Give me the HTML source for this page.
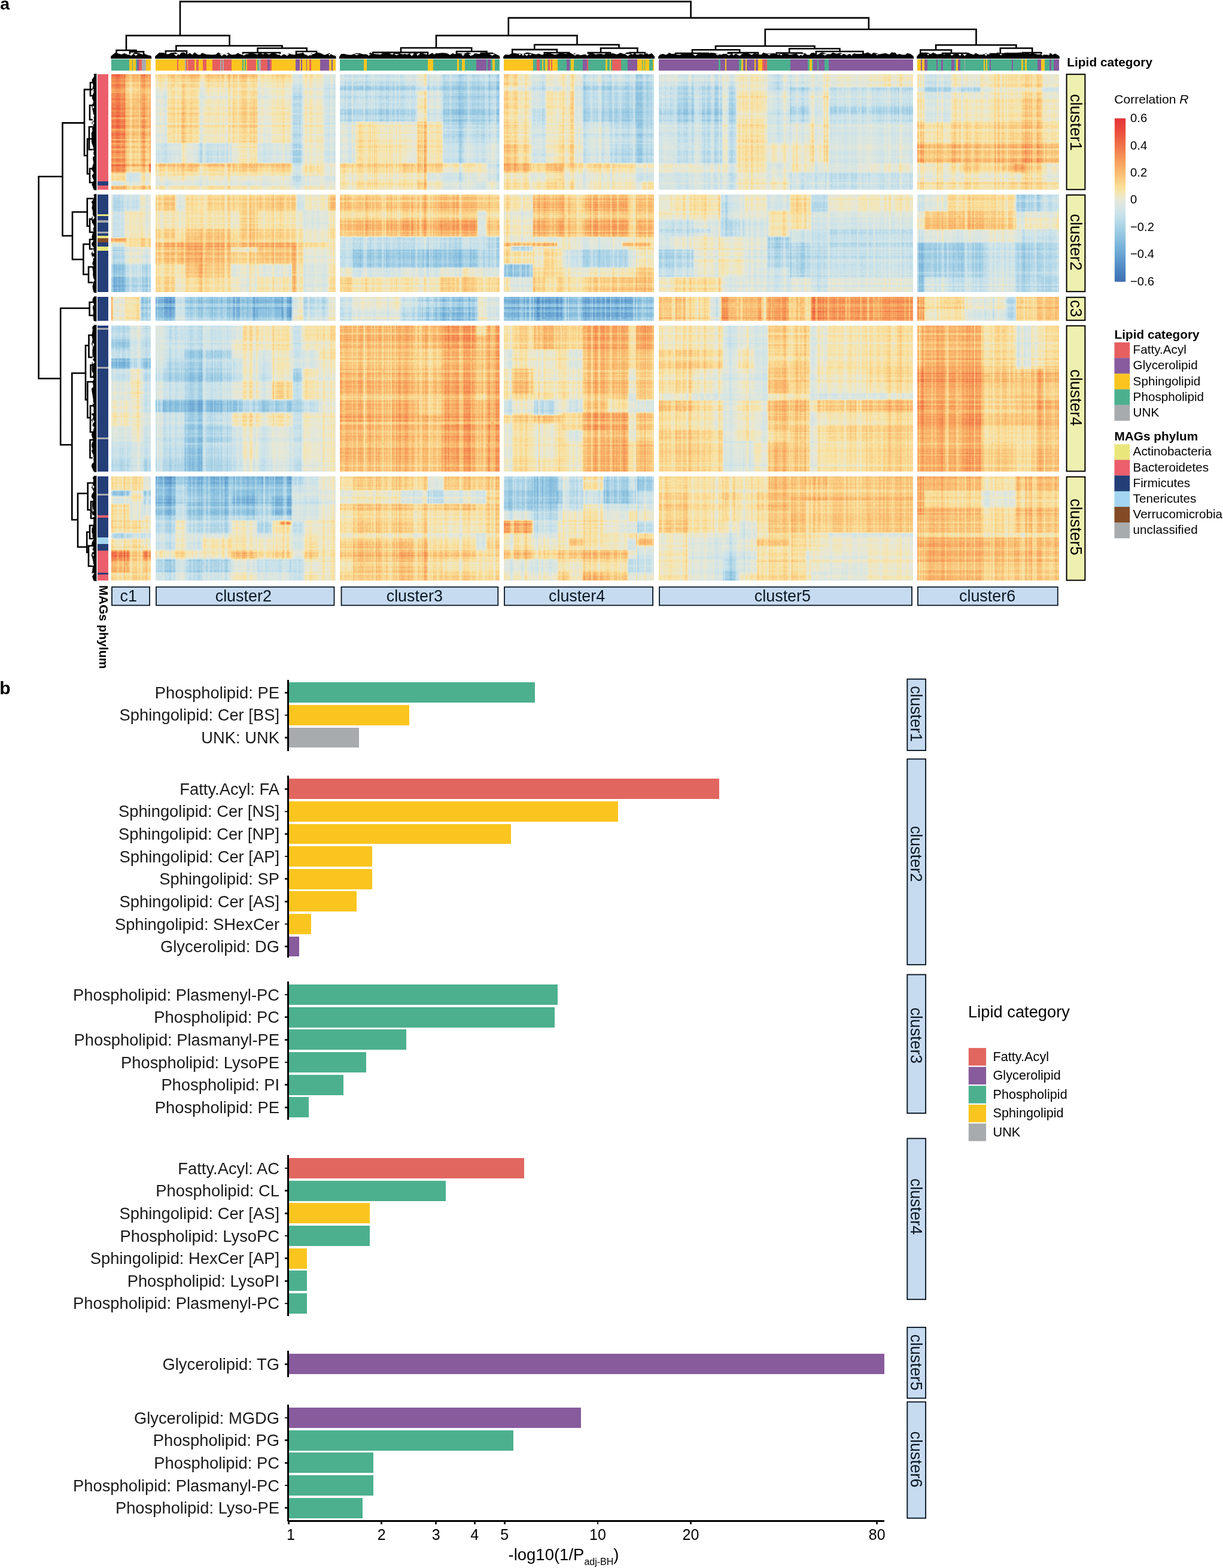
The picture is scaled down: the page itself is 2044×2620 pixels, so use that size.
<!DOCTYPE html>
<html lang="en"><head><meta charset="utf-8"><title>Figure</title>
<style>html,body{margin:0;padding:0;background:#fff;font-family:"Liberation Sans",sans-serif}svg{display:block}</style></head>
<body>
<svg width="2044" height="2620" viewBox="0 0 2044 2620" font-family="'Liberation Sans', sans-serif" role="img" aria-label="Heatmap of MAG-lipid correlations and lipid class enrichment bar chart">
<rect width="2044" height="2620" fill="#fff"/>
<defs><filter id="hm" filterUnits="userSpaceOnUse" primitiveUnits="userSpaceOnUse" x="178" y="116" width="1600" height="862.3" color-interpolation-filters="sRGB"><feOffset in="SourceGraphic" dx="0" dy="0" result="b"/><feTurbulence type="fractalNoise" baseFrequency="0.5 0.002" numOctaves="2" seed="3" result="t1"/><feColorMatrix in="t1" type="matrix" values="2.5 0 0 0 -0.75 2.5 0 0 0 -0.75 2.5 0 0 0 -0.75 0 0 0 0 1" result="n1"/><feTurbulence type="fractalNoise" baseFrequency="0.002 0.36" numOctaves="2" seed="8" result="t2"/><feColorMatrix in="t2" type="matrix" values="2.5 0 0 0 -0.75 2.5 0 0 0 -0.75 2.5 0 0 0 -0.75 0 0 0 0 1" result="n2"/><feTurbulence type="fractalNoise" baseFrequency="0.45 0.36" numOctaves="1" seed="21" result="t3"/><feColorMatrix in="t3" type="matrix" values="2.5 0 0 0 -0.75 2.5 0 0 0 -0.75 2.5 0 0 0 -0.75 0 0 0 0 1" result="n3"/><feTurbulence type="fractalNoise" baseFrequency="0.17 0.005" numOctaves="2" seed="40" result="t4"/><feColorMatrix in="t4" type="matrix" values="2.5 0 0 0 -0.75 2.5 0 0 0 -0.75 2.5 0 0 0 -0.75 0 0 0 0 1" result="n4"/><feComposite in="b" in2="n1" operator="arithmetic" k1="0.2" k2="0.9" k3="-0.1" k4="0.05" result="m1"/><feComposite in="m1" in2="n2" operator="arithmetic" k1="0.12" k2="0.94" k3="-0.06" k4="0.03" result="m2"/><feComposite in="m2" in2="n4" operator="arithmetic" k1="0" k2="1" k3="0.04" k4="-0.02" result="m3"/><feComposite in="m3" in2="n2" operator="arithmetic" k1="0" k2="1" k3="0.02" k4="-0.01" result="m4"/><feComposite in="m4" in2="n3" operator="arithmetic" k1="0" k2="1" k3="0.03" k4="-0.015" result="m5"/><feComponentTransfer in="m5"><feFuncR type="table" tableValues="0.243 0.259 0.278 0.294 0.31 0.337 0.361 0.388 0.412 0.439 0.471 0.498 0.525 0.557 0.592 0.627 0.659 0.694 0.729 0.761 0.796 0.824 0.847 0.875 0.902 0.929 0.957 0.973 0.984 0.984 0.98 0.98 0.98 0.976 0.973 0.969 0.965 0.957 0.953 0.949 0.941 0.937 0.933 0.925 0.922 0.918 0.91 0.902 0.898"/><feFuncG type="table" tableValues="0.435 0.459 0.486 0.51 0.533 0.561 0.588 0.616 0.643 0.667 0.69 0.718 0.741 0.761 0.784 0.804 0.824 0.839 0.855 0.875 0.89 0.894 0.902 0.906 0.91 0.906 0.902 0.886 0.867 0.835 0.8 0.769 0.737 0.702 0.667 0.631 0.596 0.561 0.522 0.486 0.447 0.412 0.376 0.341 0.306 0.282 0.255 0.227 0.204"/><feFuncB type="table" tableValues="0.698 0.714 0.733 0.753 0.769 0.784 0.8 0.812 0.827 0.839 0.847 0.859 0.871 0.878 0.886 0.894 0.902 0.91 0.914 0.918 0.925 0.906 0.886 0.871 0.851 0.776 0.706 0.647 0.588 0.549 0.514 0.478 0.439 0.416 0.392 0.369 0.345 0.329 0.314 0.298 0.282 0.271 0.259 0.247 0.235 0.231 0.227 0.224 0.22"/></feComponentTransfer></filter><filter id="hb" filterUnits="userSpaceOnUse" primitiveUnits="userSpaceOnUse" x="178" y="116" width="1600" height="862.3" color-interpolation-filters="sRGB"><feGaussianBlur stdDeviation="1.0"/></filter></defs>
<g filter="url(#hm)">
<g filter="url(#hb)">
<rect x="180" y="118" width="1596" height="858.3" fill="#808080"/>
<path fill="#D7D7D7" d="M180 118H209.6V138.2H180Z"/>
<path fill="#B0B0B0" d="M209.3 118H235.2V138.2H209.3Z"/>
<path fill="#D3D3D3" d="M234.9 118H249V138.2H234.9Z"/>
<path fill="#C1C1C1" d="M248.7 118H259.9V138.2H248.7Z"/>
<path fill="#929292" d="M259.6 118H278.7V138.2H259.6Z"/>
<path fill="#A1A1A1" d="M278.4 118H305V138.2H278.4Z"/>
<path fill="#AAAAAA" d="M304.7 118H311.9V138.2H304.7Z"/>
<path fill="#A6A6A6" d="M311.6 118H331.4V138.2H311.6Z"/>
<path fill="#A1A1A1" d="M331.1 118H387.4V138.2H331.1Z"/>
<path fill="#A6A6A6" d="M387.1 118H400V138.2H387.1Z"/>
<path fill="#AAAAAA" d="M399.7 118H430.9V138.2H399.7Z"/>
<path fill="#8F8F8F" d="M430.6 118H454.9V138.2H430.6Z"/>
<path fill="#9B9B9B" d="M454.6 118H488.1V138.2H454.6Z"/>
<path fill="#6F6F6F" d="M487.8 118H506.4V138.2H487.8Z"/>
<path fill="#929292" d="M506.1 118H540.8V138.2H506.1Z"/>
<path fill="#757575" d="M540.5 118H561.4V138.2H540.5Z"/>
<path fill="#CCCCCC" d="M180 137.9H209.6V152.3H180Z"/>
<path fill="#A0A0A0" d="M209.3 137.9H235.2V152.3H209.3Z"/>
<path fill="#C1C1C1" d="M234.9 137.9H249V152.3H234.9Z"/>
<path fill="#B6B6B6" d="M248.7 137.9H259.9V152.3H248.7Z"/>
<path fill="#878787" d="M259.6 137.9H278.7V152.3H259.6Z"/>
<path fill="#969696" d="M278.4 137.9H305V152.3H278.4Z"/>
<path fill="#A6A6A6" d="M304.7 137.9H311.9V152.3H304.7Z"/>
<path fill="#969696" d="M311.6 137.9H331.4V152.3H311.6Z"/>
<path fill="#8F8F8F" d="M331.1 137.9H387.4V152.3H331.1Z"/>
<path fill="#969696" d="M387.1 137.9H400V152.3H387.1ZM399.7 137.9H430.9V152.3H399.7Z"/>
<path fill="#848484" d="M430.6 137.9H454.9V152.3H430.6Z"/>
<path fill="#8C8C8C" d="M454.6 137.9H488.1V152.3H454.6Z"/>
<path fill="#6B6B6B" d="M487.8 137.9H506.4V152.3H487.8Z"/>
<path fill="#878787" d="M506.1 137.9H540.8V152.3H506.1Z"/>
<path fill="#6F6F6F" d="M540.5 137.9H561.4V152.3H540.5Z"/>
<path fill="#D3D3D3" d="M180 152H209.6V239.3H180Z"/>
<path fill="#A7A7A7" d="M209.3 152H235.2V239.3H209.3Z"/>
<path fill="#C1C1C1" d="M234.9 152H249V239.3H234.9Z"/>
<path fill="#B0B0B0" d="M248.7 152H259.9V239.3H248.7Z"/>
<path fill="#797979" d="M259.6 152H278.7V239.3H259.6Z"/>
<path fill="#969696" d="M278.4 152H305V239.3H278.4Z"/>
<path fill="#A9A9A9" d="M304.7 152H311.9V239.3H304.7Z"/>
<path fill="#969696" d="M311.6 152H331.4V239.3H311.6Z"/>
<path fill="#878787" d="M331.1 152H387.4V239.3H331.1Z"/>
<path fill="#969696" d="M387.1 152H400V239.3H387.1Z"/>
<path fill="#9E9E9E" d="M399.7 152H430.9V239.3H399.7Z"/>
<path fill="#808080" d="M430.6 152H454.9V239.3H430.6Z"/>
<path fill="#8A8A8A" d="M454.6 152H488.1V239.3H454.6Z"/>
<path fill="#5E5E5E" d="M487.8 152H506.4V239.3H487.8Z"/>
<path fill="#8A8A8A" d="M506.1 152H540.8V239.3H506.1Z"/>
<path fill="#6F6F6F" d="M540.5 152H561.4V239.3H540.5Z"/>
<path fill="#CCCCCC" d="M180 239H209.6V273.2H180Z"/>
<path fill="#A0A0A0" d="M209.3 239H235.2V273.2H209.3Z"/>
<path fill="#B6B6B6" d="M234.9 239H249V273.2H234.9Z"/>
<path fill="#ABABAB" d="M248.7 239H259.9V273.2H248.7Z"/>
<path fill="#676767" d="M259.6 239H278.7V273.2H259.6Z"/>
<path fill="#737373" d="M278.4 239H305V273.2H278.4Z"/>
<path fill="#8C8C8C" d="M304.7 239H311.9V273.2H304.7Z"/>
<path fill="#797979" d="M311.6 239H331.4V273.2H311.6Z"/>
<path fill="#646464" d="M331.1 239H387.4V273.2H331.1Z"/>
<path fill="#808080" d="M387.1 239H400V273.2H387.1Z"/>
<path fill="#8F8F8F" d="M399.7 239H430.9V273.2H399.7Z"/>
<path fill="#6F6F6F" d="M430.6 239H454.9V273.2H430.6Z"/>
<path fill="#737373" d="M454.6 239H488.1V273.2H454.6Z"/>
<path fill="#525252" d="M487.8 239H506.4V273.2H487.8Z"/>
<path fill="#848484" d="M506.1 239H540.8V273.2H506.1Z"/>
<path fill="#6B6B6B" d="M540.5 239H561.4V273.2H540.5Z"/>
<path fill="#D7D7D7" d="M180 272.9H209.6V278.2H180Z"/>
<path fill="#B6B6B6" d="M209.3 272.9H235.2V278.2H209.3Z"/>
<path fill="#C1C1C1" d="M234.9 272.9H249V278.2H234.9Z"/>
<path fill="#E2E2E2" d="M248.7 272.9H259.9V278.2H248.7Z"/>
<path fill="#B5B5B5" d="M259.6 272.9H278.7V278.2H259.6ZM278.4 272.9H305V278.2H278.4ZM304.7 272.9H311.9V278.2H304.7ZM311.6 272.9H331.4V278.2H311.6Z"/>
<path fill="#B2B2B2" d="M331.1 272.9H387.4V278.2H331.1Z"/>
<path fill="#B5B5B5" d="M387.1 272.9H400V278.2H387.1ZM399.7 272.9H430.9V278.2H399.7Z"/>
<path fill="#ADADAD" d="M430.6 272.9H454.9V278.2H430.6Z"/>
<path fill="#B0B0B0" d="M454.6 272.9H488.1V278.2H454.6Z"/>
<path fill="#6B6B6B" d="M487.8 272.9H506.4V278.2H487.8Z"/>
<path fill="#929292" d="M506.1 272.9H540.8V278.2H506.1Z"/>
<path fill="#878787" d="M540.5 272.9H561.4V278.2H540.5Z"/>
<path fill="#DCDCDC" d="M180 277.9H209.6V288.5H180Z"/>
<path fill="#A0A0A0" d="M209.3 277.9H235.2V288.5H209.3Z"/>
<path fill="#B0B0B0" d="M234.9 277.9H249V288.5H234.9Z"/>
<path fill="#E2E2E2" d="M248.7 277.9H259.9V288.5H248.7Z"/>
<path fill="#9B9B9B" d="M259.6 277.9H278.7V288.5H259.6Z"/>
<path fill="#A1A1A1" d="M278.4 277.9H305V288.5H278.4Z"/>
<path fill="#A6A6A6" d="M304.7 277.9H311.9V288.5H304.7ZM311.6 277.9H331.4V288.5H311.6Z"/>
<path fill="#969696" d="M331.1 277.9H387.4V288.5H331.1Z"/>
<path fill="#AAAAAA" d="M387.1 277.9H400V288.5H387.1Z"/>
<path fill="#ADADAD" d="M399.7 277.9H430.9V288.5H399.7Z"/>
<path fill="#9B9B9B" d="M430.6 277.9H454.9V288.5H430.6Z"/>
<path fill="#A1A1A1" d="M454.6 277.9H488.1V288.5H454.6Z"/>
<path fill="#6F6F6F" d="M487.8 277.9H506.4V288.5H487.8Z"/>
<path fill="#9B9B9B" d="M506.1 277.9H540.8V288.5H506.1Z"/>
<path fill="#797979" d="M540.5 277.9H561.4V288.5H540.5Z"/>
<path fill="#A0A0A0" d="M180 288.2H209.6V303.4H180Z"/>
<path fill="#797979" d="M209.3 288.2H235.2V303.4H209.3Z"/>
<path fill="#959595" d="M234.9 288.2H249V303.4H234.9ZM248.7 288.2H259.9V303.4H248.7Z"/>
<path fill="#878787" d="M259.6 288.2H278.7V303.4H259.6Z"/>
<path fill="#8C8C8C" d="M278.4 288.2H305V303.4H278.4Z"/>
<path fill="#929292" d="M304.7 288.2H311.9V303.4H304.7Z"/>
<path fill="#878787" d="M311.6 288.2H331.4V303.4H311.6ZM331.1 288.2H387.4V303.4H331.1ZM387.1 288.2H400V303.4H387.1Z"/>
<path fill="#8C8C8C" d="M399.7 288.2H430.9V303.4H399.7Z"/>
<path fill="#848484" d="M430.6 288.2H454.9V303.4H430.6ZM454.6 288.2H488.1V303.4H454.6Z"/>
<path fill="#676767" d="M487.8 288.2H506.4V303.4H487.8Z"/>
<path fill="#848484" d="M506.1 288.2H540.8V303.4H506.1Z"/>
<path fill="#757575" d="M540.5 288.2H561.4V303.4H540.5Z"/>
<path fill="#6F6F6F" d="M180 303.1H209.6V310.3H180Z"/>
<path fill="#797979" d="M209.3 303.1H235.2V310.3H209.3Z"/>
<path fill="#808080" d="M234.9 303.1H249V310.3H234.9ZM248.7 303.1H259.9V310.3H248.7Z"/>
<path fill="#757575" d="M259.6 303.1H278.7V310.3H259.6ZM278.4 303.1H305V310.3H278.4Z"/>
<path fill="#797979" d="M304.7 303.1H311.9V310.3H304.7Z"/>
<path fill="#757575" d="M311.6 303.1H331.4V310.3H311.6ZM331.1 303.1H387.4V310.3H331.1ZM387.1 303.1H400V310.3H387.1ZM399.7 303.1H430.9V310.3H399.7ZM430.6 303.1H454.9V310.3H430.6ZM454.6 303.1H488.1V310.3H454.6Z"/>
<path fill="#676767" d="M487.8 303.1H506.4V310.3H487.8Z"/>
<path fill="#757575" d="M506.1 303.1H540.8V310.3H506.1ZM540.5 303.1H561.4V310.3H540.5Z"/>
<path fill="#B0B0B0" d="M180 310H209.6V319.4H180Z"/>
<path fill="#9A9A9A" d="M209.3 310H235.2V319.4H209.3Z"/>
<path fill="#ABABAB" d="M234.9 310H249V319.4H234.9ZM248.7 310H259.9V319.4H248.7Z"/>
<path fill="#8C8C8C" d="M259.6 310H278.7V319.4H259.6ZM278.4 310H305V319.4H278.4Z"/>
<path fill="#8F8F8F" d="M304.7 310H311.9V319.4H304.7Z"/>
<path fill="#8C8C8C" d="M311.6 310H331.4V319.4H311.6Z"/>
<path fill="#8F8F8F" d="M331.1 310H387.4V319.4H331.1ZM387.1 310H400V319.4H387.1ZM399.7 310H430.9V319.4H399.7Z"/>
<path fill="#878787" d="M430.6 310H454.9V319.4H430.6ZM454.6 310H488.1V319.4H454.6Z"/>
<path fill="#757575" d="M487.8 310H506.4V319.4H487.8Z"/>
<path fill="#8C8C8C" d="M506.1 310H540.8V319.4H506.1Z"/>
<path fill="#808080" d="M540.5 310H561.4V319.4H540.5Z"/>
<path fill="#717171" d="M564.6 118H576.3V143.2H564.6Z"/>
<path fill="#696969" d="M576 118H594.6V143.2H576Z"/>
<path fill="#6D6D6D" d="M594.3 118H624.4V143.2H594.3Z"/>
<path fill="#696969" d="M624.1 118H672.4V143.2H624.1Z"/>
<path fill="#717171" d="M672.1 118H697.6V143.2H672.1Z"/>
<path fill="#898989" d="M697.3 118H713.6V143.2H697.3Z"/>
<path fill="#767676" d="M713.3 118H741.1V143.2H713.3Z"/>
<path fill="#5E5E5E" d="M740.8 118H766.3V143.2H740.8Z"/>
<path fill="#565656" d="M766 118H776.6V143.2H766Z"/>
<path fill="#5E5E5E" d="M776.3 118H796V143.2H776.3Z"/>
<path fill="#636363" d="M795.7 118H814.3V143.2H795.7Z"/>
<path fill="#565656" d="M814 118H838.6V143.2H814Z"/>
<path fill="#A2A2A2" d="M838.3 118H865.8V143.2H838.3Z"/>
<path fill="#8F8F8F" d="M865.5 118H889.9V143.2H865.5Z"/>
<path fill="#717171" d="M889.6 118H912.8V143.2H889.6Z"/>
<path fill="#898989" d="M912.5 118H931.1V143.2H912.5Z"/>
<path fill="#858585" d="M930.8 118H950.3V143.2H930.8Z"/>
<path fill="#565656" d="M564.6 142.9H576.3V152.3H564.6Z"/>
<path fill="#515151" d="M576 142.9H594.6V152.3H576ZM594.3 142.9H624.4V152.3H594.3ZM624.1 142.9H672.4V152.3H624.1Z"/>
<path fill="#565656" d="M672.1 142.9H697.6V152.3H672.1Z"/>
<path fill="#6D6D6D" d="M697.3 142.9H713.6V152.3H697.3Z"/>
<path fill="#636363" d="M713.3 142.9H741.1V152.3H713.3Z"/>
<path fill="#4B4B4B" d="M740.8 142.9H766.3V152.3H740.8Z"/>
<path fill="#474747" d="M766 142.9H776.6V152.3H766Z"/>
<path fill="#515151" d="M776.3 142.9H796V152.3H776.3ZM795.7 142.9H814.3V152.3H795.7Z"/>
<path fill="#474747" d="M814 142.9H838.6V152.3H814Z"/>
<path fill="#898989" d="M838.3 142.9H865.8V152.3H838.3Z"/>
<path fill="#808080" d="M865.5 142.9H889.9V152.3H865.5Z"/>
<path fill="#636363" d="M889.6 142.9H912.8V152.3H889.6Z"/>
<path fill="#7A7A7A" d="M912.5 142.9H931.1V152.3H912.5Z"/>
<path fill="#717171" d="M930.8 142.9H950.3V152.3H930.8Z"/>
<path fill="#696969" d="M564.6 152H576.3V181H564.6Z"/>
<path fill="#636363" d="M576 152H594.6V181H576Z"/>
<path fill="#6D6D6D" d="M594.3 152H624.4V181H594.3Z"/>
<path fill="#636363" d="M624.1 152H672.4V181H624.1Z"/>
<path fill="#696969" d="M672.1 152H697.6V181H672.1Z"/>
<path fill="#8F8F8F" d="M697.3 152H713.6V181H697.3Z"/>
<path fill="#7A7A7A" d="M713.3 152H741.1V181H713.3Z"/>
<path fill="#565656" d="M740.8 152H766.3V181H740.8Z"/>
<path fill="#4B4B4B" d="M766 152H776.6V181H766Z"/>
<path fill="#565656" d="M776.3 152H796V181H776.3Z"/>
<path fill="#5A5A5A" d="M795.7 152H814.3V181H795.7Z"/>
<path fill="#565656" d="M814 152H838.6V181H814Z"/>
<path fill="#9C9C9C" d="M838.3 152H865.8V181H838.3Z"/>
<path fill="#8F8F8F" d="M865.5 152H889.9V181H865.5Z"/>
<path fill="#717171" d="M889.6 152H912.8V181H889.6Z"/>
<path fill="#8F8F8F" d="M912.5 152H931.1V181H912.5Z"/>
<path fill="#898989" d="M930.8 152H950.3V181H930.8Z"/>
<path fill="#5A5A5A" d="M564.6 180.7H576.3V203.8H564.6Z"/>
<path fill="#515151" d="M576 180.7H594.6V203.8H576Z"/>
<path fill="#5A5A5A" d="M594.3 180.7H624.4V203.8H594.3Z"/>
<path fill="#515151" d="M624.1 180.7H672.4V203.8H624.1Z"/>
<path fill="#5A5A5A" d="M672.1 180.7H697.6V203.8H672.1Z"/>
<path fill="#898989" d="M697.3 180.7H713.6V203.8H697.3Z"/>
<path fill="#717171" d="M713.3 180.7H741.1V203.8H713.3Z"/>
<path fill="#474747" d="M740.8 180.7H766.3V203.8H740.8Z"/>
<path fill="#3E3E3E" d="M766 180.7H776.6V203.8H766Z"/>
<path fill="#4B4B4B" d="M776.3 180.7H796V203.8H776.3ZM795.7 180.7H814.3V203.8H795.7ZM814 180.7H838.6V203.8H814Z"/>
<path fill="#969696" d="M838.3 180.7H865.8V203.8H838.3Z"/>
<path fill="#898989" d="M865.5 180.7H889.9V203.8H865.5Z"/>
<path fill="#5E5E5E" d="M889.6 180.7H912.8V203.8H889.6Z"/>
<path fill="#898989" d="M912.5 180.7H931.1V203.8H912.5Z"/>
<path fill="#808080" d="M930.8 180.7H950.3V203.8H930.8Z"/>
<path fill="#7A7A7A" d="M564.6 203.5H576.3V239.3H564.6Z"/>
<path fill="#767676" d="M576 203.5H594.6V239.3H576Z"/>
<path fill="#939393" d="M594.3 203.5H624.4V239.3H594.3Z"/>
<path fill="#898989" d="M624.1 203.5H672.4V239.3H624.1Z"/>
<path fill="#858585" d="M672.1 203.5H697.6V239.3H672.1Z"/>
<path fill="#A2A2A2" d="M697.3 203.5H713.6V239.3H697.3Z"/>
<path fill="#8F8F8F" d="M713.3 203.5H741.1V239.3H713.3Z"/>
<path fill="#5E5E5E" d="M740.8 203.5H766.3V239.3H740.8Z"/>
<path fill="#515151" d="M766 203.5H776.6V239.3H766Z"/>
<path fill="#636363" d="M776.3 203.5H796V239.3H776.3Z"/>
<path fill="#5E5E5E" d="M795.7 203.5H814.3V239.3H795.7Z"/>
<path fill="#636363" d="M814 203.5H838.6V239.3H814Z"/>
<path fill="#9C9C9C" d="M838.3 203.5H865.8V239.3H838.3Z"/>
<path fill="#8F8F8F" d="M865.5 203.5H889.9V239.3H865.5Z"/>
<path fill="#6D6D6D" d="M889.6 203.5H912.8V239.3H889.6Z"/>
<path fill="#898989" d="M912.5 203.5H931.1V239.3H912.5ZM930.8 203.5H950.3V239.3H930.8Z"/>
<path fill="#717171" d="M564.6 239H576.3V273.2H564.6ZM576 239H594.6V273.2H576Z"/>
<path fill="#939393" d="M594.3 239H624.4V273.2H594.3Z"/>
<path fill="#8F8F8F" d="M624.1 239H672.4V273.2H624.1Z"/>
<path fill="#858585" d="M672.1 239H697.6V273.2H672.1Z"/>
<path fill="#A6A6A6" d="M697.3 239H713.6V273.2H697.3Z"/>
<path fill="#8F8F8F" d="M713.3 239H741.1V273.2H713.3Z"/>
<path fill="#696969" d="M740.8 239H766.3V273.2H740.8Z"/>
<path fill="#5A5A5A" d="M766 239H776.6V273.2H766Z"/>
<path fill="#6D6D6D" d="M776.3 239H796V273.2H776.3Z"/>
<path fill="#696969" d="M795.7 239H814.3V273.2H795.7Z"/>
<path fill="#717171" d="M814 239H838.6V273.2H814Z"/>
<path fill="#A6A6A6" d="M838.3 239H865.8V273.2H838.3Z"/>
<path fill="#969696" d="M865.5 239H889.9V273.2H865.5Z"/>
<path fill="#6D6D6D" d="M889.6 239H912.8V273.2H889.6Z"/>
<path fill="#898989" d="M912.5 239H931.1V273.2H912.5Z"/>
<path fill="#8F8F8F" d="M930.8 239H950.3V273.2H930.8Z"/>
<path fill="#A6A6A6" d="M564.6 272.9H576.3V280.5H564.6Z"/>
<path fill="#A2A2A2" d="M576 272.9H594.6V280.5H576Z"/>
<path fill="#AAAAAA" d="M594.3 272.9H624.4V280.5H594.3ZM624.1 272.9H672.4V280.5H624.1Z"/>
<path fill="#B5B5B5" d="M672.1 272.9H697.6V280.5H672.1Z"/>
<path fill="#BDBDBD" d="M697.3 272.9H713.6V280.5H697.3Z"/>
<path fill="#AFAFAF" d="M713.3 272.9H741.1V280.5H713.3Z"/>
<path fill="#9C9C9C" d="M740.8 272.9H766.3V280.5H740.8Z"/>
<path fill="#969696" d="M766 272.9H776.6V280.5H766ZM776.3 272.9H796V280.5H776.3Z"/>
<path fill="#939393" d="M795.7 272.9H814.3V280.5H795.7Z"/>
<path fill="#636363" d="M814 272.9H838.6V280.5H814Z"/>
<path fill="#C2C2C2" d="M838.3 272.9H865.8V280.5H838.3Z"/>
<path fill="#B9B9B9" d="M865.5 272.9H889.9V280.5H865.5Z"/>
<path fill="#9C9C9C" d="M889.6 272.9H912.8V280.5H889.6Z"/>
<path fill="#B5B5B5" d="M912.5 272.9H931.1V280.5H912.5Z"/>
<path fill="#AFAFAF" d="M930.8 272.9H950.3V280.5H930.8Z"/>
<path fill="#969696" d="M564.6 280.2H576.3V288.5H564.6Z"/>
<path fill="#939393" d="M576 280.2H594.6V288.5H576Z"/>
<path fill="#9C9C9C" d="M594.3 280.2H624.4V288.5H594.3ZM624.1 280.2H672.4V288.5H624.1Z"/>
<path fill="#AAAAAA" d="M672.1 280.2H697.6V288.5H672.1Z"/>
<path fill="#B5B5B5" d="M697.3 280.2H713.6V288.5H697.3Z"/>
<path fill="#A2A2A2" d="M713.3 280.2H741.1V288.5H713.3Z"/>
<path fill="#898989" d="M740.8 280.2H766.3V288.5H740.8Z"/>
<path fill="#858585" d="M766 280.2H776.6V288.5H766Z"/>
<path fill="#898989" d="M776.3 280.2H796V288.5H776.3Z"/>
<path fill="#8F8F8F" d="M795.7 280.2H814.3V288.5H795.7Z"/>
<path fill="#696969" d="M814 280.2H838.6V288.5H814Z"/>
<path fill="#B9B9B9" d="M838.3 280.2H865.8V288.5H838.3Z"/>
<path fill="#B5B5B5" d="M865.5 280.2H889.9V288.5H865.5Z"/>
<path fill="#939393" d="M889.6 280.2H912.8V288.5H889.6Z"/>
<path fill="#AFAFAF" d="M912.5 280.2H931.1V288.5H912.5Z"/>
<path fill="#B5B5B5" d="M930.8 280.2H950.3V288.5H930.8Z"/>
<path fill="#8F8F8F" d="M564.6 288.2H576.3V303.4H564.6Z"/>
<path fill="#898989" d="M576 288.2H594.6V303.4H576Z"/>
<path fill="#8F8F8F" d="M594.3 288.2H624.4V303.4H594.3ZM624.1 288.2H672.4V303.4H624.1Z"/>
<path fill="#939393" d="M672.1 288.2H697.6V303.4H672.1Z"/>
<path fill="#969696" d="M697.3 288.2H713.6V303.4H697.3Z"/>
<path fill="#808080" d="M713.3 288.2H741.1V303.4H713.3Z"/>
<path fill="#767676" d="M740.8 288.2H766.3V303.4H740.8Z"/>
<path fill="#717171" d="M766 288.2H776.6V303.4H766Z"/>
<path fill="#7A7A7A" d="M776.3 288.2H796V303.4H776.3Z"/>
<path fill="#858585" d="M795.7 288.2H814.3V303.4H795.7Z"/>
<path fill="#6D6D6D" d="M814 288.2H838.6V303.4H814Z"/>
<path fill="#8F8F8F" d="M838.3 288.2H865.8V303.4H838.3ZM865.5 288.2H889.9V303.4H865.5Z"/>
<path fill="#808080" d="M889.6 288.2H912.8V303.4H889.6Z"/>
<path fill="#969696" d="M912.5 288.2H931.1V303.4H912.5ZM930.8 288.2H950.3V303.4H930.8Z"/>
<path fill="#898989" d="M564.6 303.1H576.3V319.4H564.6Z"/>
<path fill="#858585" d="M576 303.1H594.6V319.4H576Z"/>
<path fill="#939393" d="M594.3 303.1H624.4V319.4H594.3Z"/>
<path fill="#8F8F8F" d="M624.1 303.1H672.4V319.4H624.1Z"/>
<path fill="#939393" d="M672.1 303.1H697.6V319.4H672.1Z"/>
<path fill="#A2A2A2" d="M697.3 303.1H713.6V319.4H697.3Z"/>
<path fill="#898989" d="M713.3 303.1H741.1V319.4H713.3Z"/>
<path fill="#7A7A7A" d="M740.8 303.1H766.3V319.4H740.8ZM766 303.1H776.6V319.4H766Z"/>
<path fill="#767676" d="M776.3 303.1H796V319.4H776.3Z"/>
<path fill="#717171" d="M795.7 303.1H814.3V319.4H795.7Z"/>
<path fill="#7A7A7A" d="M814 303.1H838.6V319.4H814Z"/>
<path fill="#939393" d="M838.3 303.1H865.8V319.4H838.3ZM865.5 303.1H889.9V319.4H865.5Z"/>
<path fill="#898989" d="M889.6 303.1H912.8V319.4H889.6Z"/>
<path fill="#9C9C9C" d="M912.5 303.1H931.1V319.4H912.5Z"/>
<path fill="#8F8F8F" d="M930.8 303.1H950.3V319.4H930.8Z"/>
<path fill="#898989" d="M940 118H951.7V143.2H940Z"/>
<path fill="#969696" d="M951.4 118H959.8V143.2H951.4Z"/>
<path fill="#808080" d="M959.5 118H974.6V143.2H959.5Z"/>
<path fill="#696969" d="M974.3 118H1022.7V143.2H974.3ZM1022.4 118H1063.9V143.2H1022.4Z"/>
<path fill="#515151" d="M1063.6 118H1073V143.2H1063.6Z"/>
<path fill="#636363" d="M1072.7 118H1097.8V143.2H1072.7Z"/>
<path fill="#7A7A7A" d="M1097.5 118H1121.1V143.2H1097.5ZM1120.8 118H1132.6V143.2H1120.8Z"/>
<path fill="#717171" d="M1132.3 118H1160V143.2H1132.3Z"/>
<path fill="#7A7A7A" d="M1159.7 118H1169.2V143.2H1159.7Z"/>
<path fill="#717171" d="M1168.9 118H1208.1V143.2H1168.9Z"/>
<path fill="#898989" d="M1207.8 118H1217.2V143.2H1207.8Z"/>
<path fill="#7A7A7A" d="M1216.9 118H1231V143.2H1216.9Z"/>
<path fill="#8F8F8F" d="M1230.7 118H1283.6V143.2H1230.7Z"/>
<path fill="#6E6E6E" d="M1283.3 118H1313.4V143.2H1283.3Z"/>
<path fill="#7A7A7A" d="M1313.1 118H1330.3V143.2H1313.1Z"/>
<path fill="#808080" d="M940 142.9H951.7V152.3H940Z"/>
<path fill="#8F8F8F" d="M951.4 142.9H959.8V152.3H951.4Z"/>
<path fill="#717171" d="M959.5 142.9H974.6V152.3H959.5Z"/>
<path fill="#515151" d="M974.3 142.9H1022.7V152.3H974.3Z"/>
<path fill="#565656" d="M1022.4 142.9H1063.9V152.3H1022.4Z"/>
<path fill="#474747" d="M1063.6 142.9H1073V152.3H1063.6Z"/>
<path fill="#5A5A5A" d="M1072.7 142.9H1097.8V152.3H1072.7Z"/>
<path fill="#6A6A6A" d="M1097.5 142.9H1121.1V152.3H1097.5Z"/>
<path fill="#656565" d="M1120.8 142.9H1132.6V152.3H1120.8Z"/>
<path fill="#595959" d="M1132.3 142.9H1160V152.3H1132.3Z"/>
<path fill="#6E6E6E" d="M1159.7 142.9H1169.2V152.3H1159.7Z"/>
<path fill="#595959" d="M1168.9 142.9H1208.1V152.3H1168.9Z"/>
<path fill="#808080" d="M1207.8 142.9H1217.2V152.3H1207.8Z"/>
<path fill="#656565" d="M1216.9 142.9H1231V152.3H1216.9Z"/>
<path fill="#898989" d="M1230.7 142.9H1283.6V152.3H1230.7Z"/>
<path fill="#656565" d="M1283.3 142.9H1313.4V152.3H1283.3Z"/>
<path fill="#6E6E6E" d="M1313.1 142.9H1330.3V152.3H1313.1Z"/>
<path fill="#898989" d="M940 152H951.7V181H940Z"/>
<path fill="#9C9C9C" d="M951.4 152H959.8V181H951.4Z"/>
<path fill="#767676" d="M959.5 152H974.6V181H959.5Z"/>
<path fill="#5E5E5E" d="M974.3 152H1022.7V181H974.3Z"/>
<path fill="#5A5A5A" d="M1022.4 152H1063.9V181H1022.4Z"/>
<path fill="#474747" d="M1063.6 152H1073V181H1063.6Z"/>
<path fill="#5A5A5A" d="M1072.7 152H1097.8V181H1072.7Z"/>
<path fill="#656565" d="M1097.5 152H1121.1V181H1097.5Z"/>
<path fill="#606060" d="M1120.8 152H1132.6V181H1120.8Z"/>
<path fill="#535353" d="M1132.3 152H1160V181H1132.3Z"/>
<path fill="#717171" d="M1159.7 152H1169.2V181H1159.7Z"/>
<path fill="#595959" d="M1168.9 152H1208.1V181H1168.9Z"/>
<path fill="#808080" d="M1207.8 152H1217.2V181H1207.8Z"/>
<path fill="#595959" d="M1216.9 152H1231V181H1216.9Z"/>
<path fill="#8F8F8F" d="M1230.7 152H1283.6V181H1230.7Z"/>
<path fill="#717171" d="M1283.3 152H1313.4V181H1283.3ZM1313.1 152H1330.3V181H1313.1Z"/>
<path fill="#8F8F8F" d="M940 180.7H951.7V203.8H940Z"/>
<path fill="#9C9C9C" d="M951.4 180.7H959.8V203.8H951.4Z"/>
<path fill="#767676" d="M959.5 180.7H974.6V203.8H959.5Z"/>
<path fill="#515151" d="M974.3 180.7H1022.7V203.8H974.3Z"/>
<path fill="#4B4B4B" d="M1022.4 180.7H1063.9V203.8H1022.4Z"/>
<path fill="#444444" d="M1063.6 180.7H1073V203.8H1063.6Z"/>
<path fill="#565656" d="M1072.7 180.7H1097.8V203.8H1072.7Z"/>
<path fill="#595959" d="M1097.5 180.7H1121.1V203.8H1097.5ZM1120.8 180.7H1132.6V203.8H1120.8Z"/>
<path fill="#4A4A4A" d="M1132.3 180.7H1160V203.8H1132.3Z"/>
<path fill="#6A6A6A" d="M1159.7 180.7H1169.2V203.8H1159.7Z"/>
<path fill="#4E4E4E" d="M1168.9 180.7H1208.1V203.8H1168.9Z"/>
<path fill="#7A7A7A" d="M1207.8 180.7H1217.2V203.8H1207.8Z"/>
<path fill="#535353" d="M1216.9 180.7H1231V203.8H1216.9Z"/>
<path fill="#898989" d="M1230.7 180.7H1283.6V203.8H1230.7Z"/>
<path fill="#6A6A6A" d="M1283.3 180.7H1313.4V203.8H1283.3ZM1313.1 180.7H1330.3V203.8H1313.1Z"/>
<path fill="#8F8F8F" d="M940 203.5H951.7V239.3H940Z"/>
<path fill="#9C9C9C" d="M951.4 203.5H959.8V239.3H951.4Z"/>
<path fill="#808080" d="M959.5 203.5H974.6V239.3H959.5Z"/>
<path fill="#717171" d="M974.3 203.5H1022.7V239.3H974.3Z"/>
<path fill="#636363" d="M1022.4 203.5H1063.9V239.3H1022.4Z"/>
<path fill="#4B4B4B" d="M1063.6 203.5H1073V239.3H1063.6Z"/>
<path fill="#5E5E5E" d="M1072.7 203.5H1097.8V239.3H1072.7Z"/>
<path fill="#717171" d="M1097.5 203.5H1121.1V239.3H1097.5Z"/>
<path fill="#6E6E6E" d="M1120.8 203.5H1132.6V239.3H1120.8Z"/>
<path fill="#656565" d="M1132.3 203.5H1160V239.3H1132.3Z"/>
<path fill="#777777" d="M1159.7 203.5H1169.2V239.3H1159.7Z"/>
<path fill="#656565" d="M1168.9 203.5H1208.1V239.3H1168.9Z"/>
<path fill="#858585" d="M1207.8 203.5H1217.2V239.3H1207.8Z"/>
<path fill="#656565" d="M1216.9 203.5H1231V239.3H1216.9Z"/>
<path fill="#939393" d="M1230.7 203.5H1283.6V239.3H1230.7Z"/>
<path fill="#717171" d="M1283.3 203.5H1313.4V239.3H1283.3Z"/>
<path fill="#777777" d="M1313.1 203.5H1330.3V239.3H1313.1Z"/>
<path fill="#939393" d="M940 239H951.7V273.2H940Z"/>
<path fill="#A2A2A2" d="M951.4 239H959.8V273.2H951.4Z"/>
<path fill="#858585" d="M959.5 239H974.6V273.2H959.5Z"/>
<path fill="#717171" d="M974.3 239H1022.7V273.2H974.3Z"/>
<path fill="#5E5E5E" d="M1022.4 239H1063.9V273.2H1022.4Z"/>
<path fill="#4B4B4B" d="M1063.6 239H1073V273.2H1063.6Z"/>
<path fill="#5E5E5E" d="M1072.7 239H1097.8V273.2H1072.7Z"/>
<path fill="#717171" d="M1097.5 239H1121.1V273.2H1097.5Z"/>
<path fill="#6E6E6E" d="M1120.8 239H1132.6V273.2H1120.8Z"/>
<path fill="#656565" d="M1132.3 239H1160V273.2H1132.3Z"/>
<path fill="#777777" d="M1159.7 239H1169.2V273.2H1159.7Z"/>
<path fill="#606060" d="M1168.9 239H1208.1V273.2H1168.9Z"/>
<path fill="#858585" d="M1207.8 239H1217.2V273.2H1207.8Z"/>
<path fill="#606060" d="M1216.9 239H1231V273.2H1216.9Z"/>
<path fill="#939393" d="M1230.7 239H1283.6V273.2H1230.7Z"/>
<path fill="#858585" d="M1283.3 239H1313.4V273.2H1283.3ZM1313.1 239H1330.3V273.2H1313.1Z"/>
<path fill="#AAAAAA" d="M940 272.9H951.7V280.5H940Z"/>
<path fill="#AFAFAF" d="M951.4 272.9H959.8V280.5H951.4Z"/>
<path fill="#A6A6A6" d="M959.5 272.9H974.6V280.5H959.5Z"/>
<path fill="#A2A2A2" d="M974.3 272.9H1022.7V280.5H974.3Z"/>
<path fill="#9C9C9C" d="M1022.4 272.9H1063.9V280.5H1022.4Z"/>
<path fill="#898989" d="M1063.6 272.9H1073V280.5H1063.6Z"/>
<path fill="#8F8F8F" d="M1072.7 272.9H1097.8V280.5H1072.7Z"/>
<path fill="#858585" d="M1097.5 272.9H1121.1V280.5H1097.5ZM1120.8 272.9H1132.6V280.5H1120.8ZM1132.3 272.9H1160V280.5H1132.3Z"/>
<path fill="#808080" d="M1159.7 272.9H1169.2V280.5H1159.7Z"/>
<path fill="#7A7A7A" d="M1168.9 272.9H1208.1V280.5H1168.9Z"/>
<path fill="#898989" d="M1207.8 272.9H1217.2V280.5H1207.8Z"/>
<path fill="#777777" d="M1216.9 272.9H1231V280.5H1216.9Z"/>
<path fill="#8F8F8F" d="M1230.7 272.9H1283.6V280.5H1230.7Z"/>
<path fill="#717171" d="M1283.3 272.9H1313.4V280.5H1283.3Z"/>
<path fill="#7A7A7A" d="M1313.1 272.9H1330.3V280.5H1313.1Z"/>
<path fill="#969696" d="M940 280.2H951.7V288.5H940Z"/>
<path fill="#9C9C9C" d="M951.4 280.2H959.8V288.5H951.4Z"/>
<path fill="#939393" d="M959.5 280.2H974.6V288.5H959.5Z"/>
<path fill="#8F8F8F" d="M974.3 280.2H1022.7V288.5H974.3ZM1022.4 280.2H1063.9V288.5H1022.4Z"/>
<path fill="#767676" d="M1063.6 280.2H1073V288.5H1063.6Z"/>
<path fill="#808080" d="M1072.7 280.2H1097.8V288.5H1072.7Z"/>
<path fill="#858585" d="M1097.5 280.2H1121.1V288.5H1097.5Z"/>
<path fill="#808080" d="M1120.8 280.2H1132.6V288.5H1120.8Z"/>
<path fill="#858585" d="M1132.3 280.2H1160V288.5H1132.3ZM1159.7 280.2H1169.2V288.5H1159.7Z"/>
<path fill="#808080" d="M1168.9 280.2H1208.1V288.5H1168.9Z"/>
<path fill="#898989" d="M1207.8 280.2H1217.2V288.5H1207.8Z"/>
<path fill="#717171" d="M1216.9 280.2H1231V288.5H1216.9Z"/>
<path fill="#8F8F8F" d="M1230.7 280.2H1283.6V288.5H1230.7Z"/>
<path fill="#7A7A7A" d="M1283.3 280.2H1313.4V288.5H1283.3Z"/>
<path fill="#858585" d="M1313.1 280.2H1330.3V288.5H1313.1Z"/>
<path fill="#8F8F8F" d="M940 288.2H951.7V303.4H940ZM951.4 288.2H959.8V303.4H951.4Z"/>
<path fill="#898989" d="M959.5 288.2H974.6V303.4H959.5Z"/>
<path fill="#858585" d="M974.3 288.2H1022.7V303.4H974.3Z"/>
<path fill="#898989" d="M1022.4 288.2H1063.9V303.4H1022.4Z"/>
<path fill="#717171" d="M1063.6 288.2H1073V303.4H1063.6Z"/>
<path fill="#767676" d="M1072.7 288.2H1097.8V303.4H1072.7Z"/>
<path fill="#7A7A7A" d="M1097.5 288.2H1121.1V303.4H1097.5Z"/>
<path fill="#777777" d="M1120.8 288.2H1132.6V303.4H1120.8Z"/>
<path fill="#7A7A7A" d="M1132.3 288.2H1160V303.4H1132.3Z"/>
<path fill="#808080" d="M1159.7 288.2H1169.2V303.4H1159.7Z"/>
<path fill="#777777" d="M1168.9 288.2H1208.1V303.4H1168.9Z"/>
<path fill="#858585" d="M1207.8 288.2H1217.2V303.4H1207.8Z"/>
<path fill="#6E6E6E" d="M1216.9 288.2H1231V303.4H1216.9Z"/>
<path fill="#8F8F8F" d="M1230.7 288.2H1283.6V303.4H1230.7Z"/>
<path fill="#858585" d="M1283.3 288.2H1313.4V303.4H1283.3Z"/>
<path fill="#898989" d="M1313.1 288.2H1330.3V303.4H1313.1Z"/>
<path fill="#8F8F8F" d="M940 303.1H951.7V319.4H940Z"/>
<path fill="#9C9C9C" d="M951.4 303.1H959.8V319.4H951.4Z"/>
<path fill="#858585" d="M959.5 303.1H974.6V319.4H959.5ZM974.3 303.1H1022.7V319.4H974.3Z"/>
<path fill="#898989" d="M1022.4 303.1H1063.9V319.4H1022.4Z"/>
<path fill="#808080" d="M1063.6 303.1H1073V319.4H1063.6Z"/>
<path fill="#939393" d="M1072.7 303.1H1097.8V319.4H1072.7Z"/>
<path fill="#717171" d="M1097.5 303.1H1121.1V319.4H1097.5ZM1120.8 303.1H1132.6V319.4H1120.8Z"/>
<path fill="#6E6E6E" d="M1132.3 303.1H1160V319.4H1132.3Z"/>
<path fill="#717171" d="M1159.7 303.1H1169.2V319.4H1159.7Z"/>
<path fill="#6E6E6E" d="M1168.9 303.1H1208.1V319.4H1168.9Z"/>
<path fill="#777777" d="M1207.8 303.1H1217.2V319.4H1207.8Z"/>
<path fill="#6A6A6A" d="M1216.9 303.1H1231V319.4H1216.9Z"/>
<path fill="#858585" d="M1230.7 303.1H1283.6V319.4H1230.7ZM1283.3 303.1H1313.4V319.4H1283.3ZM1313.1 303.1H1330.3V319.4H1313.1Z"/>
<path fill="#777777" d="M1320 118H1354V145.9H1320Z"/>
<path fill="#8F8F8F" d="M1353.7 118H1360.8V145.9H1353.7Z"/>
<path fill="#808080" d="M1360.5 118H1377V145.9H1360.5Z"/>
<path fill="#8F8F8F" d="M1376.7 118H1385.1V145.9H1376.7Z"/>
<path fill="#858585" d="M1384.8 118H1449.9V145.9H1384.8Z"/>
<path fill="#898989" d="M1449.6 118H1455.3V145.9H1449.6ZM1455 118H1529.5V145.9H1455Z"/>
<path fill="#919191" d="M1529.2 118H1545.7V145.9H1529.2Z"/>
<path fill="#6F6F6F" d="M1545.4 118H1590.3V145.9H1545.4Z"/>
<path fill="#919191" d="M1590 118H1606.5V145.9H1590Z"/>
<path fill="#808080" d="M1606.2 118H1638.8V145.9H1606.2Z"/>
<path fill="#919191" d="M1638.5 118H1676.6V145.9H1638.5Z"/>
<path fill="#949494" d="M1676.3 118H1709V145.9H1676.3Z"/>
<path fill="#A2A2A2" d="M1708.7 118H1741.4V145.9H1708.7Z"/>
<path fill="#888888" d="M1741.1 118H1776.3V145.9H1741.1Z"/>
<path fill="#535353" d="M1320 145.6H1354V154H1320Z"/>
<path fill="#808080" d="M1353.7 145.6H1360.8V154H1353.7Z"/>
<path fill="#717171" d="M1360.5 145.6H1377V154H1360.5Z"/>
<path fill="#898989" d="M1376.7 145.6H1385.1V154H1376.7Z"/>
<path fill="#656565" d="M1384.8 145.6H1449.9V154H1384.8Z"/>
<path fill="#717171" d="M1449.6 145.6H1455.3V154H1449.6Z"/>
<path fill="#595959" d="M1455 145.6H1529.5V154H1455Z"/>
<path fill="#808080" d="M1529.2 145.6H1545.7V154H1529.2Z"/>
<path fill="#565656" d="M1545.4 145.6H1590.3V154H1545.4Z"/>
<path fill="#757575" d="M1590 145.6H1606.5V154H1590Z"/>
<path fill="#5A5A5A" d="M1606.2 145.6H1638.8V154H1606.2Z"/>
<path fill="#858585" d="M1638.5 145.6H1676.6V154H1638.5Z"/>
<path fill="#888888" d="M1676.3 145.6H1709V154H1676.3Z"/>
<path fill="#919191" d="M1708.7 145.6H1741.4V154H1708.7Z"/>
<path fill="#757575" d="M1741.1 145.6H1776.3V154H1741.1Z"/>
<path fill="#656565" d="M1320 153.7H1354V178.3H1320Z"/>
<path fill="#8F8F8F" d="M1353.7 153.7H1360.8V178.3H1353.7Z"/>
<path fill="#7A7A7A" d="M1360.5 153.7H1377V178.3H1360.5Z"/>
<path fill="#939393" d="M1376.7 153.7H1385.1V178.3H1376.7Z"/>
<path fill="#6A6A6A" d="M1384.8 153.7H1449.9V178.3H1384.8Z"/>
<path fill="#777777" d="M1449.6 153.7H1455.3V178.3H1449.6Z"/>
<path fill="#656565" d="M1455 153.7H1529.5V178.3H1455Z"/>
<path fill="#949494" d="M1529.2 153.7H1545.7V178.3H1529.2Z"/>
<path fill="#757575" d="M1545.4 153.7H1590.3V178.3H1545.4Z"/>
<path fill="#919191" d="M1590 153.7H1606.5V178.3H1590Z"/>
<path fill="#858585" d="M1606.2 153.7H1638.8V178.3H1606.2Z"/>
<path fill="#8D8D8D" d="M1638.5 153.7H1676.6V178.3H1638.5ZM1676.3 153.7H1709V178.3H1676.3Z"/>
<path fill="#A5A5A5" d="M1708.7 153.7H1741.4V178.3H1708.7Z"/>
<path fill="#888888" d="M1741.1 153.7H1776.3V178.3H1741.1Z"/>
<path fill="#4E4E4E" d="M1320 178H1354V189.1H1320Z"/>
<path fill="#898989" d="M1353.7 178H1360.8V189.1H1353.7Z"/>
<path fill="#717171" d="M1360.5 178H1377V189.1H1360.5Z"/>
<path fill="#8F8F8F" d="M1376.7 178H1385.1V189.1H1376.7Z"/>
<path fill="#535353" d="M1384.8 178H1449.9V189.1H1384.8Z"/>
<path fill="#656565" d="M1449.6 178H1455.3V189.1H1449.6Z"/>
<path fill="#4E4E4E" d="M1455 178H1529.5V189.1H1455Z"/>
<path fill="#919191" d="M1529.2 178H1545.7V189.1H1529.2Z"/>
<path fill="#757575" d="M1545.4 178H1590.3V189.1H1545.4Z"/>
<path fill="#919191" d="M1590 178H1606.5V189.1H1590Z"/>
<path fill="#858585" d="M1606.2 178H1638.8V189.1H1606.2Z"/>
<path fill="#8D8D8D" d="M1638.5 178H1676.6V189.1H1638.5ZM1676.3 178H1709V189.1H1676.3Z"/>
<path fill="#A5A5A5" d="M1708.7 178H1741.4V189.1H1708.7Z"/>
<path fill="#888888" d="M1741.1 178H1776.3V189.1H1741.1Z"/>
<path fill="#595959" d="M1320 188.8H1354V204H1320Z"/>
<path fill="#8F8F8F" d="M1353.7 188.8H1360.8V204H1353.7Z"/>
<path fill="#777777" d="M1360.5 188.8H1377V204H1360.5Z"/>
<path fill="#939393" d="M1376.7 188.8H1385.1V204H1376.7Z"/>
<path fill="#656565" d="M1384.8 188.8H1449.9V204H1384.8Z"/>
<path fill="#717171" d="M1449.6 188.8H1455.3V204H1449.6Z"/>
<path fill="#5C5C5C" d="M1455 188.8H1529.5V204H1455Z"/>
<path fill="#919191" d="M1529.2 188.8H1545.7V204H1529.2Z"/>
<path fill="#6F6F6F" d="M1545.4 188.8H1590.3V204H1545.4Z"/>
<path fill="#919191" d="M1590 188.8H1606.5V204H1590Z"/>
<path fill="#858585" d="M1606.2 188.8H1638.8V204H1606.2Z"/>
<path fill="#8D8D8D" d="M1638.5 188.8H1676.6V204H1638.5Z"/>
<path fill="#919191" d="M1676.3 188.8H1709V204H1676.3Z"/>
<path fill="#A5A5A5" d="M1708.7 188.8H1741.4V204H1708.7Z"/>
<path fill="#888888" d="M1741.1 188.8H1776.3V204H1741.1Z"/>
<path fill="#777777" d="M1320 203.7H1354V239.1H1320Z"/>
<path fill="#9C9C9C" d="M1353.7 203.7H1360.8V239.1H1353.7Z"/>
<path fill="#808080" d="M1360.5 203.7H1377V239.1H1360.5Z"/>
<path fill="#9C9C9C" d="M1376.7 203.7H1385.1V239.1H1376.7Z"/>
<path fill="#717171" d="M1384.8 203.7H1449.9V239.1H1384.8Z"/>
<path fill="#7A7A7A" d="M1449.6 203.7H1455.3V239.1H1449.6Z"/>
<path fill="#717171" d="M1455 203.7H1529.5V239.1H1455Z"/>
<path fill="#A9A9A9" d="M1529.2 203.7H1545.7V239.1H1529.2Z"/>
<path fill="#8D8D8D" d="M1545.4 203.7H1590.3V239.1H1545.4Z"/>
<path fill="#A2A2A2" d="M1590 203.7H1606.5V239.1H1590Z"/>
<path fill="#989898" d="M1606.2 203.7H1638.8V239.1H1606.2Z"/>
<path fill="#9E9E9E" d="M1638.5 203.7H1676.6V239.1H1638.5Z"/>
<path fill="#A2A2A2" d="M1676.3 203.7H1709V239.1H1676.3Z"/>
<path fill="#B0B0B0" d="M1708.7 203.7H1741.4V239.1H1708.7Z"/>
<path fill="#949494" d="M1741.1 203.7H1776.3V239.1H1741.1Z"/>
<path fill="#858585" d="M1320 238.8H1354V272.8H1320Z"/>
<path fill="#A2A2A2" d="M1353.7 238.8H1360.8V272.8H1353.7Z"/>
<path fill="#898989" d="M1360.5 238.8H1377V272.8H1360.5Z"/>
<path fill="#A6A6A6" d="M1376.7 238.8H1385.1V272.8H1376.7Z"/>
<path fill="#717171" d="M1384.8 238.8H1449.9V272.8H1384.8Z"/>
<path fill="#808080" d="M1449.6 238.8H1455.3V272.8H1449.6Z"/>
<path fill="#717171" d="M1455 238.8H1529.5V272.8H1455Z"/>
<path fill="#C1C1C1" d="M1529.2 238.8H1545.7V272.8H1529.2Z"/>
<path fill="#A5A5A5" d="M1545.4 238.8H1590.3V272.8H1545.4Z"/>
<path fill="#B8B8B8" d="M1590 238.8H1606.5V272.8H1590Z"/>
<path fill="#ABABAB" d="M1606.2 238.8H1638.8V272.8H1606.2Z"/>
<path fill="#B0B0B0" d="M1638.5 238.8H1676.6V272.8H1638.5Z"/>
<path fill="#B3B3B3" d="M1676.3 238.8H1709V272.8H1676.3Z"/>
<path fill="#C1C1C1" d="M1708.7 238.8H1741.4V272.8H1708.7Z"/>
<path fill="#ABABAB" d="M1741.1 238.8H1776.3V272.8H1741.1Z"/>
<path fill="#898989" d="M1320 272.5H1354V287.7H1320Z"/>
<path fill="#8F8F8F" d="M1353.7 272.5H1360.8V287.7H1353.7Z"/>
<path fill="#7A7A7A" d="M1360.5 272.5H1377V287.7H1360.5Z"/>
<path fill="#898989" d="M1376.7 272.5H1385.1V287.7H1376.7Z"/>
<path fill="#777777" d="M1384.8 272.5H1449.9V287.7H1384.8Z"/>
<path fill="#808080" d="M1449.6 272.5H1455.3V287.7H1449.6ZM1455 272.5H1529.5V287.7H1455Z"/>
<path fill="#919191" d="M1529.2 272.5H1545.7V287.7H1529.2Z"/>
<path fill="#888888" d="M1545.4 272.5H1590.3V287.7H1545.4Z"/>
<path fill="#999999" d="M1590 272.5H1606.5V287.7H1590Z"/>
<path fill="#A5A5A5" d="M1606.2 272.5H1638.8V287.7H1606.2Z"/>
<path fill="#9E9E9E" d="M1638.5 272.5H1676.6V287.7H1638.5Z"/>
<path fill="#B0B0B0" d="M1676.3 272.5H1709V287.7H1676.3Z"/>
<path fill="#ABABAB" d="M1708.7 272.5H1741.4V287.7H1708.7Z"/>
<path fill="#888888" d="M1741.1 272.5H1776.3V287.7H1741.1Z"/>
<path fill="#717171" d="M1320 287.4H1354V303.9H1320Z"/>
<path fill="#7A7A7A" d="M1353.7 287.4H1360.8V303.9H1353.7Z"/>
<path fill="#717171" d="M1360.5 287.4H1377V303.9H1360.5Z"/>
<path fill="#777777" d="M1376.7 287.4H1385.1V303.9H1376.7Z"/>
<path fill="#6A6A6A" d="M1384.8 287.4H1449.9V303.9H1384.8Z"/>
<path fill="#6E6E6E" d="M1449.6 287.4H1455.3V303.9H1449.6ZM1455 287.4H1529.5V303.9H1455Z"/>
<path fill="#8D8D8D" d="M1529.2 287.4H1545.7V303.9H1529.2Z"/>
<path fill="#858585" d="M1545.4 287.4H1590.3V303.9H1545.4Z"/>
<path fill="#8D8D8D" d="M1590 287.4H1606.5V303.9H1590ZM1606.2 287.4H1638.8V303.9H1606.2Z"/>
<path fill="#888888" d="M1638.5 287.4H1676.6V303.9H1638.5Z"/>
<path fill="#8D8D8D" d="M1676.3 287.4H1709V303.9H1676.3Z"/>
<path fill="#999999" d="M1708.7 287.4H1741.4V303.9H1708.7Z"/>
<path fill="#858585" d="M1741.1 287.4H1776.3V303.9H1741.1Z"/>
<path fill="#656565" d="M1320 303.6H1354V321.4H1320Z"/>
<path fill="#777777" d="M1353.7 303.6H1360.8V321.4H1353.7Z"/>
<path fill="#6E6E6E" d="M1360.5 303.6H1377V321.4H1360.5Z"/>
<path fill="#717171" d="M1376.7 303.6H1385.1V321.4H1376.7Z"/>
<path fill="#656565" d="M1384.8 303.6H1449.9V321.4H1384.8Z"/>
<path fill="#6A6A6A" d="M1449.6 303.6H1455.3V321.4H1449.6Z"/>
<path fill="#656565" d="M1455 303.6H1529.5V321.4H1455Z"/>
<path fill="#999999" d="M1529.2 303.6H1545.7V321.4H1529.2Z"/>
<path fill="#8D8D8D" d="M1545.4 303.6H1590.3V321.4H1545.4Z"/>
<path fill="#949494" d="M1590 303.6H1606.5V321.4H1590ZM1606.2 303.6H1638.8V321.4H1606.2Z"/>
<path fill="#919191" d="M1638.5 303.6H1676.6V321.4H1638.5Z"/>
<path fill="#999999" d="M1676.3 303.6H1709V321.4H1676.3Z"/>
<path fill="#9E9E9E" d="M1708.7 303.6H1741.4V321.4H1708.7Z"/>
<path fill="#919191" d="M1741.1 303.6H1776.3V321.4H1741.1Z"/>
<path fill="#C8C8C8" d="M1695.2 273.3H1713.1V287.7H1695.2Z"/>
<path fill="#606060" d="M180 323.4H210.1V352.3H180Z"/>
<path fill="#676767" d="M209.8 323.4H235.2V352.3H209.8Z"/>
<path fill="#808080" d="M234.9 323.4H259.9V352.3H234.9Z"/>
<path fill="#A7A7A7" d="M259.6 323.4H293.6V352.3H259.6Z"/>
<path fill="#797979" d="M293.3 323.4H309.6V352.3H293.3Z"/>
<path fill="#929292" d="M309.3 323.4H331.4V352.3H309.3Z"/>
<path fill="#8F8F8F" d="M331.1 323.4H345.1V352.3H331.1Z"/>
<path fill="#979797" d="M344.8 323.4H386.3V352.3H344.8Z"/>
<path fill="#9C9C9C" d="M386 323.4H401.2V352.3H386ZM400.9 323.4H430.9V352.3H400.9Z"/>
<path fill="#A2A2A2" d="M430.6 323.4H438.9V352.3H430.6ZM438.6 323.4H488.1V352.3H438.6ZM487.8 323.4H496.1V352.3H487.8Z"/>
<path fill="#6B6B6B" d="M495.8 323.4H507.6V352.3H495.8Z"/>
<path fill="#878787" d="M507.3 323.4H548.8V352.3H507.3Z"/>
<path fill="#A7A7A7" d="M548.5 323.4H564.8V352.3H548.5Z"/>
<path fill="#6F6F6F" d="M180 352H210.1V383.2H180Z"/>
<path fill="#858585" d="M209.8 352H235.2V383.2H209.8ZM234.9 352H259.9V383.2H234.9Z"/>
<path fill="#8F8F8F" d="M259.6 352H293.6V383.2H259.6Z"/>
<path fill="#878787" d="M293.3 352H309.6V383.2H293.3Z"/>
<path fill="#8F8F8F" d="M309.3 352H331.4V383.2H309.3Z"/>
<path fill="#929292" d="M331.1 352H345.1V383.2H331.1Z"/>
<path fill="#8C8C8C" d="M344.8 352H386.3V383.2H344.8Z"/>
<path fill="#878787" d="M386 352H401.2V383.2H386Z"/>
<path fill="#9C9C9C" d="M400.9 352H430.9V383.2H400.9Z"/>
<path fill="#8C8C8C" d="M430.6 352H438.9V383.2H430.6Z"/>
<path fill="#8F8F8F" d="M438.6 352H488.1V383.2H438.6Z"/>
<path fill="#8C8C8C" d="M487.8 352H496.1V383.2H487.8Z"/>
<path fill="#848484" d="M495.8 352H507.6V383.2H495.8Z"/>
<path fill="#797979" d="M507.3 352H548.8V383.2H507.3Z"/>
<path fill="#848484" d="M548.5 352H564.8V383.2H548.5Z"/>
<path fill="#6B6B6B" d="M180 382.9H210.1V398.1H180Z"/>
<path fill="#858585" d="M209.8 382.9H235.2V398.1H209.8Z"/>
<path fill="#898989" d="M234.9 382.9H259.9V398.1H234.9Z"/>
<path fill="#A7A7A7" d="M259.6 382.9H293.6V398.1H259.6Z"/>
<path fill="#8F8F8F" d="M293.3 382.9H309.6V398.1H293.3Z"/>
<path fill="#A2A2A2" d="M309.3 382.9H331.4V398.1H309.3Z"/>
<path fill="#ABABAB" d="M331.1 382.9H345.1V398.1H331.1Z"/>
<path fill="#A7A7A7" d="M344.8 382.9H386.3V398.1H344.8Z"/>
<path fill="#979797" d="M386 382.9H401.2V398.1H386Z"/>
<path fill="#A7A7A7" d="M400.9 382.9H430.9V398.1H400.9Z"/>
<path fill="#A2A2A2" d="M430.6 382.9H438.9V398.1H430.6ZM438.6 382.9H488.1V398.1H438.6Z"/>
<path fill="#9C9C9C" d="M487.8 382.9H496.1V398.1H487.8Z"/>
<path fill="#929292" d="M495.8 382.9H507.6V398.1H495.8Z"/>
<path fill="#878787" d="M507.3 382.9H548.8V398.1H507.3Z"/>
<path fill="#929292" d="M548.5 382.9H564.8V398.1H548.5Z"/>
<path fill="#C2C2C2" d="M180 397.8H210.1V405H180Z"/>
<path fill="#939393" d="M209.8 397.8H235.2V405H209.8Z"/>
<path fill="#A6A6A6" d="M234.9 397.8H259.9V405H234.9Z"/>
<path fill="#979797" d="M259.6 397.8H293.6V405H259.6Z"/>
<path fill="#929292" d="M293.3 397.8H309.6V405H293.3Z"/>
<path fill="#A2A2A2" d="M309.3 397.8H331.4V405H309.3Z"/>
<path fill="#A7A7A7" d="M331.1 397.8H345.1V405H331.1Z"/>
<path fill="#A2A2A2" d="M344.8 397.8H386.3V405H344.8Z"/>
<path fill="#979797" d="M386 397.8H401.2V405H386Z"/>
<path fill="#9C9C9C" d="M400.9 397.8H430.9V405H400.9Z"/>
<path fill="#979797" d="M430.6 397.8H438.9V405H430.6ZM438.6 397.8H488.1V405H438.6Z"/>
<path fill="#929292" d="M487.8 397.8H496.1V405H487.8Z"/>
<path fill="#8C8C8C" d="M495.8 397.8H507.6V405H495.8Z"/>
<path fill="#848484" d="M507.3 397.8H548.8V405H507.3ZM548.5 397.8H564.8V405H548.5Z"/>
<path fill="#797979" d="M180 404.7H210.1V413H180Z"/>
<path fill="#8F8F8F" d="M209.8 404.7H235.2V413H209.8Z"/>
<path fill="#A2A2A2" d="M234.9 404.7H259.9V413H234.9Z"/>
<path fill="#BEBEBE" d="M259.6 404.7H293.6V413H259.6Z"/>
<path fill="#BBBBBB" d="M293.3 404.7H309.6V413H293.3ZM309.3 404.7H331.4V413H309.3Z"/>
<path fill="#BEBEBE" d="M331.1 404.7H345.1V413H331.1Z"/>
<path fill="#BBBBBB" d="M344.8 404.7H386.3V413H344.8Z"/>
<path fill="#AFAFAF" d="M386 404.7H401.2V413H386Z"/>
<path fill="#B6B6B6" d="M400.9 404.7H430.9V413H400.9ZM430.6 404.7H438.9V413H430.6Z"/>
<path fill="#BBBBBB" d="M438.6 404.7H488.1V413H438.6ZM487.8 404.7H496.1V413H487.8Z"/>
<path fill="#9F9F9F" d="M495.8 404.7H507.6V413H495.8Z"/>
<path fill="#9C9C9C" d="M507.3 404.7H548.8V413H507.3Z"/>
<path fill="#878787" d="M548.5 404.7H564.8V413H548.5Z"/>
<path fill="#565656" d="M180 412.7H210.1V421H180Z"/>
<path fill="#757575" d="M209.8 412.7H235.2V421H209.8Z"/>
<path fill="#797979" d="M234.9 412.7H259.9V421H234.9Z"/>
<path fill="#A7A7A7" d="M259.6 412.7H293.6V421H259.6Z"/>
<path fill="#A2A2A2" d="M293.3 412.7H309.6V421H293.3Z"/>
<path fill="#B3B3B3" d="M309.3 412.7H331.4V421H309.3Z"/>
<path fill="#B6B6B6" d="M331.1 412.7H345.1V421H331.1Z"/>
<path fill="#ABABAB" d="M344.8 412.7H386.3V421H344.8Z"/>
<path fill="#848484" d="M386 412.7H401.2V421H386ZM400.9 412.7H430.9V421H400.9Z"/>
<path fill="#A7A7A7" d="M430.6 412.7H438.9V421H430.6Z"/>
<path fill="#A2A2A2" d="M438.6 412.7H488.1V421H438.6Z"/>
<path fill="#B6B6B6" d="M487.8 412.7H496.1V421H487.8Z"/>
<path fill="#929292" d="M495.8 412.7H507.6V421H495.8Z"/>
<path fill="#808080" d="M507.3 412.7H548.8V421H507.3ZM548.5 412.7H564.8V421H548.5Z"/>
<path fill="#606060" d="M180 420.7H210.1V441.6H180Z"/>
<path fill="#808080" d="M209.8 420.7H235.2V441.6H209.8Z"/>
<path fill="#797979" d="M234.9 420.7H259.9V441.6H234.9Z"/>
<path fill="#AFAFAF" d="M259.6 420.7H293.6V441.6H259.6Z"/>
<path fill="#ABABAB" d="M293.3 420.7H309.6V441.6H293.3Z"/>
<path fill="#B2B2B2" d="M309.3 420.7H331.4V441.6H309.3Z"/>
<path fill="#BBBBBB" d="M331.1 420.7H345.1V441.6H331.1Z"/>
<path fill="#ABABAB" d="M344.8 420.7H386.3V441.6H344.8Z"/>
<path fill="#A2A2A2" d="M386 420.7H401.2V441.6H386Z"/>
<path fill="#9F9F9F" d="M400.9 420.7H430.9V441.6H400.9Z"/>
<path fill="#A7A7A7" d="M430.6 420.7H438.9V441.6H430.6Z"/>
<path fill="#ABABAB" d="M438.6 420.7H488.1V441.6H438.6Z"/>
<path fill="#B6B6B6" d="M487.8 420.7H496.1V441.6H487.8Z"/>
<path fill="#979797" d="M495.8 420.7H507.6V441.6H495.8Z"/>
<path fill="#808080" d="M507.3 420.7H548.8V441.6H507.3ZM548.5 420.7H564.8V441.6H548.5Z"/>
<path fill="#454545" d="M180 441.3H210.1V463.3H180Z"/>
<path fill="#676767" d="M209.8 441.3H235.2V463.3H209.8Z"/>
<path fill="#5A5A5A" d="M234.9 441.3H259.9V463.3H234.9Z"/>
<path fill="#979797" d="M259.6 441.3H293.6V463.3H259.6Z"/>
<path fill="#878787" d="M293.3 441.3H309.6V463.3H293.3Z"/>
<path fill="#A2A2A2" d="M309.3 441.3H331.4V463.3H309.3Z"/>
<path fill="#B6B6B6" d="M331.1 441.3H345.1V463.3H331.1Z"/>
<path fill="#9F9F9F" d="M344.8 441.3H386.3V463.3H344.8Z"/>
<path fill="#757575" d="M386 441.3H401.2V463.3H386Z"/>
<path fill="#848484" d="M400.9 441.3H430.9V463.3H400.9Z"/>
<path fill="#808080" d="M430.6 441.3H438.9V463.3H430.6Z"/>
<path fill="#797979" d="M438.6 441.3H488.1V463.3H438.6Z"/>
<path fill="#ABABAB" d="M487.8 441.3H496.1V463.3H487.8Z"/>
<path fill="#878787" d="M495.8 441.3H507.6V463.3H495.8Z"/>
<path fill="#757575" d="M507.3 441.3H548.8V463.3H507.3Z"/>
<path fill="#848484" d="M548.5 441.3H564.8V463.3H548.5Z"/>
<path fill="#373737" d="M180 463H210.1V492.4H180Z"/>
<path fill="#5A5A5A" d="M209.8 463H235.2V492.4H209.8Z"/>
<path fill="#525252" d="M234.9 463H259.9V492.4H234.9Z"/>
<path fill="#A2A2A2" d="M259.6 463H293.6V492.4H259.6Z"/>
<path fill="#848484" d="M293.3 463H309.6V492.4H293.3Z"/>
<path fill="#929292" d="M309.3 463H331.4V492.4H309.3Z"/>
<path fill="#A2A2A2" d="M331.1 463H345.1V492.4H331.1Z"/>
<path fill="#929292" d="M344.8 463H386.3V492.4H344.8Z"/>
<path fill="#878787" d="M386 463H401.2V492.4H386Z"/>
<path fill="#808080" d="M400.9 463H430.9V492.4H400.9Z"/>
<path fill="#929292" d="M430.6 463H438.9V492.4H430.6Z"/>
<path fill="#8C8C8C" d="M438.6 463H488.1V492.4H438.6Z"/>
<path fill="#AFAFAF" d="M487.8 463H496.1V492.4H487.8Z"/>
<path fill="#8C8C8C" d="M495.8 463H507.6V492.4H495.8Z"/>
<path fill="#797979" d="M507.3 463H548.8V492.4H507.3Z"/>
<path fill="#8C8C8C" d="M548.5 463H564.8V492.4H548.5Z"/>
<path fill="#858585" d="M180 492.1H210.1V517.1H180Z"/>
<path fill="#969696" d="M209.8 492.1H235.2V517.1H209.8Z"/>
<path fill="#4B4B4B" d="M234.9 492.1H259.9V517.1H234.9Z"/>
<path fill="#262626" d="M259.6 492.1H293.6V517.1H259.6Z"/>
<path fill="#686868" d="M293.3 492.1H309.6V517.1H293.3Z"/>
<path fill="#4E4E4E" d="M309.3 492.1H331.4V517.1H309.3Z"/>
<path fill="#444444" d="M331.1 492.1H345.1V517.1H331.1ZM344.8 492.1H386.3V517.1H344.8Z"/>
<path fill="#2C2C2C" d="M386 492.1H401.2V517.1H386Z"/>
<path fill="#484848" d="M400.9 492.1H430.9V517.1H400.9Z"/>
<path fill="#404040" d="M430.6 492.1H438.9V517.1H430.6Z"/>
<path fill="#3A3A3A" d="M438.6 492.1H488.1V517.1H438.6Z"/>
<path fill="#767676" d="M487.8 492.1H496.1V517.1H487.8Z"/>
<path fill="#858585" d="M495.8 492.1H507.6V517.1H495.8Z"/>
<path fill="#5C5C5C" d="M507.3 492.1H548.8V517.1H507.3Z"/>
<path fill="#767676" d="M548.5 492.1H564.8V517.1H548.5Z"/>
<path fill="#858585" d="M180 516.8H210.1V540H180Z"/>
<path fill="#969696" d="M209.8 516.8H235.2V540H209.8Z"/>
<path fill="#525252" d="M234.9 516.8H259.9V540H234.9Z"/>
<path fill="#343434" d="M259.6 516.8H293.6V540H259.6Z"/>
<path fill="#707070" d="M293.3 516.8H309.6V540H293.3Z"/>
<path fill="#585858" d="M309.3 516.8H331.4V540H309.3Z"/>
<path fill="#4E4E4E" d="M331.1 516.8H345.1V540H331.1ZM344.8 516.8H386.3V540H344.8Z"/>
<path fill="#343434" d="M386 516.8H401.2V540H386Z"/>
<path fill="#505050" d="M400.9 516.8H430.9V540H400.9Z"/>
<path fill="#484848" d="M430.6 516.8H438.9V540H430.6Z"/>
<path fill="#444444" d="M438.6 516.8H488.1V540H438.6Z"/>
<path fill="#808080" d="M487.8 516.8H496.1V540H487.8Z"/>
<path fill="#898989" d="M495.8 516.8H507.6V540H495.8Z"/>
<path fill="#686868" d="M507.3 516.8H548.8V540H507.3Z"/>
<path fill="#7A7A7A" d="M548.5 516.8H564.8V540H548.5Z"/>
<path fill="#2C2C2C" d="M422.6 492.1H430.9V540H422.6ZM470.7 492.1H488.1V540H470.7Z"/>
<path fill="#B9B9B9" d="M180 492.1H188.8V540H180Z"/>
<path fill="#AAAAAA" d="M564.6 323.4H588.9V352.3H564.6Z"/>
<path fill="#A5A5A5" d="M588.6 323.4H670.2V352.3H588.6Z"/>
<path fill="#AFAFAF" d="M669.9 323.4H699.9V352.3H669.9Z"/>
<path fill="#AAAAAA" d="M699.6 323.4H736.5V352.3H699.6Z"/>
<path fill="#B7B7B7" d="M736.2 323.4H766.3V352.3H736.2Z"/>
<path fill="#AAAAAA" d="M766 323.4H798.3V352.3H766Z"/>
<path fill="#A5A5A5" d="M798 323.4H813.2V352.3H798ZM812.9 323.4H838.6V352.3H812.9Z"/>
<path fill="#939393" d="M838.3 323.4H855.5V352.3H838.3Z"/>
<path fill="#8D8D8D" d="M855.2 323.4H891V352.3H855.2Z"/>
<path fill="#B0B0B0" d="M890.7 323.4H910.5V352.3H890.7ZM910.2 323.4H931.1V352.3H910.2Z"/>
<path fill="#ADADAD" d="M930.8 323.4H950.3V352.3H930.8Z"/>
<path fill="#999999" d="M564.6 352H588.9V367.2H564.6ZM588.6 352H670.2V367.2H588.6Z"/>
<path fill="#A5A5A5" d="M669.9 352H699.9V367.2H669.9Z"/>
<path fill="#A1A1A1" d="M699.6 352H736.5V367.2H699.6Z"/>
<path fill="#AAAAAA" d="M736.2 352H766.3V367.2H736.2Z"/>
<path fill="#A1A1A1" d="M766 352H798.3V367.2H766Z"/>
<path fill="#808080" d="M798 352H813.2V367.2H798Z"/>
<path fill="#999999" d="M812.9 352H838.6V367.2H812.9Z"/>
<path fill="#848484" d="M838.3 352H855.5V367.2H838.3Z"/>
<path fill="#808080" d="M855.2 352H891V367.2H855.2Z"/>
<path fill="#A3A3A3" d="M890.7 352H910.5V367.2H890.7ZM910.2 352H931.1V367.2H910.2Z"/>
<path fill="#A0A0A0" d="M930.8 352H950.3V367.2H930.8Z"/>
<path fill="#AAAAAA" d="M564.6 366.9H588.9V395.8H564.6Z"/>
<path fill="#AFAFAF" d="M588.6 366.9H670.2V395.8H588.6Z"/>
<path fill="#BABABA" d="M669.9 366.9H699.9V395.8H669.9Z"/>
<path fill="#B2B2B2" d="M699.6 366.9H736.5V395.8H699.6Z"/>
<path fill="#BFBFBF" d="M736.2 366.9H766.3V395.8H736.2Z"/>
<path fill="#BABABA" d="M766 366.9H798.3V395.8H766Z"/>
<path fill="#797979" d="M798 366.9H813.2V395.8H798Z"/>
<path fill="#AAAAAA" d="M812.9 366.9H838.6V395.8H812.9Z"/>
<path fill="#8D8D8D" d="M838.3 366.9H855.5V395.8H838.3Z"/>
<path fill="#888888" d="M855.2 366.9H891V395.8H855.2Z"/>
<path fill="#B8B8B8" d="M890.7 366.9H910.5V395.8H890.7Z"/>
<path fill="#ADADAD" d="M910.2 366.9H931.1V395.8H910.2Z"/>
<path fill="#B4B4B4" d="M930.8 366.9H950.3V395.8H930.8Z"/>
<path fill="#6B6B6B" d="M564.6 395.5H588.9V416.4H564.6Z"/>
<path fill="#606060" d="M588.6 395.5H670.2V416.4H588.6ZM669.9 395.5H699.9V416.4H669.9Z"/>
<path fill="#676767" d="M699.6 395.5H736.5V416.4H699.6Z"/>
<path fill="#606060" d="M736.2 395.5H766.3V416.4H736.2Z"/>
<path fill="#676767" d="M766 395.5H798.3V416.4H766Z"/>
<path fill="#6B6B6B" d="M798 395.5H813.2V416.4H798Z"/>
<path fill="#525252" d="M812.9 395.5H838.6V416.4H812.9Z"/>
<path fill="#848484" d="M838.3 395.5H855.5V416.4H838.3Z"/>
<path fill="#808080" d="M855.2 395.5H891V416.4H855.2Z"/>
<path fill="#797979" d="M890.7 395.5H910.5V416.4H890.7ZM910.2 395.5H931.1V416.4H910.2ZM930.8 395.5H950.3V416.4H930.8Z"/>
<path fill="#676767" d="M564.6 416.1H588.9V447.3H564.6Z"/>
<path fill="#4B4B4B" d="M588.6 416.1H670.2V447.3H588.6ZM669.9 416.1H699.9V447.3H669.9Z"/>
<path fill="#454545" d="M699.6 416.1H736.5V447.3H699.6Z"/>
<path fill="#4B4B4B" d="M736.2 416.1H766.3V447.3H736.2ZM766 416.1H798.3V447.3H766Z"/>
<path fill="#606060" d="M798 416.1H813.2V447.3H798Z"/>
<path fill="#565656" d="M812.9 416.1H838.6V447.3H812.9Z"/>
<path fill="#989898" d="M838.3 416.1H855.5V447.3H838.3Z"/>
<path fill="#939393" d="M855.2 416.1H891V447.3H855.2Z"/>
<path fill="#888888" d="M890.7 416.1H910.5V447.3H890.7Z"/>
<path fill="#989898" d="M910.2 416.1H931.1V447.3H910.2Z"/>
<path fill="#888888" d="M930.8 416.1H950.3V447.3H930.8Z"/>
<path fill="#858585" d="M564.6 447H588.9V463.3H564.6Z"/>
<path fill="#6F6F6F" d="M588.6 447H670.2V463.3H588.6Z"/>
<path fill="#797979" d="M669.9 447H699.9V463.3H669.9Z"/>
<path fill="#6F6F6F" d="M699.6 447H736.5V463.3H699.6Z"/>
<path fill="#808080" d="M736.2 447H766.3V463.3H736.2Z"/>
<path fill="#858585" d="M766 447H798.3V463.3H766Z"/>
<path fill="#808080" d="M798 447H813.2V463.3H798Z"/>
<path fill="#797979" d="M812.9 447H838.6V463.3H812.9Z"/>
<path fill="#454545" d="M838.3 447H855.5V463.3H838.3ZM855.2 447H891V463.3H855.2Z"/>
<path fill="#989898" d="M890.7 447H910.5V463.3H890.7ZM910.2 447H931.1V463.3H910.2Z"/>
<path fill="#909090" d="M930.8 447H950.3V463.3H930.8Z"/>
<path fill="#9E9E9E" d="M564.6 463H588.9V492.4H564.6Z"/>
<path fill="#8D8D8D" d="M588.6 463H670.2V492.4H588.6ZM669.9 463H699.9V492.4H669.9Z"/>
<path fill="#888888" d="M699.6 463H736.5V492.4H699.6Z"/>
<path fill="#A1A1A1" d="M736.2 463H766.3V492.4H736.2ZM766 463H798.3V492.4H766Z"/>
<path fill="#949494" d="M798 463H813.2V492.4H798Z"/>
<path fill="#9E9E9E" d="M812.9 463H838.6V492.4H812.9Z"/>
<path fill="#8D8D8D" d="M838.3 463H855.5V492.4H838.3Z"/>
<path fill="#797979" d="M855.2 463H891V492.4H855.2Z"/>
<path fill="#A3A3A3" d="M890.7 463H910.5V492.4H890.7Z"/>
<path fill="#909090" d="M910.2 463H931.1V492.4H910.2Z"/>
<path fill="#9D9D9D" d="M930.8 463H950.3V492.4H930.8Z"/>
<path fill="#6C6C6C" d="M564.6 492.1H588.9V517.1H564.6Z"/>
<path fill="#858585" d="M588.6 492.1H670.2V517.1H588.6Z"/>
<path fill="#686868" d="M669.9 492.1H699.9V517.1H669.9Z"/>
<path fill="#4E4E4E" d="M699.6 492.1H736.5V517.1H699.6Z"/>
<path fill="#404040" d="M736.2 492.1H766.3V517.1H736.2Z"/>
<path fill="#444444" d="M766 492.1H798.3V517.1H766Z"/>
<path fill="#898989" d="M798 492.1H813.2V517.1H798Z"/>
<path fill="#767676" d="M812.9 492.1H838.6V517.1H812.9Z"/>
<path fill="#373737" d="M838.3 492.1H855.5V517.1H838.3Z"/>
<path fill="#303030" d="M855.2 492.1H891V517.1H855.2Z"/>
<path fill="#222222" d="M890.7 492.1H910.5V517.1H890.7Z"/>
<path fill="#282828" d="M910.2 492.1H931.1V517.1H910.2Z"/>
<path fill="#222222" d="M930.8 492.1H950.3V517.1H930.8Z"/>
<path fill="#686868" d="M564.6 516.8H588.9V540H564.6Z"/>
<path fill="#767676" d="M588.6 516.8H670.2V540H588.6Z"/>
<path fill="#5C5C5C" d="M669.9 516.8H699.9V540H669.9Z"/>
<path fill="#444444" d="M699.6 516.8H736.5V540H699.6Z"/>
<path fill="#3A3A3A" d="M736.2 516.8H766.3V540H736.2Z"/>
<path fill="#404040" d="M766 516.8H798.3V540H766Z"/>
<path fill="#858585" d="M798 516.8H813.2V540H798Z"/>
<path fill="#707070" d="M812.9 516.8H838.6V540H812.9Z"/>
<path fill="#3D3D3D" d="M838.3 516.8H855.5V540H838.3Z"/>
<path fill="#373737" d="M855.2 516.8H891V540H855.2Z"/>
<path fill="#282828" d="M890.7 516.8H910.5V540H890.7Z"/>
<path fill="#2C2C2C" d="M910.2 516.8H931.1V540H910.2Z"/>
<path fill="#282828" d="M930.8 516.8H950.3V540H930.8Z"/>
<path fill="#B0B0B0" d="M842 404.7H931.1V411.8H842Z"/>
<path fill="#525252" d="M855.2 411.5H889.9V418.7H855.2Z"/>
<path fill="#454545" d="M842 441.3H889.9V459.9H842Z"/>
<path fill="#ADADAD" d="M940 323.4H954V352.3H940Z"/>
<path fill="#9D9D9D" d="M953.7 323.4H974.6V352.3H953.7Z"/>
<path fill="#B8B8B8" d="M974.3 323.4H1050.2V352.3H974.3Z"/>
<path fill="#989898" d="M1049.9 323.4H1063.9V352.3H1049.9Z"/>
<path fill="#ADADAD" d="M1063.6 323.4H1097.8V352.3H1063.6Z"/>
<path fill="#808080" d="M1097.5 323.4H1121.1V352.3H1097.5Z"/>
<path fill="#8F8F8F" d="M1120.8 323.4H1160V352.3H1120.8Z"/>
<path fill="#939393" d="M1159.7 323.4H1205.8V352.3H1159.7Z"/>
<path fill="#727272" d="M1205.5 323.4H1244.7V352.3H1205.5Z"/>
<path fill="#858585" d="M1244.4 323.4H1283.6V352.3H1244.4Z"/>
<path fill="#6F6F6F" d="M1283.3 323.4H1320.2V352.3H1283.3Z"/>
<path fill="#727272" d="M1319.9 323.4H1330.3V352.3H1319.9Z"/>
<path fill="#A8A8A8" d="M940 352H954V367.2H940Z"/>
<path fill="#9D9D9D" d="M953.7 352H974.6V367.2H953.7Z"/>
<path fill="#A8A8A8" d="M974.3 352H1050.2V367.2H974.3Z"/>
<path fill="#989898" d="M1049.9 352H1063.9V367.2H1049.9Z"/>
<path fill="#A3A3A3" d="M1063.6 352H1097.8V367.2H1063.6Z"/>
<path fill="#858585" d="M1097.5 352H1121.1V367.2H1097.5ZM1120.8 352H1160V367.2H1120.8Z"/>
<path fill="#898989" d="M1159.7 352H1205.8V367.2H1159.7Z"/>
<path fill="#777777" d="M1205.5 352H1244.7V367.2H1205.5Z"/>
<path fill="#7B7B7B" d="M1244.4 352H1283.6V367.2H1244.4Z"/>
<path fill="#8F8F8F" d="M1283.3 352H1320.2V367.2H1283.3Z"/>
<path fill="#898989" d="M1319.9 352H1330.3V367.2H1319.9Z"/>
<path fill="#B0B0B0" d="M940 366.9H954V395.8H940Z"/>
<path fill="#A3A3A3" d="M953.7 366.9H974.6V395.8H953.7Z"/>
<path fill="#BDBDBD" d="M974.3 366.9H1050.2V395.8H974.3Z"/>
<path fill="#9D9D9D" d="M1049.9 366.9H1063.9V395.8H1049.9Z"/>
<path fill="#B4B4B4" d="M1063.6 366.9H1097.8V395.8H1063.6Z"/>
<path fill="#6F6F6F" d="M1097.5 366.9H1121.1V395.8H1097.5Z"/>
<path fill="#6C6C6C" d="M1120.8 366.9H1160V395.8H1120.8Z"/>
<path fill="#7B7B7B" d="M1159.7 366.9H1205.8V395.8H1159.7Z"/>
<path fill="#626262" d="M1205.5 366.9H1244.7V395.8H1205.5Z"/>
<path fill="#727272" d="M1244.4 366.9H1283.6V395.8H1244.4Z"/>
<path fill="#8F8F8F" d="M1283.3 366.9H1320.2V395.8H1283.3Z"/>
<path fill="#808080" d="M1319.9 366.9H1330.3V395.8H1319.9Z"/>
<path fill="#888888" d="M940 395.5H954V416.4H940Z"/>
<path fill="#808080" d="M953.7 395.5H974.6V416.4H953.7Z"/>
<path fill="#797979" d="M974.3 395.5H1050.2V416.4H974.3Z"/>
<path fill="#888888" d="M1049.9 395.5H1063.9V416.4H1049.9Z"/>
<path fill="#909090" d="M1063.6 395.5H1097.8V416.4H1063.6Z"/>
<path fill="#727272" d="M1097.5 395.5H1121.1V416.4H1097.5Z"/>
<path fill="#808080" d="M1120.8 395.5H1160V416.4H1120.8Z"/>
<path fill="#898989" d="M1159.7 395.5H1205.8V416.4H1159.7Z"/>
<path fill="#858585" d="M1205.5 395.5H1244.7V416.4H1205.5Z"/>
<path fill="#7B7B7B" d="M1244.4 395.5H1283.6V416.4H1244.4Z"/>
<path fill="#4E4E4E" d="M1283.3 395.5H1320.2V416.4H1283.3Z"/>
<path fill="#565656" d="M1319.9 395.5H1330.3V416.4H1319.9Z"/>
<path fill="#757575" d="M940 416.1H954V447.3H940Z"/>
<path fill="#6B6B6B" d="M953.7 416.1H974.6V447.3H953.7Z"/>
<path fill="#5A5A5A" d="M974.3 416.1H1050.2V447.3H974.3Z"/>
<path fill="#797979" d="M1049.9 416.1H1063.9V447.3H1049.9Z"/>
<path fill="#888888" d="M1063.6 416.1H1097.8V447.3H1063.6Z"/>
<path fill="#565656" d="M1097.5 416.1H1121.1V447.3H1097.5Z"/>
<path fill="#5B5B5B" d="M1120.8 416.1H1160V447.3H1120.8Z"/>
<path fill="#858585" d="M1159.7 416.1H1205.8V447.3H1159.7Z"/>
<path fill="#898989" d="M1205.5 416.1H1244.7V447.3H1205.5Z"/>
<path fill="#777777" d="M1244.4 416.1H1283.6V447.3H1244.4Z"/>
<path fill="#5B5B5B" d="M1283.3 416.1H1320.2V447.3H1283.3Z"/>
<path fill="#565656" d="M1319.9 416.1H1330.3V447.3H1319.9Z"/>
<path fill="#888888" d="M940 447H954V463.3H940Z"/>
<path fill="#808080" d="M953.7 447H974.6V463.3H953.7Z"/>
<path fill="#888888" d="M974.3 447H1050.2V463.3H974.3Z"/>
<path fill="#8D8D8D" d="M1049.9 447H1063.9V463.3H1049.9Z"/>
<path fill="#A0A0A0" d="M1063.6 447H1097.8V463.3H1063.6Z"/>
<path fill="#626262" d="M1097.5 447H1121.1V463.3H1097.5Z"/>
<path fill="#676767" d="M1120.8 447H1160V463.3H1120.8Z"/>
<path fill="#808080" d="M1159.7 447H1205.8V463.3H1159.7Z"/>
<path fill="#858585" d="M1205.5 447H1244.7V463.3H1205.5Z"/>
<path fill="#727272" d="M1244.4 447H1283.6V463.3H1244.4Z"/>
<path fill="#6C6C6C" d="M1283.3 447H1320.2V463.3H1283.3Z"/>
<path fill="#626262" d="M1319.9 447H1330.3V463.3H1319.9Z"/>
<path fill="#939393" d="M940 463H954V492.4H940Z"/>
<path fill="#8D8D8D" d="M953.7 463H974.6V492.4H953.7Z"/>
<path fill="#A3A3A3" d="M974.3 463H1050.2V492.4H974.3Z"/>
<path fill="#A8A8A8" d="M1049.9 463H1063.9V492.4H1049.9ZM1063.6 463H1097.8V492.4H1063.6Z"/>
<path fill="#858585" d="M1097.5 463H1121.1V492.4H1097.5Z"/>
<path fill="#939393" d="M1120.8 463H1160V492.4H1120.8Z"/>
<path fill="#969696" d="M1159.7 463H1205.8V492.4H1159.7Z"/>
<path fill="#777777" d="M1205.5 463H1244.7V492.4H1205.5ZM1244.4 463H1283.6V492.4H1244.4Z"/>
<path fill="#6F6F6F" d="M1283.3 463H1320.2V492.4H1283.3Z"/>
<path fill="#6C6C6C" d="M1319.9 463H1330.3V492.4H1319.9Z"/>
<path fill="#ADADAD" d="M1040.7 404.7H1086.8V411.8H1040.7Z"/>
<path fill="#5B5B5B" d="M1101.4 382.9H1187.5V389H1101.4ZM1205.5 323.4H1217.2V395.8H1205.5Z"/>
<path fill="#373737" d="M940 492.1H954V517.1H940Z"/>
<path fill="#414141" d="M953.7 492.1H974.6V517.1H953.7Z"/>
<path fill="#282828" d="M974.3 492.1H1050.2V517.1H974.3Z"/>
<path fill="#303030" d="M1049.9 492.1H1063.9V517.1H1049.9Z"/>
<path fill="#414141" d="M1063.6 492.1H1097.8V517.1H1063.6Z"/>
<path fill="#AEAEAE" d="M1097.5 492.1H1146.3V517.1H1097.5Z"/>
<path fill="#999999" d="M1146 492.1H1187.5V517.1H1146Z"/>
<path fill="#757575" d="M1187.2 492.1H1205.8V517.1H1187.2Z"/>
<path fill="#C7C7C7" d="M1205.5 492.1H1218.4V517.1H1205.5Z"/>
<path fill="#B2B2B2" d="M1218.1 492.1H1267.6V517.1H1218.1Z"/>
<path fill="#CBCBCB" d="M1267.3 492.1H1274.5V517.1H1267.3Z"/>
<path fill="#8A8A8A" d="M1274.2 492.1H1281.3V517.1H1274.2Z"/>
<path fill="#C5C5C5" d="M1281 492.1H1330.3V517.1H1281Z"/>
<path fill="#3D3D3D" d="M940 516.8H954V540H940Z"/>
<path fill="#454545" d="M953.7 516.8H974.6V540H953.7Z"/>
<path fill="#2C2C2C" d="M974.3 516.8H1050.2V540H974.3Z"/>
<path fill="#373737" d="M1049.9 516.8H1063.9V540H1049.9Z"/>
<path fill="#454545" d="M1063.6 516.8H1097.8V540H1063.6Z"/>
<path fill="#A5A5A5" d="M1097.5 516.8H1146.3V540H1097.5Z"/>
<path fill="#959595" d="M1146 516.8H1187.5V540H1146Z"/>
<path fill="#757575" d="M1187.2 516.8H1205.8V540H1187.2Z"/>
<path fill="#C3C3C3" d="M1205.5 516.8H1218.4V540H1205.5Z"/>
<path fill="#AEAEAE" d="M1218.1 516.8H1267.6V540H1218.1Z"/>
<path fill="#CBCBCB" d="M1267.3 516.8H1274.5V540H1267.3Z"/>
<path fill="#8A8A8A" d="M1274.2 516.8H1281.3V540H1274.2Z"/>
<path fill="#BFBFBF" d="M1281 516.8H1330.3V540H1281Z"/>
<path fill="#9C9C9C" d="M1320 322.7H1355.4V354H1320Z"/>
<path fill="#5B5B5B" d="M1355.1 322.7H1385.1V354H1355.1Z"/>
<path fill="#858585" d="M1384.8 322.7H1529.5V354H1384.8Z"/>
<path fill="#6D6D6D" d="M1529.2 322.7H1545.7V354H1529.2Z"/>
<path fill="#7B7B7B" d="M1545.4 322.7H1583.5V354H1545.4Z"/>
<path fill="#999999" d="M1583.2 322.7H1644.2V354H1583.2Z"/>
<path fill="#949494" d="M1643.9 322.7H1698.2V354H1643.9Z"/>
<path fill="#585858" d="M1697.9 322.7H1709V354H1697.9Z"/>
<path fill="#545454" d="M1708.7 322.7H1741.4V354H1708.7Z"/>
<path fill="#686868" d="M1741.1 322.7H1776.3V354H1741.1Z"/>
<path fill="#939393" d="M1320 353.7H1355.4V383.7H1320Z"/>
<path fill="#727272" d="M1355.1 353.7H1385.1V383.7H1355.1ZM1384.8 353.7H1529.5V383.7H1384.8Z"/>
<path fill="#888888" d="M1529.2 353.7H1545.7V383.7H1529.2Z"/>
<path fill="#ABABAB" d="M1545.4 353.7H1583.5V383.7H1545.4Z"/>
<path fill="#B0B0B0" d="M1583.2 353.7H1644.2V383.7H1583.2Z"/>
<path fill="#A5A5A5" d="M1643.9 353.7H1698.2V383.7H1643.9Z"/>
<path fill="#858585" d="M1697.9 353.7H1709V383.7H1697.9Z"/>
<path fill="#888888" d="M1708.7 353.7H1741.4V383.7H1708.7ZM1741.1 353.7H1776.3V383.7H1741.1Z"/>
<path fill="#6C6C6C" d="M1320 383.4H1355.4V405.3H1320Z"/>
<path fill="#676767" d="M1355.1 383.4H1385.1V405.3H1355.1ZM1384.8 383.4H1529.5V405.3H1384.8Z"/>
<path fill="#6D6D6D" d="M1529.2 383.4H1545.7V405.3H1529.2Z"/>
<path fill="#7B7B7B" d="M1545.4 383.4H1583.5V405.3H1545.4Z"/>
<path fill="#787878" d="M1583.2 383.4H1644.2V405.3H1583.2Z"/>
<path fill="#808080" d="M1643.9 383.4H1698.2V405.3H1643.9Z"/>
<path fill="#787878" d="M1697.9 383.4H1709V405.3H1697.9Z"/>
<path fill="#686868" d="M1708.7 383.4H1741.4V405.3H1708.7ZM1741.1 383.4H1776.3V405.3H1741.1Z"/>
<path fill="#515151" d="M1320 405H1355.4V463.4H1320Z"/>
<path fill="#626262" d="M1355.1 405H1385.1V463.4H1355.1Z"/>
<path fill="#676767" d="M1384.8 405H1529.5V463.4H1384.8Z"/>
<path fill="#414141" d="M1529.2 405H1545.7V463.4H1529.2Z"/>
<path fill="#515151" d="M1545.4 405H1583.5V463.4H1545.4ZM1583.2 405H1644.2V463.4H1583.2Z"/>
<path fill="#686868" d="M1643.9 405H1698.2V463.4H1643.9Z"/>
<path fill="#585858" d="M1697.9 405H1709V463.4H1697.9Z"/>
<path fill="#545454" d="M1708.7 405H1741.4V463.4H1708.7Z"/>
<path fill="#5D5D5D" d="M1741.1 405H1776.3V463.4H1741.1Z"/>
<path fill="#7B7B7B" d="M1320 463.1H1355.4V492.5H1320Z"/>
<path fill="#6C6C6C" d="M1355.1 463.1H1385.1V492.5H1355.1Z"/>
<path fill="#7B7B7B" d="M1384.8 463.1H1529.5V492.5H1384.8Z"/>
<path fill="#494949" d="M1529.2 463.1H1545.7V492.5H1529.2Z"/>
<path fill="#737373" d="M1545.4 463.1H1583.5V492.5H1545.4Z"/>
<path fill="#686868" d="M1583.2 463.1H1644.2V492.5H1583.2Z"/>
<path fill="#737373" d="M1643.9 463.1H1698.2V492.5H1643.9Z"/>
<path fill="#5D5D5D" d="M1697.9 463.1H1709V492.5H1697.9ZM1708.7 463.1H1741.4V492.5H1708.7Z"/>
<path fill="#585858" d="M1741.1 463.1H1776.3V492.5H1741.1Z"/>
<path fill="#565656" d="M1384.8 383.4H1529.5V390.5H1384.8ZM1384.8 405H1529.5V412.1H1384.8Z"/>
<path fill="#B4B4B4" d="M1320 492.2H1344.6V517.4H1320Z"/>
<path fill="#909090" d="M1344.3 492.2H1355.4V517.4H1344.3Z"/>
<path fill="#DEDEDE" d="M1355.1 492.2H1382.4V517.4H1355.1Z"/>
<path fill="#CBCBCB" d="M1382.1 492.2H1529.5V517.4H1382.1Z"/>
<path fill="#CCCCCC" d="M1529.2 492.2H1545.7V517.4H1529.2Z"/>
<path fill="#939393" d="M1545.4 492.2H1574.1V517.4H1545.4Z"/>
<path fill="#A2A2A2" d="M1573.8 492.2H1614.5V517.4H1573.8Z"/>
<path fill="#858585" d="M1614.2 492.2H1682V517.4H1614.2Z"/>
<path fill="#525252" d="M1681.7 492.2H1698.2V517.4H1681.7Z"/>
<path fill="#AAAAAA" d="M1697.9 492.2H1725.2V517.4H1697.9Z"/>
<path fill="#B1B1B1" d="M1724.9 492.2H1776.3V517.4H1724.9Z"/>
<path fill="#AEAEAE" d="M1320 517.1H1344.6V540.3H1320Z"/>
<path fill="#8A8A8A" d="M1344.3 517.1H1355.4V540.3H1344.3Z"/>
<path fill="#D8D8D8" d="M1355.1 517.1H1382.4V540.3H1355.1Z"/>
<path fill="#C3C3C3" d="M1382.1 517.1H1529.5V540.3H1382.1Z"/>
<path fill="#C4C4C4" d="M1529.2 517.1H1545.7V540.3H1529.2Z"/>
<path fill="#858585" d="M1545.4 517.1H1574.1V540.3H1545.4Z"/>
<path fill="#939393" d="M1573.8 517.1H1614.5V540.3H1573.8Z"/>
<path fill="#757575" d="M1614.2 517.1H1682V540.3H1614.2Z"/>
<path fill="#525252" d="M1681.7 517.1H1698.2V540.3H1681.7Z"/>
<path fill="#A2A2A2" d="M1697.9 517.1H1725.2V540.3H1697.9Z"/>
<path fill="#AAAAAA" d="M1724.9 517.1H1776.3V540.3H1724.9Z"/>
<path fill="#606060" d="M180 541.4H216.9V568.1H180Z"/>
<path fill="#797979" d="M216.6 541.4H239.8V568.1H216.6Z"/>
<path fill="#676767" d="M239.5 541.4H259.9V568.1H239.5Z"/>
<path fill="#767676" d="M259.6 541.4H278.7V568.1H259.6Z"/>
<path fill="#696969" d="M278.4 541.4H308.5V568.1H278.4Z"/>
<path fill="#636363" d="M308.2 541.4H338.2V568.1H308.2Z"/>
<path fill="#696969" d="M337.9 541.4H387.4V568.1H337.9Z"/>
<path fill="#767676" d="M387.1 541.4H405.7V568.1H387.1Z"/>
<path fill="#969696" d="M405.4 541.4H432.1V568.1H405.4Z"/>
<path fill="#898989" d="M431.8 541.4H454.9V568.1H431.8Z"/>
<path fill="#8F8F8F" d="M454.6 541.4H489.3V568.1H454.6Z"/>
<path fill="#6C6C6C" d="M489 541.4H505.3V568.1H489Z"/>
<path fill="#8F8F8F" d="M505 541.4H532.8V568.1H505Z"/>
<path fill="#939393" d="M532.5 541.4H564.8V568.1H532.5Z"/>
<path fill="#4B4B4B" d="M180 567.8H216.9V585.2H180Z"/>
<path fill="#6F6F6F" d="M216.6 567.8H239.8V585.2H216.6Z"/>
<path fill="#606060" d="M239.5 567.8H259.9V585.2H239.5Z"/>
<path fill="#7A7A7A" d="M259.6 567.8H278.7V585.2H259.6Z"/>
<path fill="#707070" d="M278.4 567.8H308.5V585.2H278.4Z"/>
<path fill="#636363" d="M308.2 567.8H338.2V585.2H308.2Z"/>
<path fill="#6C6C6C" d="M337.9 567.8H387.4V585.2H337.9Z"/>
<path fill="#898989" d="M387.1 567.8H405.7V585.2H387.1Z"/>
<path fill="#939393" d="M405.4 567.8H432.1V585.2H405.4Z"/>
<path fill="#898989" d="M431.8 567.8H454.9V585.2H431.8Z"/>
<path fill="#939393" d="M454.6 567.8H489.3V585.2H454.6Z"/>
<path fill="#6C6C6C" d="M489 567.8H505.3V585.2H489Z"/>
<path fill="#898989" d="M505 567.8H532.8V585.2H505ZM532.5 567.8H564.8V585.2H532.5Z"/>
<path fill="#676767" d="M180 584.9H216.9V599H180Z"/>
<path fill="#757575" d="M216.6 584.9H239.8V599H216.6Z"/>
<path fill="#676767" d="M239.5 584.9H259.9V599H239.5Z"/>
<path fill="#767676" d="M259.6 584.9H278.7V599H259.6Z"/>
<path fill="#6C6C6C" d="M278.4 584.9H308.5V599H278.4Z"/>
<path fill="#4A4A4A" d="M308.2 584.9H338.2V599H308.2Z"/>
<path fill="#505050" d="M337.9 584.9H387.4V599H337.9Z"/>
<path fill="#808080" d="M387.1 584.9H405.7V599H387.1Z"/>
<path fill="#898989" d="M405.4 584.9H432.1V599H405.4Z"/>
<path fill="#767676" d="M431.8 584.9H454.9V599H431.8Z"/>
<path fill="#858585" d="M454.6 584.9H489.3V599H454.6Z"/>
<path fill="#696969" d="M489 584.9H505.3V599H489Z"/>
<path fill="#767676" d="M505 584.9H532.8V599H505Z"/>
<path fill="#8F8F8F" d="M532.5 584.9H564.8V599H532.5Z"/>
<path fill="#373737" d="M180 598.7H216.9V616.1H180Z"/>
<path fill="#606060" d="M216.6 598.7H239.8V616.1H216.6Z"/>
<path fill="#414141" d="M239.5 598.7H259.9V616.1H239.5Z"/>
<path fill="#707070" d="M259.6 598.7H278.7V616.1H259.6Z"/>
<path fill="#5D5D5D" d="M278.4 598.7H308.5V616.1H278.4Z"/>
<path fill="#505050" d="M308.2 598.7H338.2V616.1H308.2Z"/>
<path fill="#5D5D5D" d="M337.9 598.7H387.4V616.1H337.9Z"/>
<path fill="#696969" d="M387.1 598.7H405.7V616.1H387.1Z"/>
<path fill="#858585" d="M405.4 598.7H432.1V616.1H405.4Z"/>
<path fill="#707070" d="M431.8 598.7H454.9V616.1H431.8Z"/>
<path fill="#898989" d="M454.6 598.7H489.3V616.1H454.6Z"/>
<path fill="#707070" d="M489 598.7H505.3V616.1H489Z"/>
<path fill="#767676" d="M505 598.7H532.8V616.1H505Z"/>
<path fill="#858585" d="M532.5 598.7H564.8V616.1H532.5Z"/>
<path fill="#6B6B6B" d="M180 615.8H216.9V639H180Z"/>
<path fill="#898989" d="M216.6 615.8H239.8V639H216.6Z"/>
<path fill="#606060" d="M239.5 615.8H259.9V639H239.5Z"/>
<path fill="#636363" d="M259.6 615.8H278.7V639H259.6Z"/>
<path fill="#555555" d="M278.4 615.8H308.5V639H278.4Z"/>
<path fill="#464646" d="M308.2 615.8H338.2V639H308.2Z"/>
<path fill="#505050" d="M337.9 615.8H387.4V639H337.9Z"/>
<path fill="#696969" d="M387.1 615.8H405.7V639H387.1Z"/>
<path fill="#898989" d="M405.4 615.8H432.1V639H405.4Z"/>
<path fill="#6C6C6C" d="M431.8 615.8H454.9V639H431.8Z"/>
<path fill="#898989" d="M454.6 615.8H489.3V639H454.6Z"/>
<path fill="#505050" d="M489 615.8H505.3V639H489Z"/>
<path fill="#8F8F8F" d="M505 615.8H532.8V639H505Z"/>
<path fill="#808080" d="M532.5 615.8H564.8V639H532.5Z"/>
<path fill="#797979" d="M180 638.7H216.9V668.8H180Z"/>
<path fill="#8B8B8B" d="M216.6 638.7H239.8V668.8H216.6Z"/>
<path fill="#6B6B6B" d="M239.5 638.7H259.9V668.8H239.5Z"/>
<path fill="#767676" d="M259.6 638.7H278.7V668.8H259.6Z"/>
<path fill="#6C6C6C" d="M278.4 638.7H308.5V668.8H278.4Z"/>
<path fill="#595959" d="M308.2 638.7H338.2V668.8H308.2Z"/>
<path fill="#696969" d="M337.9 638.7H387.4V668.8H337.9Z"/>
<path fill="#808080" d="M387.1 638.7H405.7V668.8H387.1Z"/>
<path fill="#8F8F8F" d="M405.4 638.7H432.1V668.8H405.4Z"/>
<path fill="#7A7A7A" d="M431.8 638.7H454.9V668.8H431.8Z"/>
<path fill="#9C9C9C" d="M454.6 638.7H489.3V668.8H454.6Z"/>
<path fill="#636363" d="M489 638.7H505.3V668.8H489Z"/>
<path fill="#8F8F8F" d="M505 638.7H532.8V668.8H505Z"/>
<path fill="#858585" d="M532.5 638.7H564.8V668.8H532.5ZM180 668.5H216.9V689.4H180Z"/>
<path fill="#898989" d="M216.6 668.5H239.8V689.4H216.6Z"/>
<path fill="#6B6B6B" d="M239.5 668.5H259.9V689.4H239.5Z"/>
<path fill="#464646" d="M259.6 668.5H278.7V689.4H259.6Z"/>
<path fill="#424242" d="M278.4 668.5H308.5V689.4H278.4Z"/>
<path fill="#373737" d="M308.2 668.5H338.2V689.4H308.2Z"/>
<path fill="#3C3C3C" d="M337.9 668.5H387.4V689.4H337.9Z"/>
<path fill="#464646" d="M387.1 668.5H405.7V689.4H387.1Z"/>
<path fill="#636363" d="M405.4 668.5H432.1V689.4H405.4Z"/>
<path fill="#505050" d="M431.8 668.5H454.9V689.4H431.8ZM454.6 668.5H489.3V689.4H454.6Z"/>
<path fill="#555555" d="M489 668.5H505.3V689.4H489Z"/>
<path fill="#696969" d="M505 668.5H532.8V689.4H505Z"/>
<path fill="#808080" d="M532.5 668.5H564.8V689.4H532.5Z"/>
<path fill="#898989" d="M180 689.1H216.9V712.2H180ZM216.6 689.1H239.8V712.2H216.6Z"/>
<path fill="#757575" d="M239.5 689.1H259.9V712.2H239.5Z"/>
<path fill="#707070" d="M259.6 689.1H278.7V712.2H259.6Z"/>
<path fill="#6C6C6C" d="M278.4 689.1H308.5V712.2H278.4Z"/>
<path fill="#4A4A4A" d="M308.2 689.1H338.2V712.2H308.2Z"/>
<path fill="#5D5D5D" d="M337.9 689.1H387.4V712.2H337.9Z"/>
<path fill="#8F8F8F" d="M387.1 689.1H405.7V712.2H387.1Z"/>
<path fill="#969696" d="M405.4 689.1H432.1V712.2H405.4Z"/>
<path fill="#858585" d="M431.8 689.1H454.9V712.2H431.8Z"/>
<path fill="#8F8F8F" d="M454.6 689.1H489.3V712.2H454.6Z"/>
<path fill="#636363" d="M489 689.1H505.3V712.2H489Z"/>
<path fill="#858585" d="M505 689.1H532.8V712.2H505ZM532.5 689.1H564.8V712.2H532.5Z"/>
<path fill="#757575" d="M180 711.9H216.9V739.7H180Z"/>
<path fill="#858585" d="M216.6 711.9H239.8V739.7H216.6Z"/>
<path fill="#6B6B6B" d="M239.5 711.9H259.9V739.7H239.5Z"/>
<path fill="#6C6C6C" d="M259.6 711.9H278.7V739.7H259.6Z"/>
<path fill="#696969" d="M278.4 711.9H308.5V739.7H278.4Z"/>
<path fill="#464646" d="M308.2 711.9H338.2V739.7H308.2Z"/>
<path fill="#505050" d="M337.9 711.9H387.4V739.7H337.9Z"/>
<path fill="#707070" d="M387.1 711.9H405.7V739.7H387.1Z"/>
<path fill="#858585" d="M405.4 711.9H432.1V739.7H405.4Z"/>
<path fill="#707070" d="M431.8 711.9H454.9V739.7H431.8Z"/>
<path fill="#7A7A7A" d="M454.6 711.9H489.3V739.7H454.6Z"/>
<path fill="#636363" d="M489 711.9H505.3V739.7H489Z"/>
<path fill="#808080" d="M505 711.9H532.8V739.7H505Z"/>
<path fill="#858585" d="M532.5 711.9H564.8V739.7H532.5Z"/>
<path fill="#676767" d="M180 739.4H216.9V767.2H180Z"/>
<path fill="#757575" d="M216.6 739.4H239.8V767.2H216.6Z"/>
<path fill="#676767" d="M239.5 739.4H259.9V767.2H239.5Z"/>
<path fill="#696969" d="M259.6 739.4H278.7V767.2H259.6Z"/>
<path fill="#636363" d="M278.4 739.4H308.5V767.2H278.4Z"/>
<path fill="#424242" d="M308.2 739.4H338.2V767.2H308.2Z"/>
<path fill="#595959" d="M337.9 739.4H387.4V767.2H337.9Z"/>
<path fill="#6C6C6C" d="M387.1 739.4H405.7V767.2H387.1Z"/>
<path fill="#898989" d="M405.4 739.4H432.1V767.2H405.4Z"/>
<path fill="#707070" d="M431.8 739.4H454.9V767.2H431.8Z"/>
<path fill="#7A7A7A" d="M454.6 739.4H489.3V767.2H454.6Z"/>
<path fill="#696969" d="M489 739.4H505.3V767.2H489Z"/>
<path fill="#858585" d="M505 739.4H532.8V767.2H505ZM532.5 739.4H564.8V767.2H532.5Z"/>
<path fill="#606060" d="M180 766.9H216.9V791.2H180Z"/>
<path fill="#757575" d="M216.6 766.9H239.8V791.2H216.6Z"/>
<path fill="#5A5A5A" d="M239.5 766.9H259.9V791.2H239.5Z"/>
<path fill="#636363" d="M259.6 766.9H278.7V791.2H259.6Z"/>
<path fill="#5D5D5D" d="M278.4 766.9H308.5V791.2H278.4Z"/>
<path fill="#424242" d="M308.2 766.9H338.2V791.2H308.2Z"/>
<path fill="#555555" d="M337.9 766.9H387.4V791.2H337.9Z"/>
<path fill="#696969" d="M387.1 766.9H405.7V791.2H387.1Z"/>
<path fill="#808080" d="M405.4 766.9H432.1V791.2H405.4Z"/>
<path fill="#6C6C6C" d="M431.8 766.9H454.9V791.2H431.8Z"/>
<path fill="#767676" d="M454.6 766.9H489.3V791.2H454.6Z"/>
<path fill="#636363" d="M489 766.9H505.3V791.2H489Z"/>
<path fill="#808080" d="M505 766.9H532.8V791.2H505Z"/>
<path fill="#858585" d="M532.5 766.9H564.8V791.2H532.5Z"/>
<path fill="#B4B4B4" d="M564.6 541.4H699.9V584.1H564.6Z"/>
<path fill="#B1B1B1" d="M699.6 541.4H738.8V584.1H699.6Z"/>
<path fill="#C6C6C6" d="M738.5 541.4H796V584.1H738.5Z"/>
<path fill="#ABABAB" d="M795.7 541.4H813.2V584.1H795.7Z"/>
<path fill="#C2C2C2" d="M812.9 541.4H838.6V584.1H812.9Z"/>
<path fill="#8D8D8D" d="M838.3 541.4H855.5V584.1H838.3Z"/>
<path fill="#989898" d="M855.2 541.4H892.2V584.1H855.2Z"/>
<path fill="#ADADAD" d="M891.9 541.4H926.5V584.1H891.9Z"/>
<path fill="#A3A3A3" d="M926.2 541.4H950.3V584.1H926.2Z"/>
<path fill="#A6A6A6" d="M564.6 583.8H699.9V616.1H564.6Z"/>
<path fill="#9A9A9A" d="M699.6 583.8H738.8V616.1H699.6Z"/>
<path fill="#B4B4B4" d="M738.5 583.8H796V616.1H738.5Z"/>
<path fill="#A6A6A6" d="M795.7 583.8H813.2V616.1H795.7Z"/>
<path fill="#BDBDBD" d="M812.9 583.8H838.6V616.1H812.9Z"/>
<path fill="#757575" d="M838.3 583.8H855.5V616.1H838.3Z"/>
<path fill="#888888" d="M855.2 583.8H892.2V616.1H855.2Z"/>
<path fill="#808080" d="M891.9 583.8H926.5V616.1H891.9Z"/>
<path fill="#909090" d="M926.2 583.8H950.3V616.1H926.2Z"/>
<path fill="#B4B4B4" d="M564.6 615.8H699.9V657.3H564.6Z"/>
<path fill="#ABABAB" d="M699.6 615.8H738.8V657.3H699.6Z"/>
<path fill="#BDBDBD" d="M738.5 615.8H796V657.3H738.5Z"/>
<path fill="#A6A6A6" d="M795.7 615.8H813.2V657.3H795.7Z"/>
<path fill="#BDBDBD" d="M812.9 615.8H838.6V657.3H812.9Z"/>
<path fill="#888888" d="M838.3 615.8H855.5V657.3H838.3Z"/>
<path fill="#A8A8A8" d="M855.2 615.8H892.2V657.3H855.2Z"/>
<path fill="#888888" d="M891.9 615.8H926.5V657.3H891.9Z"/>
<path fill="#8D8D8D" d="M926.2 615.8H950.3V657.3H926.2Z"/>
<path fill="#A3A3A3" d="M564.6 657H699.9V668.8H564.6Z"/>
<path fill="#9F9F9F" d="M699.6 657H738.8V668.8H699.6Z"/>
<path fill="#B1B1B1" d="M738.5 657H796V668.8H738.5Z"/>
<path fill="#959595" d="M795.7 657H813.2V668.8H795.7Z"/>
<path fill="#B4B4B4" d="M812.9 657H838.6V668.8H812.9Z"/>
<path fill="#8D8D8D" d="M838.3 657H855.5V668.8H838.3Z"/>
<path fill="#989898" d="M855.2 657H892.2V668.8H855.2Z"/>
<path fill="#939393" d="M891.9 657H926.5V668.8H891.9Z"/>
<path fill="#8D8D8D" d="M926.2 657H950.3V668.8H926.2Z"/>
<path fill="#B4B4B4" d="M564.6 668.5H699.9V693.9H564.6Z"/>
<path fill="#9F9F9F" d="M699.6 668.5H738.8V693.9H699.6Z"/>
<path fill="#BABABA" d="M738.5 668.5H796V693.9H738.5Z"/>
<path fill="#ABABAB" d="M795.7 668.5H813.2V693.9H795.7Z"/>
<path fill="#C2C2C2" d="M812.9 668.5H838.6V693.9H812.9Z"/>
<path fill="#6B6B6B" d="M838.3 668.5H855.5V693.9H838.3Z"/>
<path fill="#848484" d="M855.2 668.5H892.2V693.9H855.2Z"/>
<path fill="#606060" d="M891.9 668.5H926.5V693.9H891.9Z"/>
<path fill="#808080" d="M926.2 668.5H950.3V693.9H926.2Z"/>
<path fill="#BDBDBD" d="M564.6 693.6H699.9V707.7H564.6Z"/>
<path fill="#B4B4B4" d="M699.6 693.6H738.8V707.7H699.6Z"/>
<path fill="#C2C2C2" d="M738.5 693.6H796V707.7H738.5Z"/>
<path fill="#B1B1B1" d="M795.7 693.6H813.2V707.7H795.7Z"/>
<path fill="#C2C2C2" d="M812.9 693.6H838.6V707.7H812.9Z"/>
<path fill="#939393" d="M838.3 693.6H855.5V707.7H838.3Z"/>
<path fill="#A3A3A3" d="M855.2 693.6H892.2V707.7H855.2Z"/>
<path fill="#ADADAD" d="M891.9 693.6H926.5V707.7H891.9Z"/>
<path fill="#A8A8A8" d="M926.2 693.6H950.3V707.7H926.2Z"/>
<path fill="#B4B4B4" d="M564.6 707.4H699.9V767.2H564.6Z"/>
<path fill="#ABABAB" d="M699.6 707.4H738.8V767.2H699.6Z"/>
<path fill="#C2C2C2" d="M738.5 707.4H796V767.2H738.5Z"/>
<path fill="#ABABAB" d="M795.7 707.4H813.2V767.2H795.7Z"/>
<path fill="#C6C6C6" d="M812.9 707.4H838.6V767.2H812.9Z"/>
<path fill="#797979" d="M838.3 707.4H855.5V767.2H838.3Z"/>
<path fill="#909090" d="M855.2 707.4H892.2V767.2H855.2Z"/>
<path fill="#848484" d="M891.9 707.4H926.5V767.2H891.9Z"/>
<path fill="#939393" d="M926.2 707.4H950.3V767.2H926.2Z"/>
<path fill="#ABABAB" d="M564.6 766.9H699.9V791.2H564.6Z"/>
<path fill="#A6A6A6" d="M699.6 766.9H738.8V791.2H699.6Z"/>
<path fill="#B8B8B8" d="M738.5 766.9H796V791.2H738.5Z"/>
<path fill="#A6A6A6" d="M795.7 766.9H813.2V791.2H795.7Z"/>
<path fill="#C2C2C2" d="M812.9 766.9H838.6V791.2H812.9Z"/>
<path fill="#808080" d="M838.3 766.9H855.5V791.2H838.3Z"/>
<path fill="#939393" d="M855.2 766.9H892.2V791.2H855.2Z"/>
<path fill="#8D8D8D" d="M891.9 766.9H926.5V791.2H891.9Z"/>
<path fill="#989898" d="M926.2 766.9H950.3V791.2H926.2Z"/>
<path fill="#959595" d="M795.7 541.4H813.2V561.2H795.7Z"/>
<path fill="#A8A8A8" d="M940 541.4H951.7V584.1H940Z"/>
<path fill="#989898" d="M951.4 541.4H974.6V584.1H951.4Z"/>
<path fill="#BDBDBD" d="M974.3 541.4H1015.8V584.1H974.3Z"/>
<path fill="#B8B8B8" d="M1015.5 541.4H1050.2V584.1H1015.5Z"/>
<path fill="#939393" d="M1049.9 541.4H1063.9V584.1H1049.9Z"/>
<path fill="#B8B8B8" d="M1063.6 541.4H1097.8V584.1H1063.6Z"/>
<path fill="#878787" d="M1097.5 541.4H1121.1V584.1H1097.5Z"/>
<path fill="#8F8F8F" d="M1120.8 541.4H1160V584.1H1120.8Z"/>
<path fill="#8C8C8C" d="M1159.7 541.4H1208.1V584.1H1159.7Z"/>
<path fill="#6D6D6D" d="M1207.8 541.4H1233.3V584.1H1207.8Z"/>
<path fill="#7C7C7C" d="M1233 541.4H1260.7V584.1H1233Z"/>
<path fill="#717171" d="M1260.4 541.4H1283.6V584.1H1260.4Z"/>
<path fill="#A1A1A1" d="M1283.3 541.4H1330.3V584.1H1283.3Z"/>
<path fill="#909090" d="M940 583.8H951.7V616.1H940Z"/>
<path fill="#797979" d="M951.4 583.8H974.6V616.1H951.4Z"/>
<path fill="#ADADAD" d="M974.3 583.8H1015.8V616.1H974.3Z"/>
<path fill="#A8A8A8" d="M1015.5 583.8H1050.2V616.1H1015.5Z"/>
<path fill="#939393" d="M1049.9 583.8H1063.9V616.1H1049.9Z"/>
<path fill="#A3A3A3" d="M1063.6 583.8H1097.8V616.1H1063.6Z"/>
<path fill="#9B9B9B" d="M1097.5 583.8H1121.1V616.1H1097.5Z"/>
<path fill="#A1A1A1" d="M1120.8 583.8H1160V616.1H1120.8Z"/>
<path fill="#9B9B9B" d="M1159.7 583.8H1208.1V616.1H1159.7Z"/>
<path fill="#767676" d="M1207.8 583.8H1233.3V616.1H1207.8Z"/>
<path fill="#8C8C8C" d="M1233 583.8H1260.7V616.1H1233Z"/>
<path fill="#717171" d="M1260.4 583.8H1283.6V616.1H1260.4Z"/>
<path fill="#9B9B9B" d="M1283.3 583.8H1330.3V616.1H1283.3Z"/>
<path fill="#989898" d="M940 615.8H951.7V657.3H940Z"/>
<path fill="#888888" d="M951.4 615.8H974.6V657.3H951.4Z"/>
<path fill="#B0B0B0" d="M974.3 615.8H1015.8V657.3H974.3Z"/>
<path fill="#A8A8A8" d="M1015.5 615.8H1050.2V657.3H1015.5Z"/>
<path fill="#848484" d="M1049.9 615.8H1063.9V657.3H1049.9Z"/>
<path fill="#A3A3A3" d="M1063.6 615.8H1097.8V657.3H1063.6Z"/>
<path fill="#929292" d="M1097.5 615.8H1121.1V657.3H1097.5Z"/>
<path fill="#969696" d="M1120.8 615.8H1160V657.3H1120.8Z"/>
<path fill="#878787" d="M1159.7 615.8H1208.1V657.3H1159.7Z"/>
<path fill="#767676" d="M1207.8 615.8H1233.3V657.3H1207.8Z"/>
<path fill="#808080" d="M1233 615.8H1260.7V657.3H1233Z"/>
<path fill="#737373" d="M1260.4 615.8H1283.6V657.3H1260.4Z"/>
<path fill="#ADADAD" d="M1283.3 615.8H1330.3V657.3H1283.3Z"/>
<path fill="#A0A0A0" d="M940 657H951.7V668.8H940Z"/>
<path fill="#888888" d="M951.4 657H974.6V668.8H951.4Z"/>
<path fill="#A3A3A3" d="M974.3 657H1015.8V668.8H974.3Z"/>
<path fill="#A0A0A0" d="M1015.5 657H1050.2V668.8H1015.5Z"/>
<path fill="#757575" d="M1049.9 657H1063.9V668.8H1049.9Z"/>
<path fill="#A3A3A3" d="M1063.6 657H1097.8V668.8H1063.6Z"/>
<path fill="#808080" d="M1097.5 657H1121.1V668.8H1097.5ZM1120.8 657H1160V668.8H1120.8Z"/>
<path fill="#767676" d="M1159.7 657H1208.1V668.8H1159.7Z"/>
<path fill="#717171" d="M1207.8 657H1233.3V668.8H1207.8Z"/>
<path fill="#797979" d="M1233 657H1260.7V668.8H1233Z"/>
<path fill="#737373" d="M1260.4 657H1283.6V668.8H1260.4Z"/>
<path fill="#8C8C8C" d="M1283.3 657H1330.3V668.8H1283.3Z"/>
<path fill="#888888" d="M940 668.5H951.7V689.4H940Z"/>
<path fill="#757575" d="M951.4 668.5H974.6V689.4H951.4Z"/>
<path fill="#A8A8A8" d="M974.3 668.5H1015.8V689.4H974.3Z"/>
<path fill="#8D8D8D" d="M1015.5 668.5H1050.2V689.4H1015.5Z"/>
<path fill="#808080" d="M1049.9 668.5H1063.9V689.4H1049.9Z"/>
<path fill="#797979" d="M1063.6 668.5H1097.8V689.4H1063.6Z"/>
<path fill="#AAAAAA" d="M1097.5 668.5H1121.1V689.4H1097.5Z"/>
<path fill="#A6A6A6" d="M1120.8 668.5H1160V689.4H1120.8Z"/>
<path fill="#969696" d="M1159.7 668.5H1208.1V689.4H1159.7Z"/>
<path fill="#7C7C7C" d="M1207.8 668.5H1233.3V689.4H1207.8Z"/>
<path fill="#8F8F8F" d="M1233 668.5H1260.7V689.4H1233Z"/>
<path fill="#878787" d="M1260.4 668.5H1283.6V689.4H1260.4Z"/>
<path fill="#B5B5B5" d="M1283.3 668.5H1330.3V689.4H1283.3Z"/>
<path fill="#A0A0A0" d="M940 689.1H951.7V719.1H940Z"/>
<path fill="#989898" d="M951.4 689.1H974.6V719.1H951.4Z"/>
<path fill="#C1C1C1" d="M974.3 689.1H1015.8V719.1H974.3Z"/>
<path fill="#B8B8B8" d="M1015.5 689.1H1050.2V719.1H1015.5Z"/>
<path fill="#888888" d="M1049.9 689.1H1063.9V719.1H1049.9Z"/>
<path fill="#A8A8A8" d="M1063.6 689.1H1097.8V719.1H1063.6Z"/>
<path fill="#969696" d="M1097.5 689.1H1121.1V719.1H1097.5Z"/>
<path fill="#929292" d="M1120.8 689.1H1160V719.1H1120.8Z"/>
<path fill="#8C8C8C" d="M1159.7 689.1H1208.1V719.1H1159.7Z"/>
<path fill="#767676" d="M1207.8 689.1H1233.3V719.1H1207.8Z"/>
<path fill="#848484" d="M1233 689.1H1260.7V719.1H1233Z"/>
<path fill="#797979" d="M1260.4 689.1H1283.6V719.1H1260.4Z"/>
<path fill="#AAAAAA" d="M1283.3 689.1H1330.3V719.1H1283.3Z"/>
<path fill="#8D8D8D" d="M940 718.8H951.7V737.4H940Z"/>
<path fill="#797979" d="M951.4 718.8H974.6V737.4H951.4Z"/>
<path fill="#ADADAD" d="M974.3 718.8H1015.8V737.4H974.3ZM1015.5 718.8H1050.2V737.4H1015.5Z"/>
<path fill="#848484" d="M1049.9 718.8H1063.9V737.4H1049.9Z"/>
<path fill="#989898" d="M1063.6 718.8H1097.8V737.4H1063.6Z"/>
<path fill="#A6A6A6" d="M1097.5 718.8H1121.1V737.4H1097.5Z"/>
<path fill="#AAAAAA" d="M1120.8 718.8H1160V737.4H1120.8Z"/>
<path fill="#A1A1A1" d="M1159.7 718.8H1208.1V737.4H1159.7Z"/>
<path fill="#797979" d="M1207.8 718.8H1233.3V737.4H1207.8Z"/>
<path fill="#8C8C8C" d="M1233 718.8H1260.7V737.4H1233Z"/>
<path fill="#808080" d="M1260.4 718.8H1283.6V737.4H1260.4Z"/>
<path fill="#9B9B9B" d="M1283.3 718.8H1330.3V737.4H1283.3Z"/>
<path fill="#989898" d="M940 737.1H951.7V791.2H940Z"/>
<path fill="#888888" d="M951.4 737.1H974.6V791.2H951.4Z"/>
<path fill="#B4B4B4" d="M974.3 737.1H1015.8V791.2H974.3ZM1015.5 737.1H1050.2V791.2H1015.5Z"/>
<path fill="#939393" d="M1049.9 737.1H1063.9V791.2H1049.9Z"/>
<path fill="#A8A8A8" d="M1063.6 737.1H1097.8V791.2H1063.6Z"/>
<path fill="#9B9B9B" d="M1097.5 737.1H1121.1V791.2H1097.5Z"/>
<path fill="#A1A1A1" d="M1120.8 737.1H1160V791.2H1120.8Z"/>
<path fill="#9B9B9B" d="M1159.7 737.1H1208.1V791.2H1159.7Z"/>
<path fill="#737373" d="M1207.8 737.1H1233.3V791.2H1207.8Z"/>
<path fill="#767676" d="M1233 737.1H1260.7V791.2H1233Z"/>
<path fill="#878787" d="M1260.4 737.1H1283.6V791.2H1260.4Z"/>
<path fill="#ADADAD" d="M1283.3 737.1H1330.3V791.2H1283.3Z"/>
<path fill="#A1A1A1" d="M1320 540.7H1354V616.6H1320Z"/>
<path fill="#737373" d="M1353.7 540.7H1364.8V616.6H1353.7Z"/>
<path fill="#878787" d="M1364.5 540.7H1385.1V616.6H1364.5Z"/>
<path fill="#8F8F8F" d="M1384.8 540.7H1449.9V616.6H1384.8Z"/>
<path fill="#929292" d="M1449.6 540.7H1529.5V616.6H1449.6Z"/>
<path fill="#ABABAB" d="M1529.2 540.7H1545.7V616.6H1529.2Z"/>
<path fill="#B1B1B1" d="M1545.4 540.7H1606.5V616.6H1545.4Z"/>
<path fill="#B4B4B4" d="M1606.2 540.7H1640.2V616.6H1606.2Z"/>
<path fill="#959595" d="M1639.9 540.7H1698.2V616.6H1639.9Z"/>
<path fill="#797979" d="M1697.9 540.7H1725.2V616.6H1697.9Z"/>
<path fill="#888888" d="M1724.9 540.7H1744.1V616.6H1724.9Z"/>
<path fill="#959595" d="M1743.8 540.7H1776.3V616.6H1743.8Z"/>
<path fill="#AAAAAA" d="M1320 616.3H1354V638.2H1320Z"/>
<path fill="#7C7C7C" d="M1353.7 616.3H1364.8V638.2H1353.7Z"/>
<path fill="#8F8F8F" d="M1364.5 616.3H1385.1V638.2H1364.5ZM1384.8 616.3H1449.9V638.2H1384.8Z"/>
<path fill="#9B9B9B" d="M1449.6 616.3H1529.5V638.2H1449.6Z"/>
<path fill="#C9C9C9" d="M1529.2 616.3H1545.7V638.2H1529.2Z"/>
<path fill="#C2C2C2" d="M1545.4 616.3H1606.5V638.2H1545.4Z"/>
<path fill="#C6C6C6" d="M1606.2 616.3H1640.2V638.2H1606.2Z"/>
<path fill="#ABABAB" d="M1639.9 616.3H1698.2V638.2H1639.9Z"/>
<path fill="#A6A6A6" d="M1697.9 616.3H1725.2V638.2H1697.9Z"/>
<path fill="#BDBDBD" d="M1724.9 616.3H1744.1V638.2H1724.9Z"/>
<path fill="#B1B1B1" d="M1743.8 616.3H1776.3V638.2H1743.8Z"/>
<path fill="#9E9E9E" d="M1320 637.9H1354V657.1H1320Z"/>
<path fill="#797979" d="M1353.7 637.9H1364.8V657.1H1353.7Z"/>
<path fill="#808080" d="M1364.5 637.9H1385.1V657.1H1364.5Z"/>
<path fill="#848484" d="M1384.8 637.9H1449.9V657.1H1384.8Z"/>
<path fill="#8C8C8C" d="M1449.6 637.9H1529.5V657.1H1449.6Z"/>
<path fill="#B8B8B8" d="M1529.2 637.9H1545.7V657.1H1529.2Z"/>
<path fill="#B4B4B4" d="M1545.4 637.9H1606.5V657.1H1545.4Z"/>
<path fill="#BABABA" d="M1606.2 637.9H1640.2V657.1H1606.2Z"/>
<path fill="#9F9F9F" d="M1639.9 637.9H1698.2V657.1H1639.9ZM1697.9 637.9H1725.2V657.1H1697.9Z"/>
<path fill="#B1B1B1" d="M1724.9 637.9H1744.1V657.1H1724.9Z"/>
<path fill="#9F9F9F" d="M1743.8 637.9H1776.3V657.1H1743.8Z"/>
<path fill="#8F8F8F" d="M1320 656.8H1354V667.9H1320Z"/>
<path fill="#737373" d="M1353.7 656.8H1364.8V667.9H1353.7Z"/>
<path fill="#6D6D6D" d="M1364.5 656.8H1385.1V667.9H1364.5Z"/>
<path fill="#717171" d="M1384.8 656.8H1449.9V667.9H1384.8Z"/>
<path fill="#767676" d="M1449.6 656.8H1529.5V667.9H1449.6Z"/>
<path fill="#B4B4B4" d="M1529.2 656.8H1545.7V667.9H1529.2Z"/>
<path fill="#ABABAB" d="M1545.4 656.8H1606.5V667.9H1545.4Z"/>
<path fill="#B4B4B4" d="M1606.2 656.8H1640.2V667.9H1606.2Z"/>
<path fill="#9A9A9A" d="M1639.9 656.8H1698.2V667.9H1639.9Z"/>
<path fill="#9F9F9F" d="M1697.9 656.8H1725.2V667.9H1697.9Z"/>
<path fill="#ABABAB" d="M1724.9 656.8H1744.1V667.9H1724.9Z"/>
<path fill="#9A9A9A" d="M1743.8 656.8H1776.3V667.9H1743.8Z"/>
<path fill="#B5B5B5" d="M1320 667.6H1354V689.5H1320Z"/>
<path fill="#8F8F8F" d="M1353.7 667.6H1364.8V689.5H1353.7Z"/>
<path fill="#A6A6A6" d="M1364.5 667.6H1385.1V689.5H1364.5ZM1384.8 667.6H1449.9V689.5H1384.8Z"/>
<path fill="#ADADAD" d="M1449.6 667.6H1529.5V689.5H1449.6Z"/>
<path fill="#C6C6C6" d="M1529.2 667.6H1545.7V689.5H1529.2Z"/>
<path fill="#B8B8B8" d="M1545.4 667.6H1606.5V689.5H1545.4Z"/>
<path fill="#BDBDBD" d="M1606.2 667.6H1640.2V689.5H1606.2Z"/>
<path fill="#9F9F9F" d="M1639.9 667.6H1698.2V689.5H1639.9Z"/>
<path fill="#A3A3A3" d="M1697.9 667.6H1725.2V689.5H1697.9Z"/>
<path fill="#BDBDBD" d="M1724.9 667.6H1744.1V689.5H1724.9Z"/>
<path fill="#B4B4B4" d="M1743.8 667.6H1776.3V689.5H1743.8Z"/>
<path fill="#A6A6A6" d="M1320 689.2H1354V711.1H1320Z"/>
<path fill="#767676" d="M1353.7 689.2H1364.8V711.1H1353.7Z"/>
<path fill="#878787" d="M1364.5 689.2H1385.1V711.1H1364.5Z"/>
<path fill="#8C8C8C" d="M1384.8 689.2H1449.9V711.1H1384.8Z"/>
<path fill="#929292" d="M1449.6 689.2H1529.5V711.1H1449.6Z"/>
<path fill="#BDBDBD" d="M1529.2 689.2H1545.7V711.1H1529.2Z"/>
<path fill="#B8B8B8" d="M1545.4 689.2H1606.5V711.1H1545.4Z"/>
<path fill="#C2C2C2" d="M1606.2 689.2H1640.2V711.1H1606.2Z"/>
<path fill="#A3A3A3" d="M1639.9 689.2H1698.2V711.1H1639.9ZM1697.9 689.2H1725.2V711.1H1697.9Z"/>
<path fill="#B1B1B1" d="M1724.9 689.2H1744.1V711.1H1724.9Z"/>
<path fill="#ABABAB" d="M1743.8 689.2H1776.3V711.1H1743.8Z"/>
<path fill="#ADADAD" d="M1320 710.8H1354V738.1H1320Z"/>
<path fill="#808080" d="M1353.7 710.8H1364.8V738.1H1353.7Z"/>
<path fill="#969696" d="M1364.5 710.8H1385.1V738.1H1364.5Z"/>
<path fill="#9E9E9E" d="M1384.8 710.8H1449.9V738.1H1384.8Z"/>
<path fill="#A1A1A1" d="M1449.6 710.8H1529.5V738.1H1449.6Z"/>
<path fill="#B4B4B4" d="M1529.2 710.8H1545.7V738.1H1529.2Z"/>
<path fill="#B1B1B1" d="M1545.4 710.8H1606.5V738.1H1545.4Z"/>
<path fill="#B8B8B8" d="M1606.2 710.8H1640.2V738.1H1606.2Z"/>
<path fill="#959595" d="M1639.9 710.8H1698.2V738.1H1639.9Z"/>
<path fill="#919191" d="M1697.9 710.8H1725.2V738.1H1697.9Z"/>
<path fill="#A6A6A6" d="M1724.9 710.8H1744.1V738.1H1724.9Z"/>
<path fill="#A3A3A3" d="M1743.8 710.8H1776.3V738.1H1743.8Z"/>
<path fill="#AAAAAA" d="M1320 737.8H1354V792.1H1320Z"/>
<path fill="#7C7C7C" d="M1353.7 737.8H1364.8V792.1H1353.7Z"/>
<path fill="#929292" d="M1364.5 737.8H1385.1V792.1H1364.5ZM1384.8 737.8H1449.9V792.1H1384.8Z"/>
<path fill="#9B9B9B" d="M1449.6 737.8H1529.5V792.1H1449.6Z"/>
<path fill="#B4B4B4" d="M1529.2 737.8H1545.7V792.1H1529.2ZM1545.4 737.8H1606.5V792.1H1545.4Z"/>
<path fill="#BDBDBD" d="M1606.2 737.8H1640.2V792.1H1606.2Z"/>
<path fill="#A3A3A3" d="M1639.9 737.8H1698.2V792.1H1639.9Z"/>
<path fill="#959595" d="M1697.9 737.8H1725.2V792.1H1697.9Z"/>
<path fill="#B1B1B1" d="M1724.9 737.8H1744.1V792.1H1724.9Z"/>
<path fill="#ABABAB" d="M1743.8 737.8H1776.3V792.1H1743.8Z"/>
<path fill="#969696" d="M180 793.4H216.9V809.8H180Z"/>
<path fill="#9C9C9C" d="M216.6 793.4H239.8V809.8H216.6Z"/>
<path fill="#757575" d="M239.5 793.4H259.9V809.8H239.5Z"/>
<path fill="#222222" d="M259.6 793.4H293.6V809.8H259.6Z"/>
<path fill="#4B4B4B" d="M293.3 793.4H310.8V809.8H293.3Z"/>
<path fill="#373737" d="M310.5 793.4H338.2V809.8H310.5Z"/>
<path fill="#303030" d="M337.9 793.4H387.4V809.8H337.9Z"/>
<path fill="#3D3D3D" d="M387.1 793.4H429.8V809.8H387.1Z"/>
<path fill="#373737" d="M429.5 793.4H454.9V809.8H429.5Z"/>
<path fill="#303030" d="M454.6 793.4H488.1V809.8H454.6Z"/>
<path fill="#5A5A5A" d="M487.8 793.4H507.6V809.8H487.8Z"/>
<path fill="#6F6F6F" d="M507.3 793.4H532.8V809.8H507.3Z"/>
<path fill="#808080" d="M532.5 793.4H564.8V809.8H532.5Z"/>
<path fill="#939393" d="M180 809.5H216.9V820.1H180Z"/>
<path fill="#969696" d="M216.6 809.5H239.8V820.1H216.6Z"/>
<path fill="#797979" d="M239.5 809.5H259.9V820.1H239.5Z"/>
<path fill="#373737" d="M259.6 809.5H293.6V820.1H259.6Z"/>
<path fill="#606060" d="M293.3 809.5H310.8V820.1H293.3Z"/>
<path fill="#454545" d="M310.5 809.5H338.2V820.1H310.5Z"/>
<path fill="#414141" d="M337.9 809.5H387.4V820.1H337.9Z"/>
<path fill="#4B4B4B" d="M387.1 809.5H429.8V820.1H387.1ZM429.5 809.5H454.9V820.1H429.5Z"/>
<path fill="#454545" d="M454.6 809.5H488.1V820.1H454.6Z"/>
<path fill="#6B6B6B" d="M487.8 809.5H507.6V820.1H487.8Z"/>
<path fill="#757575" d="M507.3 809.5H532.8V820.1H507.3Z"/>
<path fill="#808080" d="M532.5 809.5H564.8V820.1H532.5Z"/>
<path fill="#454545" d="M180 819.8H216.9V829.2H180Z"/>
<path fill="#898989" d="M216.6 819.8H239.8V829.2H216.6Z"/>
<path fill="#4B4B4B" d="M239.5 819.8H259.9V829.2H239.5Z"/>
<path fill="#3D3D3D" d="M259.6 819.8H293.6V829.2H259.6Z"/>
<path fill="#606060" d="M293.3 819.8H310.8V829.2H293.3Z"/>
<path fill="#4B4B4B" d="M310.5 819.8H338.2V829.2H310.5Z"/>
<path fill="#454545" d="M337.9 819.8H387.4V829.2H337.9ZM387.1 819.8H429.8V829.2H387.1Z"/>
<path fill="#525252" d="M429.5 819.8H454.9V829.2H429.5Z"/>
<path fill="#4B4B4B" d="M454.6 819.8H488.1V829.2H454.6Z"/>
<path fill="#757575" d="M487.8 819.8H507.6V829.2H487.8Z"/>
<path fill="#797979" d="M507.3 819.8H532.8V829.2H507.3ZM532.5 819.8H564.8V829.2H532.5Z"/>
<path fill="#757575" d="M180 828.9H216.9V841.8H180Z"/>
<path fill="#898989" d="M216.6 828.9H239.8V841.8H216.6Z"/>
<path fill="#5A5A5A" d="M239.5 828.9H259.9V841.8H239.5Z"/>
<path fill="#282828" d="M259.6 828.9H293.6V841.8H259.6Z"/>
<path fill="#5A5A5A" d="M293.3 828.9H310.8V841.8H293.3Z"/>
<path fill="#4B4B4B" d="M310.5 828.9H338.2V841.8H310.5Z"/>
<path fill="#414141" d="M337.9 828.9H387.4V841.8H337.9Z"/>
<path fill="#303030" d="M387.1 828.9H429.8V841.8H387.1Z"/>
<path fill="#4B4B4B" d="M429.5 828.9H454.9V841.8H429.5Z"/>
<path fill="#303030" d="M454.6 828.9H488.1V841.8H454.6Z"/>
<path fill="#6F6F6F" d="M487.8 828.9H507.6V841.8H487.8Z"/>
<path fill="#6B6B6B" d="M507.3 828.9H532.8V841.8H507.3Z"/>
<path fill="#757575" d="M532.5 828.9H564.8V841.8H532.5Z"/>
<path fill="#969696" d="M180 841.5H216.9V861.3H180Z"/>
<path fill="#808080" d="M216.6 841.5H239.8V861.3H216.6Z"/>
<path fill="#6F6F6F" d="M239.5 841.5H259.9V861.3H239.5Z"/>
<path fill="#373737" d="M259.6 841.5H293.6V861.3H259.6Z"/>
<path fill="#676767" d="M293.3 841.5H310.8V861.3H293.3Z"/>
<path fill="#454545" d="M310.5 841.5H338.2V861.3H310.5Z"/>
<path fill="#414141" d="M337.9 841.5H387.4V861.3H337.9Z"/>
<path fill="#454545" d="M387.1 841.5H429.8V861.3H387.1Z"/>
<path fill="#5A5A5A" d="M429.5 841.5H454.9V861.3H429.5Z"/>
<path fill="#373737" d="M454.6 841.5H488.1V861.3H454.6Z"/>
<path fill="#757575" d="M487.8 841.5H507.6V861.3H487.8ZM507.3 841.5H532.8V861.3H507.3Z"/>
<path fill="#808080" d="M532.5 841.5H564.8V861.3H532.5Z"/>
<path fill="#939393" d="M180 861H216.9V870.4H180Z"/>
<path fill="#808080" d="M216.6 861H239.8V870.4H216.6Z"/>
<path fill="#858585" d="M239.5 861H259.9V870.4H239.5Z"/>
<path fill="#525252" d="M259.6 861H293.6V870.4H259.6Z"/>
<path fill="#6F6F6F" d="M293.3 861H310.8V870.4H293.3Z"/>
<path fill="#525252" d="M310.5 861H338.2V870.4H310.5Z"/>
<path fill="#565656" d="M337.9 861H387.4V870.4H337.9Z"/>
<path fill="#606060" d="M387.1 861H429.8V870.4H387.1Z"/>
<path fill="#676767" d="M429.5 861H454.9V870.4H429.5Z"/>
<path fill="#606060" d="M454.6 861H488.1V870.4H454.6Z"/>
<path fill="#757575" d="M487.8 861H507.6V870.4H487.8Z"/>
<path fill="#797979" d="M507.3 861H532.8V870.4H507.3Z"/>
<path fill="#808080" d="M532.5 861H564.8V870.4H532.5Z"/>
<path fill="#969696" d="M180 870.1H216.9V891H180ZM216.6 870.1H239.8V891H216.6Z"/>
<path fill="#858585" d="M239.5 870.1H259.9V891H239.5Z"/>
<path fill="#5A5A5A" d="M259.6 870.1H293.6V891H259.6Z"/>
<path fill="#898989" d="M293.3 870.1H310.8V891H293.3Z"/>
<path fill="#606060" d="M310.5 870.1H338.2V891H310.5Z"/>
<path fill="#5A5A5A" d="M337.9 870.1H387.4V891H337.9Z"/>
<path fill="#898989" d="M387.1 870.1H429.8V891H387.1Z"/>
<path fill="#5A5A5A" d="M429.5 870.1H454.9V891H429.5Z"/>
<path fill="#939393" d="M454.6 870.1H488.1V891H454.6Z"/>
<path fill="#676767" d="M487.8 870.1H507.6V891H487.8Z"/>
<path fill="#898989" d="M507.3 870.1H532.8V891H507.3ZM532.5 870.1H564.8V891H532.5Z"/>
<path fill="#5A5A5A" d="M180 890.7H216.9V900.2H180Z"/>
<path fill="#6F6F6F" d="M216.6 890.7H239.8V900.2H216.6Z"/>
<path fill="#6B6B6B" d="M239.5 890.7H259.9V900.2H239.5Z"/>
<path fill="#6F6F6F" d="M259.6 890.7H293.6V900.2H259.6Z"/>
<path fill="#858585" d="M293.3 890.7H310.8V900.2H293.3Z"/>
<path fill="#757575" d="M310.5 890.7H338.2V900.2H310.5Z"/>
<path fill="#797979" d="M337.9 890.7H387.4V900.2H337.9Z"/>
<path fill="#898989" d="M387.1 890.7H429.8V900.2H387.1Z"/>
<path fill="#797979" d="M429.5 890.7H454.9V900.2H429.5Z"/>
<path fill="#898989" d="M454.6 890.7H488.1V900.2H454.6Z"/>
<path fill="#757575" d="M487.8 890.7H507.6V900.2H487.8Z"/>
<path fill="#8F8F8F" d="M507.3 890.7H532.8V900.2H507.3Z"/>
<path fill="#898989" d="M532.5 890.7H564.8V900.2H532.5Z"/>
<path fill="#8F8F8F" d="M180 899.9H216.9V919.6H180Z"/>
<path fill="#969696" d="M216.6 899.9H239.8V919.6H216.6Z"/>
<path fill="#858585" d="M239.5 899.9H259.9V919.6H239.5Z"/>
<path fill="#676767" d="M259.6 899.9H293.6V919.6H259.6Z"/>
<path fill="#898989" d="M293.3 899.9H310.8V919.6H293.3Z"/>
<path fill="#6F6F6F" d="M310.5 899.9H338.2V919.6H310.5Z"/>
<path fill="#8F8F8F" d="M337.9 899.9H387.4V919.6H337.9ZM387.1 899.9H429.8V919.6H387.1Z"/>
<path fill="#898989" d="M429.5 899.9H454.9V919.6H429.5Z"/>
<path fill="#8F8F8F" d="M454.6 899.9H488.1V919.6H454.6Z"/>
<path fill="#757575" d="M487.8 899.9H507.6V919.6H487.8Z"/>
<path fill="#969696" d="M507.3 899.9H532.8V919.6H507.3Z"/>
<path fill="#898989" d="M532.5 899.9H564.8V919.6H532.5Z"/>
<path fill="#D6D6D6" d="M180 919.3H216.9V934.5H180Z"/>
<path fill="#A2A2A2" d="M216.6 919.3H239.8V934.5H216.6Z"/>
<path fill="#CCCCCC" d="M239.5 919.3H259.9V934.5H239.5Z"/>
<path fill="#898989" d="M259.6 919.3H293.6V934.5H259.6Z"/>
<path fill="#9C9C9C" d="M293.3 919.3H310.8V934.5H293.3Z"/>
<path fill="#858585" d="M310.5 919.3H338.2V934.5H310.5Z"/>
<path fill="#898989" d="M337.9 919.3H387.4V934.5H337.9Z"/>
<path fill="#AFAFAF" d="M387.1 919.3H429.8V934.5H387.1Z"/>
<path fill="#969696" d="M429.5 919.3H454.9V934.5H429.5Z"/>
<path fill="#A2A2A2" d="M454.6 919.3H488.1V934.5H454.6Z"/>
<path fill="#808080" d="M487.8 919.3H507.6V934.5H487.8Z"/>
<path fill="#A6A6A6" d="M507.3 919.3H532.8V934.5H507.3Z"/>
<path fill="#8F8F8F" d="M532.5 919.3H564.8V934.5H532.5Z"/>
<path fill="#C2C2C2" d="M180 934.2H216.9V956.2H180Z"/>
<path fill="#A2A2A2" d="M216.6 934.2H239.8V956.2H216.6Z"/>
<path fill="#AAAAAA" d="M239.5 934.2H259.9V956.2H239.5Z"/>
<path fill="#454545" d="M259.6 934.2H293.6V956.2H259.6Z"/>
<path fill="#6B6B6B" d="M293.3 934.2H310.8V956.2H293.3Z"/>
<path fill="#4B4B4B" d="M310.5 934.2H338.2V956.2H310.5ZM337.9 934.2H387.4V956.2H337.9Z"/>
<path fill="#797979" d="M387.1 934.2H429.8V956.2H387.1Z"/>
<path fill="#606060" d="M429.5 934.2H454.9V956.2H429.5ZM454.6 934.2H488.1V956.2H454.6ZM487.8 934.2H507.6V956.2H487.8Z"/>
<path fill="#858585" d="M507.3 934.2H532.8V956.2H507.3ZM532.5 934.2H564.8V956.2H532.5Z"/>
<path fill="#969696" d="M180 955.9H216.9V976.6H180Z"/>
<path fill="#9C9C9C" d="M216.6 955.9H239.8V976.6H216.6Z"/>
<path fill="#969696" d="M239.5 955.9H259.9V976.6H239.5Z"/>
<path fill="#676767" d="M259.6 955.9H293.6V976.6H259.6Z"/>
<path fill="#797979" d="M293.3 955.9H310.8V976.6H293.3Z"/>
<path fill="#606060" d="M310.5 955.9H338.2V976.6H310.5Z"/>
<path fill="#6B6B6B" d="M337.9 955.9H387.4V976.6H337.9Z"/>
<path fill="#898989" d="M387.1 955.9H429.8V976.6H387.1Z"/>
<path fill="#757575" d="M429.5 955.9H454.9V976.6H429.5ZM454.6 955.9H488.1V976.6H454.6Z"/>
<path fill="#676767" d="M487.8 955.9H507.6V976.6H487.8Z"/>
<path fill="#8F8F8F" d="M507.3 955.9H532.8V976.6H507.3Z"/>
<path fill="#858585" d="M532.5 955.9H564.8V976.6H532.5Z"/>
<path fill="#D6D6D6" d="M468.4 871.9H487V876.4H468.4Z"/>
<path fill="#929292" d="M564.6 793.4H590.1V820.1H564.6Z"/>
<path fill="#A1A1A1" d="M589.8 793.4H670.2V820.1H589.8Z"/>
<path fill="#9B9B9B" d="M669.9 793.4H715.9V820.1H669.9Z"/>
<path fill="#797979" d="M715.6 793.4H741.1V820.1H715.6Z"/>
<path fill="#A1A1A1" d="M740.8 793.4H796V820.1H740.8Z"/>
<path fill="#9E9E9E" d="M795.7 793.4H813.2V820.1H795.7Z"/>
<path fill="#AAAAAA" d="M812.9 793.4H838.6V820.1H812.9Z"/>
<path fill="#535353" d="M838.3 793.4H855.5V820.1H838.3Z"/>
<path fill="#595959" d="M855.2 793.4H891V820.1H855.2Z"/>
<path fill="#424242" d="M890.7 793.4H931.1V820.1H890.7Z"/>
<path fill="#606060" d="M930.8 793.4H950.3V820.1H930.8Z"/>
<path fill="#808080" d="M564.6 819.8H590.1V841.8H564.6Z"/>
<path fill="#878787" d="M589.8 819.8H670.2V841.8H589.8Z"/>
<path fill="#757575" d="M669.9 819.8H715.9V841.8H669.9Z"/>
<path fill="#606060" d="M715.6 819.8H741.1V841.8H715.6Z"/>
<path fill="#797979" d="M740.8 819.8H796V841.8H740.8Z"/>
<path fill="#757575" d="M795.7 819.8H813.2V841.8H795.7Z"/>
<path fill="#9B9B9B" d="M812.9 819.8H838.6V841.8H812.9Z"/>
<path fill="#4A4A4A" d="M838.3 819.8H855.5V841.8H838.3Z"/>
<path fill="#4E4E4E" d="M855.2 819.8H891V841.8H855.2Z"/>
<path fill="#424242" d="M890.7 819.8H931.1V841.8H890.7Z"/>
<path fill="#4A4A4A" d="M930.8 819.8H950.3V841.8H930.8Z"/>
<path fill="#A1A1A1" d="M564.6 841.5H590.1V853.2H564.6Z"/>
<path fill="#ADADAD" d="M589.8 841.5H670.2V853.2H589.8Z"/>
<path fill="#A6A6A6" d="M669.9 841.5H715.9V853.2H669.9Z"/>
<path fill="#A1A1A1" d="M715.6 841.5H741.1V853.2H715.6Z"/>
<path fill="#AAAAAA" d="M740.8 841.5H796V853.2H740.8Z"/>
<path fill="#9B9B9B" d="M795.7 841.5H813.2V853.2H795.7Z"/>
<path fill="#AAAAAA" d="M812.9 841.5H838.6V853.2H812.9Z"/>
<path fill="#4A4A4A" d="M838.3 841.5H855.5V853.2H838.3Z"/>
<path fill="#535353" d="M855.2 841.5H891V853.2H855.2Z"/>
<path fill="#4E4E4E" d="M890.7 841.5H931.1V853.2H890.7Z"/>
<path fill="#656565" d="M930.8 841.5H950.3V853.2H930.8Z"/>
<path fill="#8F8F8F" d="M564.6 852.9H590.1V870.4H564.6Z"/>
<path fill="#9B9B9B" d="M589.8 852.9H670.2V870.4H589.8Z"/>
<path fill="#969696" d="M669.9 852.9H715.9V870.4H669.9Z"/>
<path fill="#8F8F8F" d="M715.6 852.9H741.1V870.4H715.6Z"/>
<path fill="#929292" d="M740.8 852.9H796V870.4H740.8ZM795.7 852.9H813.2V870.4H795.7Z"/>
<path fill="#A1A1A1" d="M812.9 852.9H838.6V870.4H812.9Z"/>
<path fill="#717171" d="M838.3 852.9H855.5V870.4H838.3Z"/>
<path fill="#777777" d="M855.2 852.9H891V870.4H855.2Z"/>
<path fill="#5C5C5C" d="M890.7 852.9H931.1V870.4H890.7Z"/>
<path fill="#717171" d="M930.8 852.9H950.3V870.4H930.8Z"/>
<path fill="#969696" d="M564.6 870.1H590.1V891H564.6Z"/>
<path fill="#A6A6A6" d="M589.8 870.1H670.2V891H589.8Z"/>
<path fill="#A1A1A1" d="M669.9 870.1H715.9V891H669.9Z"/>
<path fill="#8F8F8F" d="M715.6 870.1H741.1V891H715.6Z"/>
<path fill="#8C8C8C" d="M740.8 870.1H796V891H740.8Z"/>
<path fill="#8F8F8F" d="M795.7 870.1H813.2V891H795.7Z"/>
<path fill="#A1A1A1" d="M812.9 870.1H838.6V891H812.9Z"/>
<path fill="#C1C1C1" d="M838.3 870.1H855.5V891H838.3Z"/>
<path fill="#BCBCBC" d="M855.2 870.1H891V891H855.2Z"/>
<path fill="#6A6A6A" d="M890.7 870.1H931.1V891H890.7Z"/>
<path fill="#858585" d="M930.8 870.1H950.3V891H930.8Z"/>
<path fill="#878787" d="M564.6 890.7H590.1V900.2H564.6Z"/>
<path fill="#8C8C8C" d="M589.8 890.7H670.2V900.2H589.8Z"/>
<path fill="#878787" d="M669.9 890.7H715.9V900.2H669.9Z"/>
<path fill="#848484" d="M715.6 890.7H741.1V900.2H715.6ZM740.8 890.7H796V900.2H740.8Z"/>
<path fill="#757575" d="M795.7 890.7H813.2V900.2H795.7Z"/>
<path fill="#8F8F8F" d="M812.9 890.7H838.6V900.2H812.9Z"/>
<path fill="#888888" d="M838.3 890.7H855.5V900.2H838.3Z"/>
<path fill="#8D8D8D" d="M855.2 890.7H891V900.2H855.2Z"/>
<path fill="#777777" d="M890.7 890.7H931.1V900.2H890.7Z"/>
<path fill="#888888" d="M930.8 890.7H950.3V900.2H930.8Z"/>
<path fill="#A1A1A1" d="M564.6 899.9H590.1V919.6H564.6Z"/>
<path fill="#ADADAD" d="M589.8 899.9H670.2V919.6H589.8ZM669.9 899.9H715.9V919.6H669.9Z"/>
<path fill="#969696" d="M715.6 899.9H741.1V919.6H715.6ZM740.8 899.9H796V919.6H740.8Z"/>
<path fill="#757575" d="M795.7 899.9H813.2V919.6H795.7Z"/>
<path fill="#A6A6A6" d="M812.9 899.9H838.6V919.6H812.9Z"/>
<path fill="#888888" d="M838.3 899.9H855.5V919.6H838.3Z"/>
<path fill="#949494" d="M855.2 899.9H891V919.6H855.2Z"/>
<path fill="#858585" d="M890.7 899.9H931.1V919.6H890.7Z"/>
<path fill="#8D8D8D" d="M930.8 899.9H950.3V919.6H930.8Z"/>
<path fill="#A6A6A6" d="M564.6 919.3H590.1V934.5H564.6Z"/>
<path fill="#B2B2B2" d="M589.8 919.3H670.2V934.5H589.8Z"/>
<path fill="#BABABA" d="M669.9 919.3H715.9V934.5H669.9Z"/>
<path fill="#A6A6A6" d="M715.6 919.3H741.1V934.5H715.6ZM740.8 919.3H796V934.5H740.8Z"/>
<path fill="#929292" d="M795.7 919.3H813.2V934.5H795.7Z"/>
<path fill="#9B9B9B" d="M812.9 919.3H838.6V934.5H812.9Z"/>
<path fill="#ABABAB" d="M838.3 919.3H855.5V934.5H838.3Z"/>
<path fill="#B0B0B0" d="M855.2 919.3H891V934.5H855.2Z"/>
<path fill="#999999" d="M890.7 919.3H931.1V934.5H890.7Z"/>
<path fill="#ABABAB" d="M930.8 919.3H950.3V934.5H930.8Z"/>
<path fill="#8F8F8F" d="M564.6 934.2H590.1V956.2H564.6Z"/>
<path fill="#A6A6A6" d="M589.8 934.2H670.2V956.2H589.8Z"/>
<path fill="#AAAAAA" d="M669.9 934.2H715.9V956.2H669.9Z"/>
<path fill="#969696" d="M715.6 934.2H741.1V956.2H715.6Z"/>
<path fill="#8F8F8F" d="M740.8 934.2H796V956.2H740.8Z"/>
<path fill="#8C8C8C" d="M795.7 934.2H813.2V956.2H795.7Z"/>
<path fill="#929292" d="M812.9 934.2H838.6V956.2H812.9Z"/>
<path fill="#777777" d="M838.3 934.2H855.5V956.2H838.3Z"/>
<path fill="#7A7A7A" d="M855.2 934.2H891V956.2H855.2Z"/>
<path fill="#717171" d="M890.7 934.2H931.1V956.2H890.7Z"/>
<path fill="#8D8D8D" d="M930.8 934.2H950.3V956.2H930.8Z"/>
<path fill="#9B9B9B" d="M564.6 955.9H590.1V976.6H564.6Z"/>
<path fill="#A1A1A1" d="M589.8 955.9H670.2V976.6H589.8Z"/>
<path fill="#A6A6A6" d="M669.9 955.9H715.9V976.6H669.9Z"/>
<path fill="#9B9B9B" d="M715.6 955.9H741.1V976.6H715.6Z"/>
<path fill="#9E9E9E" d="M740.8 955.9H796V976.6H740.8Z"/>
<path fill="#929292" d="M795.7 955.9H813.2V976.6H795.7Z"/>
<path fill="#9B9B9B" d="M812.9 955.9H838.6V976.6H812.9Z"/>
<path fill="#858585" d="M838.3 955.9H855.5V976.6H838.3ZM855.2 955.9H891V976.6H855.2Z"/>
<path fill="#808080" d="M890.7 955.9H931.1V976.6H890.7Z"/>
<path fill="#999999" d="M930.8 955.9H950.3V976.6H930.8Z"/>
<path fill="#777777" d="M940 793.4H951.7V820.1H940Z"/>
<path fill="#656565" d="M951.4 793.4H974.6V820.1H951.4Z"/>
<path fill="#919191" d="M974.3 793.4H1009V820.1H974.3Z"/>
<path fill="#535353" d="M1008.7 793.4H1050.2V820.1H1008.7Z"/>
<path fill="#6E6E6E" d="M1049.9 793.4H1063.9V820.1H1049.9Z"/>
<path fill="#4E4E4E" d="M1063.6 793.4H1097.8V820.1H1063.6Z"/>
<path fill="#969696" d="M1097.5 793.4H1150.9V820.1H1097.5Z"/>
<path fill="#8F8F8F" d="M1150.6 793.4H1208.1V820.1H1150.6Z"/>
<path fill="#969696" d="M1207.8 793.4H1235.5V820.1H1207.8Z"/>
<path fill="#8C8C8C" d="M1235.2 793.4H1265.3V820.1H1235.2Z"/>
<path fill="#8F8F8F" d="M1265 793.4H1283.6V820.1H1265Z"/>
<path fill="#ADADAD" d="M1283.3 793.4H1330.3V820.1H1283.3Z"/>
<path fill="#6A6A6A" d="M940 819.8H951.7V841.8H940Z"/>
<path fill="#606060" d="M951.4 819.8H974.6V841.8H951.4Z"/>
<path fill="#6A6A6A" d="M974.3 819.8H1009V841.8H974.3Z"/>
<path fill="#474747" d="M1008.7 819.8H1050.2V841.8H1008.7Z"/>
<path fill="#595959" d="M1049.9 819.8H1063.9V841.8H1049.9Z"/>
<path fill="#6A6A6A" d="M1063.6 819.8H1097.8V841.8H1063.6Z"/>
<path fill="#9E9E9E" d="M1097.5 819.8H1150.9V841.8H1097.5Z"/>
<path fill="#929292" d="M1150.6 819.8H1208.1V841.8H1150.6Z"/>
<path fill="#A1A1A1" d="M1207.8 819.8H1235.5V841.8H1207.8Z"/>
<path fill="#8C8C8C" d="M1235.2 819.8H1265.3V841.8H1235.2Z"/>
<path fill="#9B9B9B" d="M1265 819.8H1283.6V841.8H1265Z"/>
<path fill="#ADADAD" d="M1283.3 819.8H1330.3V841.8H1283.3Z"/>
<path fill="#777777" d="M940 841.5H951.7V853.2H940Z"/>
<path fill="#6A6A6A" d="M951.4 841.5H974.6V853.2H951.4Z"/>
<path fill="#888888" d="M974.3 841.5H1009V853.2H974.3Z"/>
<path fill="#717171" d="M1008.7 841.5H1050.2V853.2H1008.7Z"/>
<path fill="#777777" d="M1049.9 841.5H1063.9V853.2H1049.9Z"/>
<path fill="#7A7A7A" d="M1063.6 841.5H1097.8V853.2H1063.6Z"/>
<path fill="#AAAAAA" d="M1097.5 841.5H1150.9V853.2H1097.5Z"/>
<path fill="#9B9B9B" d="M1150.6 841.5H1208.1V853.2H1150.6Z"/>
<path fill="#9E9E9E" d="M1207.8 841.5H1235.5V853.2H1207.8Z"/>
<path fill="#8F8F8F" d="M1235.2 841.5H1265.3V853.2H1235.2Z"/>
<path fill="#A1A1A1" d="M1265 841.5H1283.6V853.2H1265Z"/>
<path fill="#B5B5B5" d="M1283.3 841.5H1330.3V853.2H1283.3Z"/>
<path fill="#858585" d="M940 852.9H951.7V870.4H940ZM951.4 852.9H974.6V870.4H951.4Z"/>
<path fill="#8D8D8D" d="M974.3 852.9H1009V870.4H974.3Z"/>
<path fill="#7A7A7A" d="M1008.7 852.9H1050.2V870.4H1008.7Z"/>
<path fill="#8D8D8D" d="M1049.9 852.9H1063.9V870.4H1049.9Z"/>
<path fill="#858585" d="M1063.6 852.9H1097.8V870.4H1063.6Z"/>
<path fill="#9B9B9B" d="M1097.5 852.9H1150.9V870.4H1097.5Z"/>
<path fill="#8F8F8F" d="M1150.6 852.9H1208.1V870.4H1150.6Z"/>
<path fill="#969696" d="M1207.8 852.9H1235.5V870.4H1207.8Z"/>
<path fill="#878787" d="M1235.2 852.9H1265.3V870.4H1235.2Z"/>
<path fill="#929292" d="M1265 852.9H1283.6V870.4H1265Z"/>
<path fill="#A6A6A6" d="M1283.3 852.9H1330.3V870.4H1283.3Z"/>
<path fill="#888888" d="M940 870.1H951.7V891H940Z"/>
<path fill="#8D8D8D" d="M951.4 870.1H974.6V891H951.4Z"/>
<path fill="#919191" d="M974.3 870.1H1009V891H974.3Z"/>
<path fill="#808080" d="M1008.7 870.1H1050.2V891H1008.7Z"/>
<path fill="#7A7A7A" d="M1049.9 870.1H1063.9V891H1049.9Z"/>
<path fill="#656565" d="M1063.6 870.1H1097.8V891H1063.6Z"/>
<path fill="#A6A6A6" d="M1097.5 870.1H1150.9V891H1097.5Z"/>
<path fill="#929292" d="M1150.6 870.1H1208.1V891H1150.6Z"/>
<path fill="#8C8C8C" d="M1207.8 870.1H1235.5V891H1207.8Z"/>
<path fill="#797979" d="M1235.2 870.1H1265.3V891H1235.2Z"/>
<path fill="#8F8F8F" d="M1265 870.1H1283.6V891H1265Z"/>
<path fill="#AAAAAA" d="M1283.3 870.1H1330.3V891H1283.3Z"/>
<path fill="#858585" d="M940 890.7H951.7V900.2H940Z"/>
<path fill="#888888" d="M951.4 890.7H974.6V900.2H951.4Z"/>
<path fill="#8D8D8D" d="M974.3 890.7H1009V900.2H974.3Z"/>
<path fill="#888888" d="M1008.7 890.7H1050.2V900.2H1008.7Z"/>
<path fill="#919191" d="M1049.9 890.7H1063.9V900.2H1049.9Z"/>
<path fill="#949494" d="M1063.6 890.7H1097.8V900.2H1063.6Z"/>
<path fill="#848484" d="M1097.5 890.7H1150.9V900.2H1097.5Z"/>
<path fill="#808080" d="M1150.6 890.7H1208.1V900.2H1150.6Z"/>
<path fill="#797979" d="M1207.8 890.7H1235.5V900.2H1207.8Z"/>
<path fill="#757575" d="M1235.2 890.7H1265.3V900.2H1235.2Z"/>
<path fill="#878787" d="M1265 890.7H1283.6V900.2H1265Z"/>
<path fill="#969696" d="M1283.3 890.7H1330.3V900.2H1283.3Z"/>
<path fill="#888888" d="M940 899.9H951.7V911.6H940Z"/>
<path fill="#B0B0B0" d="M951.4 899.9H974.6V911.6H951.4Z"/>
<path fill="#949494" d="M974.3 899.9H1009V911.6H974.3Z"/>
<path fill="#888888" d="M1008.7 899.9H1050.2V911.6H1008.7Z"/>
<path fill="#717171" d="M1049.9 899.9H1063.9V911.6H1049.9Z"/>
<path fill="#B3B3B3" d="M1063.6 899.9H1097.8V911.6H1063.6Z"/>
<path fill="#878787" d="M1097.5 899.9H1150.9V911.6H1097.5Z"/>
<path fill="#797979" d="M1150.6 899.9H1208.1V911.6H1150.6Z"/>
<path fill="#757575" d="M1207.8 899.9H1235.5V911.6H1207.8Z"/>
<path fill="#808080" d="M1235.2 899.9H1265.3V911.6H1235.2Z"/>
<path fill="#AAAAAA" d="M1265 899.9H1283.6V911.6H1265Z"/>
<path fill="#ADADAD" d="M1283.3 899.9H1330.3V911.6H1283.3Z"/>
<path fill="#888888" d="M940 911.3H951.7V919.6H940Z"/>
<path fill="#919191" d="M951.4 911.3H974.6V919.6H951.4Z"/>
<path fill="#888888" d="M974.3 911.3H1009V919.6H974.3Z"/>
<path fill="#858585" d="M1008.7 911.3H1050.2V919.6H1008.7Z"/>
<path fill="#717171" d="M1049.9 911.3H1063.9V919.6H1049.9Z"/>
<path fill="#808080" d="M1063.6 911.3H1097.8V919.6H1063.6Z"/>
<path fill="#878787" d="M1097.5 911.3H1150.9V919.6H1097.5Z"/>
<path fill="#797979" d="M1150.6 911.3H1208.1V919.6H1150.6ZM1207.8 911.3H1235.5V919.6H1207.8Z"/>
<path fill="#808080" d="M1235.2 911.3H1265.3V919.6H1235.2Z"/>
<path fill="#8F8F8F" d="M1265 911.3H1283.6V919.6H1265Z"/>
<path fill="#969696" d="M1283.3 911.3H1330.3V919.6H1283.3Z"/>
<path fill="#A5A5A5" d="M940 919.3H951.7V934.5H940Z"/>
<path fill="#ABABAB" d="M951.4 919.3H974.6V934.5H951.4Z"/>
<path fill="#B3B3B3" d="M974.3 919.3H1009V934.5H974.3Z"/>
<path fill="#B0B0B0" d="M1008.7 919.3H1050.2V934.5H1008.7Z"/>
<path fill="#858585" d="M1049.9 919.3H1063.9V934.5H1049.9Z"/>
<path fill="#777777" d="M1063.6 919.3H1097.8V934.5H1063.6Z"/>
<path fill="#8F8F8F" d="M1097.5 919.3H1150.9V934.5H1097.5Z"/>
<path fill="#797979" d="M1150.6 919.3H1208.1V934.5H1150.6Z"/>
<path fill="#6B6B6B" d="M1207.8 919.3H1235.5V934.5H1207.8Z"/>
<path fill="#757575" d="M1235.2 919.3H1265.3V934.5H1235.2Z"/>
<path fill="#929292" d="M1265 919.3H1283.6V934.5H1265Z"/>
<path fill="#9B9B9B" d="M1283.3 919.3H1330.3V934.5H1283.3Z"/>
<path fill="#8D8D8D" d="M940 934.2H951.7V956.2H940Z"/>
<path fill="#888888" d="M951.4 934.2H974.6V956.2H951.4Z"/>
<path fill="#949494" d="M974.3 934.2H1009V956.2H974.3Z"/>
<path fill="#919191" d="M1008.7 934.2H1050.2V956.2H1008.7Z"/>
<path fill="#595959" d="M1049.9 934.2H1063.9V956.2H1049.9Z"/>
<path fill="#656565" d="M1063.6 934.2H1097.8V956.2H1063.6Z"/>
<path fill="#8C8C8C" d="M1097.5 934.2H1150.9V956.2H1097.5Z"/>
<path fill="#797979" d="M1150.6 934.2H1208.1V956.2H1150.6Z"/>
<path fill="#5A5A5A" d="M1207.8 934.2H1235.5V956.2H1207.8Z"/>
<path fill="#757575" d="M1235.2 934.2H1265.3V956.2H1235.2Z"/>
<path fill="#929292" d="M1265 934.2H1283.6V956.2H1265Z"/>
<path fill="#9B9B9B" d="M1283.3 934.2H1330.3V956.2H1283.3Z"/>
<path fill="#A5A5A5" d="M940 955.9H951.7V976.6H940Z"/>
<path fill="#888888" d="M951.4 955.9H974.6V976.6H951.4Z"/>
<path fill="#B0B0B0" d="M974.3 955.9H1009V976.6H974.3Z"/>
<path fill="#A2A2A2" d="M1008.7 955.9H1050.2V976.6H1008.7Z"/>
<path fill="#7A7A7A" d="M1049.9 955.9H1063.9V976.6H1049.9Z"/>
<path fill="#808080" d="M1063.6 955.9H1097.8V976.6H1063.6Z"/>
<path fill="#8C8C8C" d="M1097.5 955.9H1150.9V976.6H1097.5Z"/>
<path fill="#797979" d="M1150.6 955.9H1208.1V976.6H1150.6Z"/>
<path fill="#4B4B4B" d="M1207.8 955.9H1235.5V976.6H1207.8Z"/>
<path fill="#878787" d="M1235.2 955.9H1265.3V976.6H1235.2Z"/>
<path fill="#969696" d="M1265 955.9H1283.6V976.6H1265Z"/>
<path fill="#9B9B9B" d="M1283.3 955.9H1330.3V976.6H1283.3Z"/>
<path fill="#A6A6A6" d="M1320 792.7H1345.9V810.5H1320Z"/>
<path fill="#AAAAAA" d="M1345.6 792.7H1355.4V810.5H1345.6Z"/>
<path fill="#ADADAD" d="M1355.1 792.7H1385.1V810.5H1355.1Z"/>
<path fill="#A1A1A1" d="M1384.8 792.7H1449.9V810.5H1384.8Z"/>
<path fill="#A6A6A6" d="M1449.6 792.7H1529.5V810.5H1449.6Z"/>
<path fill="#A1A1A1" d="M1320 810.2H1345.9V830.8H1320Z"/>
<path fill="#9E9E9E" d="M1345.6 810.2H1355.4V830.8H1345.6Z"/>
<path fill="#A1A1A1" d="M1355.1 810.2H1385.1V830.8H1355.1Z"/>
<path fill="#9E9E9E" d="M1384.8 810.2H1449.9V830.8H1384.8Z"/>
<path fill="#A1A1A1" d="M1449.6 810.2H1529.5V830.8H1449.6Z"/>
<path fill="#ADADAD" d="M1320 830.5H1345.9V837.5H1320Z"/>
<path fill="#B5B5B5" d="M1345.6 830.5H1355.4V837.5H1345.6ZM1355.1 830.5H1385.1V837.5H1355.1Z"/>
<path fill="#ADADAD" d="M1384.8 830.5H1449.9V837.5H1384.8ZM1449.6 830.5H1529.5V837.5H1449.6Z"/>
<path fill="#A6A6A6" d="M1320 837.2H1345.9V890.2H1320Z"/>
<path fill="#969696" d="M1345.6 837.2H1355.4V890.2H1345.6Z"/>
<path fill="#A1A1A1" d="M1355.1 837.2H1385.1V890.2H1355.1ZM1384.8 837.2H1449.9V890.2H1384.8Z"/>
<path fill="#A6A6A6" d="M1449.6 837.2H1529.5V890.2H1449.6Z"/>
<path fill="#929292" d="M1320 889.9H1345.9V919.9H1320Z"/>
<path fill="#8F8F8F" d="M1345.6 889.9H1355.4V919.9H1345.6Z"/>
<path fill="#8C8C8C" d="M1355.1 889.9H1385.1V919.9H1355.1Z"/>
<path fill="#848484" d="M1384.8 889.9H1449.9V919.9H1384.8ZM1449.6 889.9H1529.5V919.9H1449.6Z"/>
<path fill="#929292" d="M1320 919.6H1345.9V941.5H1320Z"/>
<path fill="#797979" d="M1345.6 919.6H1355.4V941.5H1345.6Z"/>
<path fill="#878787" d="M1355.1 919.6H1385.1V941.5H1355.1Z"/>
<path fill="#808080" d="M1384.8 919.6H1449.9V941.5H1384.8Z"/>
<path fill="#878787" d="M1449.6 919.6H1529.5V941.5H1449.6Z"/>
<path fill="#8F8F8F" d="M1320 941.2H1345.9V955H1320Z"/>
<path fill="#848484" d="M1345.6 941.2H1355.4V955H1345.6ZM1355.1 941.2H1385.1V955H1355.1Z"/>
<path fill="#797979" d="M1384.8 941.2H1449.9V955H1384.8Z"/>
<path fill="#848484" d="M1449.6 941.2H1529.5V955H1449.6Z"/>
<path fill="#969696" d="M1320 954.7H1345.9V976.6H1320Z"/>
<path fill="#878787" d="M1345.6 954.7H1355.4V976.6H1345.6Z"/>
<path fill="#797979" d="M1355.1 954.7H1385.1V976.6H1355.1ZM1384.8 954.7H1449.9V976.6H1384.8Z"/>
<path fill="#848484" d="M1449.6 954.7H1529.5V976.6H1449.6Z"/>
<path fill="#757575" d="M1384.8 889.9H1529.5V898.3H1384.8Z"/>
<path fill="#BFBFBF" d="M1529.2 792.7H1545.7V820H1529.2Z"/>
<path fill="#AFAFAF" d="M1545.4 792.7H1640.2V820H1545.4Z"/>
<path fill="#909090" d="M1639.9 792.7H1698.2V820H1639.9Z"/>
<path fill="#AFAFAF" d="M1697.9 792.7H1741.4V820H1697.9Z"/>
<path fill="#B2B2B2" d="M1741.1 792.7H1776.3V820H1741.1Z"/>
<path fill="#BABABA" d="M1529.2 819.7H1545.7V847H1529.2Z"/>
<path fill="#949494" d="M1545.4 819.7H1640.2V847H1545.4Z"/>
<path fill="#797979" d="M1639.9 819.7H1698.2V847H1639.9Z"/>
<path fill="#999999" d="M1697.9 819.7H1741.4V847H1697.9ZM1741.1 819.7H1776.3V847H1741.1Z"/>
<path fill="#CBCBCB" d="M1529.2 846.7H1545.7V860.5H1529.2Z"/>
<path fill="#B2B2B2" d="M1545.4 846.7H1640.2V860.5H1545.4Z"/>
<path fill="#909090" d="M1639.9 846.7H1698.2V860.5H1639.9Z"/>
<path fill="#B2B2B2" d="M1697.9 846.7H1741.4V860.5H1697.9Z"/>
<path fill="#AFAFAF" d="M1741.1 846.7H1776.3V860.5H1741.1Z"/>
<path fill="#B2B2B2" d="M1529.2 860.2H1545.7V890.2H1529.2Z"/>
<path fill="#AAAAAA" d="M1545.4 860.2H1640.2V890.2H1545.4Z"/>
<path fill="#949494" d="M1639.9 860.2H1698.2V890.2H1639.9Z"/>
<path fill="#AAAAAA" d="M1697.9 860.2H1741.4V890.2H1697.9ZM1741.1 860.2H1776.3V890.2H1741.1Z"/>
<path fill="#A1A1A1" d="M1529.2 889.9H1545.7V898.3H1529.2Z"/>
<path fill="#949494" d="M1545.4 889.9H1640.2V898.3H1545.4Z"/>
<path fill="#888888" d="M1639.9 889.9H1698.2V898.3H1639.9Z"/>
<path fill="#8D8D8D" d="M1697.9 889.9H1741.4V898.3H1697.9Z"/>
<path fill="#909090" d="M1741.1 889.9H1776.3V898.3H1741.1Z"/>
<path fill="#C3C3C3" d="M1529.2 898H1545.7V917.2H1529.2Z"/>
<path fill="#BABABA" d="M1545.4 898H1640.2V917.2H1545.4Z"/>
<path fill="#AFAFAF" d="M1639.9 898H1698.2V917.2H1639.9ZM1697.9 898H1741.4V917.2H1697.9Z"/>
<path fill="#B2B2B2" d="M1741.1 898H1776.3V917.2H1741.1ZM1529.2 916.9H1545.7V952.3H1529.2Z"/>
<path fill="#B5B5B5" d="M1545.4 916.9H1640.2V952.3H1545.4Z"/>
<path fill="#AAAAAA" d="M1639.9 916.9H1698.2V952.3H1639.9Z"/>
<path fill="#B2B2B2" d="M1697.9 916.9H1741.4V952.3H1697.9Z"/>
<path fill="#AAAAAA" d="M1741.1 916.9H1776.3V952.3H1741.1ZM1529.2 952H1545.7V976.6H1529.2Z"/>
<path fill="#AFAFAF" d="M1545.4 952H1640.2V976.6H1545.4Z"/>
<path fill="#9E9E9E" d="M1639.9 952H1698.2V976.6H1639.9Z"/>
<path fill="#A5A5A5" d="M1697.9 952H1741.4V976.6H1697.9ZM1741.1 952H1776.3V976.6H1741.1Z"/>
</g>
<path fill="#808080" fill-opacity="0.06" d="M259 240.4h302.7v3h-302.7zM841 240.4h253.3v3h-253.3zM185 835.4h68.3v1.4h-68.3zM1532 960.8h239v1.4h-239z"/>
<path fill="#808080" fill-opacity="0.08" d="M185 182.7h68.3v3.6h-68.3zM1100 182.7h427.2v3.6h-427.2zM185 240.4h68.3v3h-68.3zM566.8 314.2h268.7v2.8h-268.7zM1100 485.1h427.2v1.4h-427.2zM841 575.3h253.3v1.4h-253.3zM1100 835.4h427.2v1.4h-427.2zM566.8 849.1h268.7v3h-268.7z"/>
<path fill="#808080" fill-opacity="0.1" d="M692.8 495h1v42h-1zM793.6 123h4v195h-4zM793.6 324h4v165.4h-4zM1268.6 794.7h3v176.6h-3zM1463 324h4v165.4h-4zM1688 495h1.8v42h-1.8zM259 149.9h302.7v4.5h-302.7zM841 157.8h253.3v2h-253.3zM259 182.7h302.7v3.6h-302.7zM185 218.8h68.3v3h-68.3zM1100 218.8h427.2v3h-427.2zM259 229.6h302.7v2.4h-302.7zM1532 229.6h239v2.4h-239zM566.8 240.4h268.7v3h-268.7zM1100 279.2h427.2v3h-427.2zM1100 388h427.2v2h-427.2zM566.8 408h268.7v3h-268.7zM841 485.1h253.3v1.4h-253.3zM185 496h68.3v4.5h-68.3zM185 516.6h68.3v2.4h-68.3zM566.8 575.3h268.7v1.4h-268.7zM1532 575.3h239v1.4h-239zM185 718.2h68.3v3.6h-68.3zM841 718.2h253.3v3.6h-253.3zM841 746h253.3v3h-253.3zM1100 759.2h427.2v2.4h-427.2zM566.8 802.2h268.7v3.6h-268.7zM259 835.4h302.7v1.4h-302.7zM841 849.1h253.3v3h-253.3zM1100 849.1h427.2v3h-427.2z"/>
<path fill="#808080" fill-opacity="0.12" d="M188 123h1.4v195h-1.4zM385 542.5h2.4v246.5h-2.4zM451.6 324h4v165.4h-4zM451.6 495h4v42h-4zM467.8 123h2v195h-2zM467.8 542.5h2v246.5h-2zM592 495h1.4v42h-1.4zM593.4 542.5h2.4v246.5h-2.4zM593.4 794.7h2.4v176.6h-2.4zM692.8 324h1v165.4h-1zM692.8 542.5h1v246.5h-1zM731 123h2v195h-2zM810 495h2.4v42h-2.4zM1109.4 794.7h2v176.6h-2zM1243 495h2v42h-2zM1268.6 542.5h3v246.5h-3zM1420.2 324h2v165.4h-2zM1576.8 495h1v42h-1zM1605 794.7h1.8v176.6h-1.8zM1688 794.7h1.8v176.6h-1.8zM1689.8 495h1.8v42h-1.8zM1689.8 542.5h1.8v246.5h-1.8zM1100 128.4h427.2v3h-427.2zM566.8 229.6h268.7v2.4h-268.7zM1532 240.4h239v3h-239zM1532 279.2h239v3h-239zM259 288.2h302.7v1.4h-302.7zM185 314.2h68.3v2.8h-68.3zM259 314.2h302.7v2.8h-302.7zM1532 314.2h239v2.8h-239zM566.8 388h268.7v2h-268.7zM1532 388h239v2h-239zM566.8 433.9h268.7v3h-268.7zM1532 436.9h239v3h-239zM259 485.1h302.7v1.4h-302.7zM259 496h302.7v4.5h-302.7zM1100 504.1h427.2v3h-427.2zM185 568.9h68.3v3h-68.3zM185 665.2h68.3v2h-68.3zM1532 665.2h239v2h-239zM566.8 683.2h268.7v2.4h-268.7zM841 688.6h253.3v2.4h-253.3zM1532 688.6h239v2.4h-239zM185 693.4h68.3v1.4h-68.3zM1532 693.4h239v1.4h-239zM1100 743h427.2v3h-427.2zM185 759.2h68.3v2.4h-68.3zM185 802.2h68.3v3.6h-68.3zM259 802.2h302.7v3.6h-302.7zM1532 802.2h239v3.6h-239zM1532 835.4h239v1.4h-239zM185 960.8h68.3v1.4h-68.3zM566.8 960.8h268.7v1.4h-268.7zM841 960.8h253.3v1.4h-253.3zM1100 960.8h427.2v1.4h-427.2z"/>
<path fill="#808080" fill-opacity="0.14" d="M188 542.5h1.4v246.5h-1.4zM287.4 123h1.8v195h-1.8zM287.4 495h1.8v42h-1.8zM298.4 324h2v165.4h-2zM298.4 794.7h2v176.6h-2zM592 542.5h1.4v246.5h-1.4zM593.4 324h2.4v165.4h-2.4zM726 123h1v195h-1zM726 542.5h1v246.5h-1zM731 324h2v165.4h-2zM731 794.7h2v176.6h-2zM793.6 542.5h4v246.5h-4zM810 794.7h2.4v176.6h-2.4zM843 495h1.8v42h-1.8zM931.8 123h1v195h-1zM931.8 542.5h1v246.5h-1zM1072.4 324h3v165.4h-3zM1268.6 123h3v195h-3zM1268.6 324h3v165.4h-3zM1472 794.7h4v176.6h-4zM1576.8 542.5h1v246.5h-1zM1605 123h1.8v195h-1.8zM1605 495h1.8v42h-1.8zM1703.4 123h2v195h-2zM1703.4 495h2v42h-2zM1705.4 542.5h1.4v246.5h-1.4zM1759 324h4v165.4h-4zM259 128.4h302.7v3h-302.7zM1532 128.4h239v3h-239zM566.8 157.8h268.7v2h-268.7zM841 167.3h253.3v4.5h-253.3zM1532 182.7h239v3.6h-239zM841 191.7h253.3v4.5h-253.3zM259 218.8h302.7v3h-302.7zM1100 271.2h427.2v3.6h-427.2zM185 288.2h68.3v1.4h-68.3zM1100 314.2h427.2v2.8h-427.2zM185 329.5h68.3v2h-68.3zM185 348h68.3v2h-68.3zM259 388h302.7v2h-302.7zM259 408h302.7v3h-302.7zM185 433.9h68.3v3h-68.3zM259 436.9h302.7v3h-302.7zM566.8 436.9h268.7v3h-268.7zM1100 436.9h427.2v3h-427.2zM841 450.4h253.3v3.6h-253.3zM185 485.1h68.3v1.4h-68.3zM841 496h253.3v4.5h-253.3zM566.8 516.6h268.7v2.4h-268.7zM566.8 568.9h268.7v3h-268.7zM1100 688.6h427.2v2.4h-427.2zM259 698.4h302.7v2.4h-302.7zM1532 718.2h239v3.6h-239zM185 746h68.3v3h-68.3zM259 746h302.7v3h-302.7zM1100 746h427.2v3h-427.2zM566.8 759.2h268.7v2.4h-268.7zM1100 802.2h427.2v3.6h-427.2zM841 835.4h253.3v1.4h-253.3zM185 849.1h68.3v3h-68.3zM259 849.1h302.7v3h-302.7zM1532 849.1h239v3h-239zM566.8 880.5h268.7v1.4h-268.7zM841 880.5h253.3v1.4h-253.3zM841 957.8h253.3v3h-253.3z"/>
<path fill="#808080" fill-opacity="0.16" d="M265.8 542.5h2v246.5h-2zM298.4 123h2v195h-2zM385 324h2.4v165.4h-2.4zM467.8 794.7h2v176.6h-2zM592 123h1.4v195h-1.4zM592 324h1.4v165.4h-1.4zM626.8 542.5h2v246.5h-2zM649.8 123h3v195h-3zM649.8 324h3v165.4h-3zM649.8 495h3v42h-3zM649.8 542.5h3v246.5h-3zM670.4 495h2v42h-2zM726 324h1v165.4h-1zM726 794.7h1v176.6h-1zM739.4 324h3v165.4h-3zM747.8 123h1v195h-1zM801.8 542.5h2.4v246.5h-2.4zM810 542.5h2.4v246.5h-2.4zM812.4 495h4v42h-4zM820.8 324h4v165.4h-4zM843 324h1.8v165.4h-1.8zM843 542.5h1.8v246.5h-1.8zM872 495h2.4v42h-2.4zM931.8 324h1v165.4h-1zM1109.4 123h2v195h-2zM1113.4 123h3v195h-3zM1168.4 123h1.8v195h-1.8zM1248.2 495h3v42h-3zM1304.2 495h3v42h-3zM1316.6 495h2v42h-2zM1385 495h3v42h-3zM1385 542.5h3v246.5h-3zM1385 794.7h3v176.6h-3zM1399 324h3v165.4h-3zM1420.2 495h2v42h-2zM1463 123h4v195h-4zM1511 542.5h3v246.5h-3zM1535 495h1v42h-1zM1605 542.5h1.8v246.5h-1.8zM1622.2 123h1.8v195h-1.8zM1688 542.5h1.8v246.5h-1.8zM1689.8 123h1.8v195h-1.8zM1703.4 542.5h2v246.5h-2zM1703.4 794.7h2v176.6h-2zM185 128.4h68.3v3h-68.3zM841 128.4h253.3v3h-253.3zM566.8 149.9h268.7v4.5h-268.7zM1532 157.8h239v2h-239zM566.8 167.3h268.7v4.5h-268.7zM841 182.7h253.3v3.6h-253.3zM841 259.9h253.3v4.5h-253.3zM259 271.2h302.7v3.6h-302.7zM259 277.2h302.7v2h-302.7zM1100 277.2h427.2v2h-427.2zM259 279.2h302.7v3h-302.7zM841 288.2h253.3v1.4h-253.3zM1100 288.2h427.2v1.4h-427.2zM1532 288.2h239v1.4h-239zM1100 348h427.2v2h-427.2zM841 367.3h253.3v1.4h-253.3zM185 390h68.3v4.5h-68.3zM566.8 419.4h268.7v2h-268.7zM841 516.6h253.3v2.4h-253.3zM1100 516.6h427.2v2.4h-427.2zM1532 516.6h239v2.4h-239zM1532 519h239v3h-239zM841 568.9h253.3v3h-253.3zM1100 579.1h427.2v2.4h-427.2zM185 698.4h68.3v2.4h-68.3zM566.8 718.2h268.7v3.6h-268.7zM185 728h68.3v2h-68.3zM259 743h302.7v3h-302.7zM841 759.2h253.3v2.4h-253.3zM566.8 868.5h268.7v3.6h-268.7zM259 880.5h302.7v1.4h-302.7zM1532 880.5h239v1.4h-239zM1100 913.4h427.2v2h-427.2z"/>
<path fill="#808080" fill-opacity="0.18" d="M188 794.7h1.4v176.6h-1.4zM265.8 123h2v195h-2zM343.4 324h2v165.4h-2zM343.4 495h2v42h-2zM366.6 123h2.4v195h-2.4zM366.6 495h2.4v42h-2.4zM366.6 542.5h2.4v246.5h-2.4zM385 123h2.4v195h-2.4zM451.6 542.5h4v246.5h-4zM451.6 794.7h4v176.6h-4zM467.8 495h2v42h-2zM692.8 123h1v195h-1zM701.8 123h2v195h-2zM719.2 794.7h1.8v176.6h-1.8zM726 495h1v42h-1zM746.4 542.5h1.4v246.5h-1.4zM750.8 794.7h4v176.6h-4zM793.6 794.7h4v176.6h-4zM801.8 123h2.4v195h-2.4zM801.8 324h2.4v165.4h-2.4zM801.8 495h2.4v42h-2.4zM863 495h1v42h-1zM868 495h4v42h-4zM1106.4 324h2v165.4h-2zM1109.4 495h2v42h-2zM1109.4 542.5h2v246.5h-2zM1243 123h2v195h-2zM1243 542.5h2v246.5h-2zM1248.2 123h3v195h-3zM1268.6 495h3v42h-3zM1289.2 324h1v165.4h-1zM1304.2 794.7h3v176.6h-3zM1347.6 123h1.8v195h-1.8zM1459 542.5h4v246.5h-4zM1463 794.7h4v176.6h-4zM1472 123h4v195h-4zM1490.8 542.5h1.8v246.5h-1.8zM1689.8 324h1.8v165.4h-1.8zM1689.8 794.7h1.8v176.6h-1.8zM1721.6 542.5h2v246.5h-2zM185 157.8h68.3v2h-68.3zM259 157.8h302.7v2h-302.7zM1532 218.8h239v3h-239zM841 229.6h253.3v2.4h-253.3zM566.8 277.2h268.7v2h-268.7zM841 277.2h253.3v2h-253.3zM1532 277.2h239v2h-239zM566.8 279.2h268.7v3h-268.7zM1532 285.8h239v2.4h-239zM566.8 288.2h268.7v1.4h-268.7zM1100 367.3h427.2v1.4h-427.2zM185 388h68.3v2h-68.3zM259 390h302.7v4.5h-302.7zM1100 408h427.2v3h-427.2zM259 433.9h302.7v3h-302.7zM1532 433.9h239v3h-239zM185 457h68.3v3h-68.3zM566.8 496h268.7v4.5h-268.7zM1532 496h239v4.5h-239zM1100 568.9h427.2v3h-427.2zM185 595.5h68.3v3h-68.3zM841 595.5h253.3v3h-253.3zM1532 595.5h239v3h-239zM841 601.5h253.3v3h-253.3zM1100 601.5h427.2v3h-427.2zM841 665.2h253.3v2h-253.3zM259 688.6h302.7v2.4h-302.7zM566.8 688.6h268.7v2.4h-268.7zM259 718.2h302.7v3.6h-302.7zM1532 728h239v2h-239zM566.8 746h268.7v3h-268.7zM259 759.2h302.7v2.4h-302.7zM185 900.3h68.3v4.5h-68.3zM841 900.3h253.3v4.5h-253.3zM1100 900.3h427.2v4.5h-427.2zM185 937h68.3v2h-68.3z"/>
<path fill="#808080" fill-opacity="0.2" d="M231.8 495h4v42h-4zM231.8 794.7h4v176.6h-4zM265.8 794.7h2v176.6h-2zM298.4 495h2v42h-2zM300.4 495h1.4v42h-1.4zM310.2 542.5h4v246.5h-4zM343.4 542.5h2v246.5h-2zM366.6 324h2.4v165.4h-2.4zM413.2 542.5h1.4v246.5h-1.4zM450.2 794.7h1.4v176.6h-1.4zM515.6 123h2v195h-2zM535.4 324h1v165.4h-1zM539.4 123h4v195h-4zM592 794.7h1.4v176.6h-1.4zM620 324h2v165.4h-2zM670.4 123h2v195h-2zM692.8 794.7h1v176.6h-1zM719.2 495h1.8v42h-1.8zM747.8 324h1v165.4h-1zM747.8 794.7h1v176.6h-1zM810 324h2.4v165.4h-2.4zM820.8 794.7h4v176.6h-4zM868 794.7h4v176.6h-4zM895 495h1.8v42h-1.8zM902.2 123h4v195h-4zM902.2 324h4v165.4h-4zM902.2 794.7h4v176.6h-4zM1072.4 495h3v42h-3zM1113.4 542.5h3v246.5h-3zM1168.4 324h1.8v165.4h-1.8zM1168.4 542.5h1.8v246.5h-1.8zM1243 324h2v165.4h-2zM1248.2 794.7h3v176.6h-3zM1280.4 324h1.4v165.4h-1.4zM1291.6 794.7h1.8v176.6h-1.8zM1304.2 123h3v195h-3zM1304.2 324h3v165.4h-3zM1304.2 542.5h3v246.5h-3zM1315.2 495h1.4v42h-1.4zM1333.6 324h4v165.4h-4zM1377 123h2v195h-2zM1377 794.7h2v176.6h-2zM1385 123h3v195h-3zM1436.6 324h1v165.4h-1zM1463 495h4v42h-4zM1463 542.5h4v246.5h-4zM1482.6 324h2.4v165.4h-2.4zM1492.6 542.5h2v246.5h-2zM1492.6 794.7h2v176.6h-2zM1511 123h3v195h-3zM1535 123h1v195h-1zM1557 123h1v195h-1zM1576.8 324h1v165.4h-1zM1705.4 123h1.4v195h-1.4zM1716.8 123h1.8v195h-1.8zM566.8 128.4h268.7v3h-268.7zM1532 131.4h239v4.5h-239zM841 149.9h253.3v4.5h-253.3zM1100 149.9h427.2v4.5h-427.2zM259 167.3h302.7v4.5h-302.7zM1100 167.3h427.2v4.5h-427.2zM566.8 232h268.7v2.4h-268.7zM1532 232h239v2.4h-239zM259 259.9h302.7v4.5h-302.7zM566.8 259.9h268.7v4.5h-268.7zM841 271.2h253.3v3.6h-253.3zM185 277.2h68.3v2h-68.3zM185 279.2h68.3v3h-68.3zM841 282.2h253.3v3.6h-253.3zM1100 282.2h427.2v3.6h-427.2zM1100 329.5h427.2v2h-427.2zM259 348h302.7v2h-302.7zM566.8 348h268.7v2h-268.7zM1532 348h239v2h-239zM841 390h253.3v4.5h-253.3zM566.8 401.5h268.7v4.5h-268.7zM1532 457h239v3h-239zM1100 496h427.2v4.5h-427.2zM841 519h253.3v3h-253.3zM1100 533.1h427.2v2.9h-427.2zM1532 568.9h239v3h-239zM1532 579.1h239v2.4h-239zM185 601.5h68.3v3h-68.3zM259 618h302.7v4.5h-302.7zM185 721.8h68.3v2.4h-68.3zM841 721.8h253.3v2.4h-253.3zM259 725.6h302.7v2.4h-302.7zM566.8 725.6h268.7v2.4h-268.7zM1100 728h427.2v2h-427.2zM1100 740h427.2v3h-427.2zM185 743h68.3v3h-68.3zM1532 743h239v3h-239zM1532 746h239v3h-239zM841 752.8h253.3v1.4h-253.3zM566.8 846.1h268.7v3h-268.7zM1100 846.1h427.2v3h-427.2zM841 939h253.3v4.5h-253.3zM566.8 949.7h268.7v3.6h-268.7zM1532 957.8h239v3h-239z"/>
<path fill="#808080" fill-opacity="0.22" d="M231.8 123h4v195h-4zM265.8 324h2v165.4h-2zM287.4 794.7h1.8v176.6h-1.8zM310.2 123h4v195h-4zM343.4 123h2v195h-2zM515.6 542.5h2v246.5h-2zM593.4 123h2.4v195h-2.4zM593.4 495h2.4v42h-2.4zM626.8 794.7h2v176.6h-2zM684.8 542.5h2v246.5h-2zM719.2 542.5h1.8v246.5h-1.8zM721 542.5h3v246.5h-3zM731 542.5h2v246.5h-2zM810 123h2.4v195h-2.4zM868 123h4v195h-4zM1106.4 123h2v195h-2zM1187.6 495h4v42h-4zM1248.2 324h3v165.4h-3zM1349.4 542.5h3v246.5h-3zM1385 324h3v165.4h-3zM1399 123h3v195h-3zM1399 495h3v42h-3zM1399 542.5h3v246.5h-3zM1413.4 324h1.8v165.4h-1.8zM1420.2 123h2v195h-2zM1459 123h4v195h-4zM1472 495h4v42h-4zM1472 542.5h4v246.5h-4zM1492.6 123h2v195h-2zM1511 495h3v42h-3zM1589.2 542.5h1v246.5h-1zM1589.2 794.7h1v176.6h-1zM1622.2 542.5h1.8v246.5h-1.8zM1656.8 123h2v195h-2zM1686 123h2v195h-2zM1703.4 324h2v165.4h-2zM1705.4 794.7h1.4v176.6h-1.4zM1729 495h1.4v42h-1.4zM1759 123h4v195h-4zM1759 542.5h4v246.5h-4zM1100 131.4h427.2v4.5h-427.2zM185 149.9h68.3v4.5h-68.3zM1100 154.4h427.2v1.4h-427.2zM185 167.3h68.3v4.5h-68.3zM841 196.2h253.3v3h-253.3zM259 232h302.7v2.4h-302.7zM566.8 247.9h268.7v3h-268.7zM566.8 271.2h268.7v3.6h-268.7zM185 282.2h68.3v3.6h-68.3zM259 282.2h302.7v3.6h-302.7zM1532 282.2h239v3.6h-239zM841 329.5h253.3v2h-253.3zM841 348h253.3v2h-253.3zM185 367.3h68.3v1.4h-68.3zM259 367.3h302.7v1.4h-302.7zM566.8 367.3h268.7v1.4h-268.7zM566.8 385h268.7v3h-268.7zM185 401.5h68.3v4.5h-68.3zM1532 401.5h239v4.5h-239zM841 507.1h253.3v1.4h-253.3zM1532 507.1h239v1.4h-239zM841 533.1h253.3v2.9h-253.3zM259 568.9h302.7v3h-302.7zM1100 618h427.2v4.5h-427.2zM566.8 661.6h268.7v3.6h-268.7zM841 661.6h253.3v3.6h-253.3zM259 693.4h302.7v1.4h-302.7zM259 721.8h302.7v2.4h-302.7zM566.8 721.8h268.7v2.4h-268.7zM1532 725.6h239v2.4h-239zM841 728h253.3v2h-253.3zM1532 759.2h239v2.4h-239zM566.8 814.3h268.7v2h-268.7zM1532 814.3h239v2h-239zM841 855.1h253.3v2h-253.3zM259 872.1h302.7v2h-302.7zM1100 872.1h427.2v2h-427.2zM1100 880.5h427.2v1.4h-427.2zM259 900.3h302.7v4.5h-302.7zM1532 900.3h239v4.5h-239zM1532 913.4h239v2h-239zM259 915.4h302.7v4.5h-302.7zM185 919.9h68.3v3h-68.3zM566.8 919.9h268.7v3h-268.7zM259 944.9h302.7v2.4h-302.7zM841 947.3h253.3v2.4h-253.3zM1100 949.7h427.2v3.6h-427.2zM1100 957.8h427.2v3h-427.2z"/>
<path fill="#808080" fill-opacity="0.24" d="M231.8 324h4v165.4h-4zM246.6 542.5h3v246.5h-3zM300.4 794.7h1.4v176.6h-1.4zM310.2 794.7h4v176.6h-4zM343.4 794.7h2v176.6h-2zM387.4 794.7h2v176.6h-2zM525.6 495h4v42h-4zM547.4 324h1v165.4h-1zM588 324h2v165.4h-2zM630.2 324h2v165.4h-2zM670.4 324h2v165.4h-2zM670.4 542.5h2v246.5h-2zM699.8 324h2v165.4h-2zM731 495h2v42h-2zM750.8 495h4v42h-4zM750.8 542.5h4v246.5h-4zM856.6 542.5h2v246.5h-2zM863 324h1v165.4h-1zM902.2 495h4v42h-4zM936.8 794.7h2v176.6h-2zM940.2 542.5h3v246.5h-3zM1011.4 324h1.4v165.4h-1.4zM1106.4 495h2v42h-2zM1108.4 542.5h1v246.5h-1zM1168.4 794.7h1.8v176.6h-1.8zM1170.2 324h2.4v165.4h-2.4zM1231 324h4v165.4h-4zM1315.2 123h1.4v195h-1.4zM1324.6 324h4v165.4h-4zM1324.6 542.5h4v246.5h-4zM1352.4 324h2.4v165.4h-2.4zM1413.4 542.5h1.8v246.5h-1.8zM1459 495h4v42h-4zM1472 324h4v165.4h-4zM1478.4 794.7h2.4v176.6h-2.4zM1492.6 324h2v165.4h-2zM1535 324h1v165.4h-1zM1543.8 495h1.8v42h-1.8zM1589.2 324h1v165.4h-1zM1622.2 324h1.8v165.4h-1.8zM1686 794.7h2v176.6h-2zM1716.8 542.5h1.8v246.5h-1.8zM1759 794.7h4v176.6h-4zM185 131.4h68.3v4.5h-68.3zM1100 191.7h427.2v4.5h-427.2zM841 218.8h253.3v3h-253.3zM566.8 255.4h268.7v4.5h-268.7zM185 259.9h68.3v4.5h-68.3zM566.8 285.8h268.7v2.4h-268.7zM1100 325h427.2v4.5h-427.2zM259 334.5h302.7v3h-302.7zM259 359.2h302.7v4.5h-302.7zM1532 367.3h239v1.4h-239zM259 385h302.7v3h-302.7zM841 385h253.3v3h-253.3zM566.8 390h268.7v4.5h-268.7zM566.8 457h268.7v3h-268.7zM185 519h68.3v3h-68.3zM566.8 519h268.7v3h-268.7zM566.8 581.5h268.7v3.6h-268.7zM1100 661.6h427.2v3.6h-427.2zM185 688.6h68.3v2.4h-68.3zM566.8 693.4h268.7v1.4h-268.7zM1100 693.4h427.2v1.4h-427.2zM259 728h302.7v2h-302.7zM185 733.4h68.3v3h-68.3zM259 814.3h302.7v2h-302.7zM185 855.1h68.3v2h-68.3zM566.8 872.1h268.7v2h-268.7zM1100 939h427.2v4.5h-427.2zM1100 943.5h427.2v1.4h-427.2zM259 947.3h302.7v2.4h-302.7zM185 949.7h68.3v3.6h-68.3zM259 949.7h302.7v3.6h-302.7zM566.8 957.8h268.7v3h-268.7z"/>
<path fill="#808080" fill-opacity="0.26" d="M231.8 542.5h4v246.5h-4zM338.6 794.7h3v176.6h-3zM450.2 123h1.4v195h-1.4zM458 123h1.8v195h-1.8zM513.8 324h1.8v165.4h-1.8zM535.4 542.5h1v246.5h-1zM578.2 495h2.4v42h-2.4zM626.8 324h2v165.4h-2zM684.8 123h2v195h-2zM684.8 495h2v42h-2zM699.8 542.5h2v246.5h-2zM699.8 794.7h2v176.6h-2zM703.8 324h2v165.4h-2zM717.2 495h2v42h-2zM719.2 123h1.8v195h-1.8zM746.4 123h1.4v195h-1.4zM746.4 324h1.4v165.4h-1.4zM746.4 495h1.4v42h-1.4zM793.6 495h4v42h-4zM812.4 542.5h4v246.5h-4zM863 123h1v195h-1zM863 794.7h1v176.6h-1zM868 324h4v165.4h-4zM895 123h1.8v195h-1.8zM965.4 123h4v195h-4zM965.4 324h4v165.4h-4zM965.4 495h4v42h-4zM1031.6 542.5h2v246.5h-2zM1108.4 495h1v42h-1zM1122.8 123h4v195h-4zM1179.2 495h1v42h-1zM1179.2 794.7h1v176.6h-1zM1181.6 542.5h2v246.5h-2zM1181.6 794.7h2v176.6h-2zM1191.6 324h2v165.4h-2zM1322.6 123h2v195h-2zM1333.6 123h4v195h-4zM1490.8 123h1.8v195h-1.8zM1511 324h3v165.4h-3zM1511 794.7h3v176.6h-3zM1543.8 123h1.8v195h-1.8zM1557 794.7h1v176.6h-1zM1664.8 324h1.8v165.4h-1.8zM1716.8 324h1.8v165.4h-1.8zM1721.6 495h2v42h-2zM1725 324h4v165.4h-4zM1759 495h4v42h-4zM566.8 131.4h268.7v4.5h-268.7zM566.8 191.7h268.7v4.5h-268.7zM1532 238.4h239v2h-239zM1100 259.9h427.2v4.5h-427.2zM1532 271.2h239v3.6h-239zM566.8 282.2h268.7v3.6h-268.7zM185 285.8h68.3v2.4h-68.3zM566.8 325h268.7v4.5h-268.7zM1100 385h427.2v3h-427.2zM259 401.5h302.7v4.5h-302.7zM1100 401.5h427.2v4.5h-427.2zM259 457h302.7v3h-302.7zM841 571.9h253.3v1.4h-253.3zM1100 581.5h427.2v3.6h-427.2zM841 698.4h253.3v2.4h-253.3zM185 704.2h68.3v4.5h-68.3zM1100 733.4h427.2v3h-427.2zM185 740h68.3v3h-68.3zM566.8 743h268.7v3h-268.7zM259 787.2h302.7v0.8h-302.7zM185 814.3h68.3v2h-68.3zM259 836.8h302.7v1.4h-302.7zM185 846.1h68.3v3h-68.3zM1532 846.1h239v3h-239zM185 872.1h68.3v2h-68.3zM566.8 900.3h268.7v4.5h-268.7zM185 915.4h68.3v4.5h-68.3zM259 939h302.7v4.5h-302.7zM1532 947.3h239v2.4h-239zM1532 949.7h239v3.6h-239z"/>
<path fill="#808080" fill-opacity="0.28" d="M246.6 495h3v42h-3zM265.8 495h2v42h-2zM338.6 495h3v42h-3zM363.8 495h1.8v42h-1.8zM375.2 495h4v42h-4zM387.4 542.5h2v246.5h-2zM392.8 123h2v195h-2zM450.2 495h1.4v42h-1.4zM450.2 542.5h1.4v246.5h-1.4zM513.8 794.7h1.8v176.6h-1.8zM515.6 324h2v165.4h-2zM525.6 324h4v165.4h-4zM532.4 794.7h3v176.6h-3zM535.4 123h1v195h-1zM547.4 542.5h1v246.5h-1zM578.2 324h2.4v165.4h-2.4zM620 123h2v195h-2zM625.4 794.7h1.4v176.6h-1.4zM638 495h4v42h-4zM643 495h1.8v42h-1.8zM643 794.7h1.8v176.6h-1.8zM699.8 123h2v195h-2zM750.8 123h4v195h-4zM824.8 495h3v42h-3zM895 542.5h1.8v246.5h-1.8zM902.2 542.5h4v246.5h-4zM943.2 542.5h4v246.5h-4zM943.2 794.7h4v176.6h-4zM965.4 794.7h4v176.6h-4zM969.4 794.7h1v176.6h-1zM1011.4 542.5h1.4v246.5h-1.4zM1011.4 794.7h1.4v176.6h-1.4zM1031.6 123h2v195h-2zM1122.8 794.7h4v176.6h-4zM1187.6 324h4v165.4h-4zM1187.6 542.5h4v246.5h-4zM1187.6 794.7h4v176.6h-4zM1231 495h4v42h-4zM1276 123h1v195h-1zM1287.2 495h2v42h-2zM1287.2 542.5h2v246.5h-2zM1291.6 495h1.8v42h-1.8zM1315.2 324h1.4v165.4h-1.4zM1315.2 542.5h1.4v246.5h-1.4zM1315.2 794.7h1.4v176.6h-1.4zM1316.6 123h2v195h-2zM1333.6 495h4v42h-4zM1349.4 123h3v195h-3zM1349.4 794.7h3v176.6h-3zM1352.4 542.5h2.4v246.5h-2.4zM1379 324h2v165.4h-2zM1383 542.5h2v246.5h-2zM1402 542.5h4v246.5h-4zM1418.2 324h2v165.4h-2zM1535 794.7h1v176.6h-1zM1543.8 542.5h1.8v246.5h-1.8zM1622.2 794.7h1.8v176.6h-1.8zM1672 794.7h1.4v176.6h-1.4zM1725 542.5h4v246.5h-4zM1532 154.4h239v1.4h-239zM259 215.2h302.7v3.6h-302.7zM1100 229.6h427.2v2.4h-427.2zM1532 259.9h239v4.5h-239zM185 271.2h68.3v3.6h-68.3zM185 325h68.3v4.5h-68.3zM841 334.5h253.3v3h-253.3zM1100 507.1h427.2v1.4h-427.2zM1100 508.5h427.2v4.5h-427.2zM185 533.1h68.3v2.9h-68.3zM841 556.4h253.3v3h-253.3zM566.8 571.9h268.7v1.4h-268.7zM1532 571.9h239v1.4h-239zM1532 601.5h239v3h-239zM566.8 698.4h268.7v2.4h-268.7zM1100 704.2h427.2v4.5h-427.2zM185 725.6h68.3v2.4h-68.3zM841 725.6h253.3v2.4h-253.3zM841 740h253.3v3h-253.3zM185 836.8h68.3v1.4h-68.3zM1100 877.5h427.2v3h-427.2zM1532 915.4h239v4.5h-239zM841 919.9h253.3v3h-253.3zM566.8 943.5h268.7v1.4h-268.7zM1532 943.5h239v1.4h-239zM185 944.9h68.3v2.4h-68.3zM1100 947.3h427.2v2.4h-427.2zM841 949.7h253.3v3.6h-253.3z"/>
<path fill="#808080" fill-opacity="0.3" d="M196.6 495h1v42h-1zM196.6 542.5h1v246.5h-1zM271.8 495h2.4v42h-2.4zM300.4 123h1.4v195h-1.4zM307.2 324h3v165.4h-3zM341.6 123h1.8v195h-1.8zM402 495h1.4v42h-1.4zM431.2 324h1.8v165.4h-1.8zM525.6 542.5h4v246.5h-4zM578.2 123h2.4v195h-2.4zM620 542.5h2v246.5h-2zM620 794.7h2v176.6h-2zM625.4 495h1.4v42h-1.4zM630.2 123h2v195h-2zM630.2 794.7h2v176.6h-2zM684.8 794.7h2v176.6h-2zM703.8 123h2v195h-2zM703.8 542.5h2v246.5h-2zM786.8 794.7h1.8v176.6h-1.8zM812.4 123h4v195h-4zM812.4 324h4v165.4h-4zM824.8 123h3v195h-3zM969.4 495h1v42h-1zM1011.4 123h1.4v195h-1.4zM1090 324h2.4v165.4h-2.4zM1162.4 123h1.4v195h-1.4zM1179.2 123h1v195h-1zM1181.6 324h2v165.4h-2zM1258.6 495h1v42h-1zM1280.4 123h1.4v195h-1.4zM1280.4 794.7h1.4v176.6h-1.4zM1333.6 794.7h4v176.6h-4zM1352.4 123h2.4v195h-2.4zM1354.8 495h2.4v42h-2.4zM1362.6 794.7h4v176.6h-4zM1375 123h2v195h-2zM1377 542.5h2v246.5h-2zM1459 324h4v165.4h-4zM1459 794.7h4v176.6h-4zM1467 542.5h1v246.5h-1zM1744.2 495h2.4v42h-2.4zM1100 215.2h427.2v3.6h-427.2zM566.8 238.4h268.7v2h-268.7zM1100 240.4h427.2v3h-427.2zM1100 285.8h427.2v2.4h-427.2zM841 325h253.3v4.5h-253.3zM1532 390h239v4.5h-239zM1100 419.4h427.2v2h-427.2zM1100 457h427.2v3h-427.2zM185 460h68.3v2h-68.3zM185 507.1h68.3v1.4h-68.3zM566.8 507.1h268.7v1.4h-268.7zM1532 508.5h239v4.5h-239zM259 571.9h302.7v1.4h-302.7zM259 579.1h302.7v2.4h-302.7zM185 581.5h68.3v3.6h-68.3zM566.8 595.5h268.7v3h-268.7zM259 601.5h302.7v3h-302.7zM185 618h68.3v4.5h-68.3zM1100 725.6h427.2v2.4h-427.2zM566.8 836.8h268.7v1.4h-268.7zM1100 836.8h427.2v1.4h-427.2zM259 846.1h302.7v3h-302.7zM566.8 855.1h268.7v2h-268.7zM1100 855.1h427.2v2h-427.2zM841 872.1h253.3v2h-253.3zM566.8 915.4h268.7v4.5h-268.7zM1100 915.4h427.2v4.5h-427.2zM1532 939h239v4.5h-239zM259 943.5h302.7v1.4h-302.7zM566.8 944.9h268.7v2.4h-268.7zM1532 944.9h239v2.4h-239zM185 947.3h68.3v2.4h-68.3zM259 957.8h302.7v3h-302.7z"/>
<path fill="#808080" fill-opacity="0.32" d="M209.4 794.7h2.4v176.6h-2.4zM246.6 324h3v165.4h-3zM387.4 324h2v165.4h-2zM532.4 123h3v195h-3zM532.4 495h3v42h-3zM549.4 324h3v165.4h-3zM578.2 794.7h2.4v176.6h-2.4zM588 495h2v42h-2zM620 495h2v42h-2zM625.4 324h1.4v165.4h-1.4zM630.2 542.5h2v246.5h-2zM643 123h1.8v195h-1.8zM659.8 123h1.8v195h-1.8zM659.8 542.5h1.8v246.5h-1.8zM684.8 324h2v165.4h-2zM693.8 495h4v42h-4zM701.8 794.7h2v176.6h-2zM717.2 794.7h2v176.6h-2zM721 324h3v165.4h-3zM786.8 495h1.8v42h-1.8zM786.8 542.5h1.8v246.5h-1.8zM856.6 123h2v195h-2zM895 794.7h1.8v176.6h-1.8zM943.2 123h4v195h-4zM1058 542.5h3v246.5h-3zM1058 794.7h3v176.6h-3zM1090 495h2.4v42h-2.4zM1090 542.5h2.4v246.5h-2.4zM1139.8 324h1.4v165.4h-1.4zM1170.2 542.5h2.4v246.5h-2.4zM1191.6 123h2v195h-2zM1291.6 324h1.8v165.4h-1.8zM1291.6 542.5h1.8v246.5h-1.8zM1328.6 123h2v195h-2zM1333.6 542.5h4v246.5h-4zM1349.4 324h3v165.4h-3zM1362.6 542.5h4v246.5h-4zM1372.6 495h2.4v42h-2.4zM1372.6 794.7h2.4v176.6h-2.4zM1383 123h2v195h-2zM1418.2 542.5h2v246.5h-2zM1490.8 794.7h1.8v176.6h-1.8zM1619.2 495h3v42h-3zM1640.8 123h4v195h-4zM1664.8 123h1.8v195h-1.8zM1672 324h1.4v165.4h-1.4zM1692.6 542.5h1.8v246.5h-1.8zM1694.4 542.5h2v246.5h-2zM1744.2 324h2.4v165.4h-2.4zM566.8 154.4h268.7v1.4h-268.7zM1100 157.8h427.2v2h-427.2zM841 215.2h253.3v3.6h-253.3zM185 232h68.3v2.4h-68.3zM841 232h253.3v2.4h-253.3zM259 238.4h302.7v2h-302.7zM259 285.8h302.7v2.4h-302.7zM185 385h68.3v3h-68.3zM259 507.1h302.7v1.4h-302.7zM185 508.5h68.3v4.5h-68.3zM259 508.5h302.7v4.5h-302.7zM259 533.1h302.7v2.9h-302.7zM1532 533.1h239v2.9h-239zM1532 581.5h239v3.6h-239zM1100 595.5h427.2v3h-427.2zM1100 598.5h427.2v3h-427.2zM566.8 601.5h268.7v3h-268.7zM259 704.2h302.7v4.5h-302.7zM1532 872.1h239v2h-239zM185 939h68.3v4.5h-68.3zM185 943.5h68.3v1.4h-68.3z"/>
<path fill="#808080" fill-opacity="0.34" d="M196.6 324h1v165.4h-1zM246.6 123h3v195h-3zM292.4 123h4v195h-4zM387.4 495h2v42h-2zM402 123h1.4v195h-1.4zM474.8 324h4v165.4h-4zM496.2 794.7h2v176.6h-2zM507.4 123h1v195h-1zM532.4 324h3v165.4h-3zM532.4 542.5h3v246.5h-3zM535.4 794.7h1v176.6h-1zM543.4 794.7h4v176.6h-4zM560.2 495h0.5v42h-0.5zM595.8 794.7h2.4v176.6h-2.4zM638 542.5h4v246.5h-4zM693.8 123h4v195h-4zM693.8 324h4v165.4h-4zM699.8 495h2v42h-2zM721 495h3v42h-3zM824.8 324h3v165.4h-3zM884.2 542.5h4v246.5h-4zM895 324h1.8v165.4h-1.8zM1019.6 794.7h2v176.6h-2zM1090 123h2.4v195h-2.4zM1106.4 794.7h2v176.6h-2zM1121.4 794.7h1.4v176.6h-1.4zM1126.8 123h2v195h-2zM1162.4 495h1.4v42h-1.4zM1170.2 495h2.4v42h-2.4zM1209.8 542.5h2v246.5h-2zM1231 123h4v195h-4zM1287.2 123h2v195h-2zM1289.2 123h1v195h-1zM1324.6 495h4v42h-4zM1352.4 495h2.4v42h-2.4zM1467 123h1v195h-1zM1468 495h2v42h-2zM1490.8 324h1.8v165.4h-1.8zM1543.8 794.7h1.8v176.6h-1.8zM1557 324h1v165.4h-1zM1589.2 123h1v195h-1zM1658.8 542.5h3v246.5h-3zM1682.2 794.7h2.4v176.6h-2.4zM1686 495h2v42h-2zM1729 794.7h1.4v176.6h-1.4zM1730.4 495h2v42h-2zM259 131.4h302.7v4.5h-302.7zM259 135.9h302.7v4.5h-302.7zM259 154.4h302.7v1.4h-302.7zM185 196.2h68.3v3h-68.3zM1100 196.2h427.2v3h-427.2zM566.8 215.2h268.7v3.6h-268.7zM185 238.4h68.3v2h-68.3zM185 247.9h68.3v3h-68.3zM841 285.8h253.3v2.4h-253.3zM259 325h302.7v4.5h-302.7zM1532 334.5h239v3h-239zM1100 359.2h427.2v4.5h-427.2zM1532 385h239v3h-239zM841 401.5h253.3v4.5h-253.3zM1532 419.4h239v2h-239zM1532 454h239v3h-239zM566.8 508.5h268.7v4.5h-268.7zM259 548.5h302.7v1.4h-302.7zM185 556.4h68.3v3h-68.3zM566.8 618h268.7v4.5h-268.7zM1100 721.8h427.2v2.4h-427.2zM259 740h302.7v3h-302.7zM566.8 740h268.7v3h-268.7zM1532 740h239v3h-239zM1100 787.2h427.2v0.8h-427.2zM259 919.9h302.7v3h-302.7zM1100 919.9h427.2v3h-427.2zM1100 944.9h427.2v2.4h-427.2z"/>
<path fill="#808080" fill-opacity="0.36" d="M292.4 324h4v165.4h-4zM375.2 542.5h4v246.5h-4zM396.2 542.5h4v246.5h-4zM402 542.5h1.4v246.5h-1.4zM402 794.7h1.4v176.6h-1.4zM450.2 324h1.4v165.4h-1.4zM458 794.7h1.8v176.6h-1.8zM474.8 495h4v42h-4zM536.4 324h3v165.4h-3zM543.4 542.5h4v246.5h-4zM588 542.5h2v246.5h-2zM607.6 794.7h2.4v176.6h-2.4zM652.8 123h2v195h-2zM819.4 495h1.4v42h-1.4zM877.8 324h2.4v165.4h-2.4zM949.2 542.5h1.4v246.5h-1.4zM988 324h1v165.4h-1zM1019.6 542.5h2v246.5h-2zM1108.4 794.7h1v176.6h-1zM1121.4 542.5h1.4v246.5h-1.4zM1126.8 324h2v165.4h-2zM1139.8 123h1.4v195h-1.4zM1162.4 324h1.4v165.4h-1.4zM1170.2 123h2.4v195h-2.4zM1272.6 123h1.4v195h-1.4zM1287.2 794.7h2v176.6h-2zM1557 495h1v42h-1zM1582.2 324h3v165.4h-3zM1624 123h4v195h-4zM1624 495h4v42h-4zM1628 324h1.8v165.4h-1.8zM1654.8 495h2v42h-2zM1658.8 794.7h3v176.6h-3zM1664.8 495h1.8v42h-1.8zM1716.8 495h1.8v42h-1.8zM1716.8 794.7h1.8v176.6h-1.8zM1729 324h1.4v165.4h-1.4zM1744.2 794.7h2.4v176.6h-2.4zM841 131.4h253.3v4.5h-253.3zM185 154.4h68.3v1.4h-68.3zM566.8 196.2h268.7v3h-268.7zM185 215.2h68.3v3.6h-68.3zM1100 247.9h427.2v3h-427.2zM1100 334.5h427.2v3h-427.2zM566.8 359.2h268.7v4.5h-268.7zM185 419.4h68.3v2h-68.3zM259 419.4h302.7v2h-302.7zM841 473.3h253.3v2h-253.3zM566.8 504.1h268.7v3h-268.7zM841 508.5h253.3v4.5h-253.3zM841 618h253.3v4.5h-253.3zM841 704.2h253.3v4.5h-253.3zM185 787.2h68.3v0.8h-68.3zM1532 855.1h239v2h-239zM566.8 939h268.7v4.5h-268.7z"/>
<path fill="#808080" fill-opacity="0.38" d="M246.6 794.7h3v176.6h-3zM261.8 495h3v42h-3zM300.4 542.5h1.4v246.5h-1.4zM347.4 794.7h4v176.6h-4zM356.4 495h1.4v42h-1.4zM387.4 123h2v195h-2zM392.8 324h2v165.4h-2zM402 324h1.4v165.4h-1.4zM474.8 542.5h4v246.5h-4zM543.4 324h4v165.4h-4zM547.4 123h1v195h-1zM547.4 495h1v42h-1zM638 324h4v165.4h-4zM638 794.7h4v176.6h-4zM643 542.5h1.8v246.5h-1.8zM721 794.7h3v176.6h-3zM824.8 542.5h3v246.5h-3zM827.8 324h1.8v165.4h-1.8zM856.6 324h2v165.4h-2zM884.2 324h4v165.4h-4zM943.2 324h4v165.4h-4zM1126.8 794.7h2v176.6h-2zM1226.2 542.5h1v246.5h-1zM1276 794.7h1v176.6h-1zM1322.6 324h2v165.4h-2zM1354.8 794.7h2.4v176.6h-2.4zM1383 794.7h2v176.6h-2zM1418.2 123h2v195h-2zM1437.6 495h2v42h-2zM1456.6 123h1v195h-1zM1557 542.5h1v246.5h-1zM1682.2 495h2.4v42h-2.4zM1686 542.5h2v246.5h-2zM1729 123h1.4v195h-1.4zM259 247.9h302.7v3h-302.7zM566.8 334.5h268.7v3h-268.7zM841 359.2h253.3v4.5h-253.3zM1100 571.9h427.2v1.4h-427.2zM841 943.5h253.3v1.4h-253.3z"/>
<path fill="#808080" fill-opacity="0.4" d="M261.8 794.7h3v176.6h-3zM341.6 495h1.8v42h-1.8zM366.6 794.7h2.4v176.6h-2.4zM392.8 495h2v42h-2zM426.4 495h1.8v42h-1.8zM426.4 794.7h1.8v176.6h-1.8zM513.8 542.5h1.8v246.5h-1.8zM525.6 123h4v195h-4zM536.4 794.7h3v176.6h-3zM543.4 495h4v42h-4zM643 324h1.8v165.4h-1.8zM717.2 324h2v165.4h-2zM717.2 542.5h2v246.5h-2zM943.2 495h4v42h-4zM988 123h1v195h-1zM1019.6 324h2v165.4h-2zM1108.4 324h1v165.4h-1zM1122.8 542.5h4v246.5h-4zM1179.2 542.5h1v246.5h-1zM1258.6 794.7h1v176.6h-1zM1318.6 123h2v195h-2zM1347.6 794.7h1.8v176.6h-1.8zM1354.8 324h2.4v165.4h-2.4zM1372.6 123h2.4v195h-2.4zM1413.4 123h1.8v195h-1.8zM1413.4 495h1.8v42h-1.8zM1418.2 495h2v42h-2zM1514 542.5h1.4v246.5h-1.4zM1519.2 324h1.4v165.4h-1.4zM1582.2 542.5h3v246.5h-3zM1682.2 123h2.4v195h-2.4zM1729 542.5h1.4v246.5h-1.4zM1100 238.4h427.2v2h-427.2z"/>
<path fill="#808080" fill-opacity="0.42" d="M338.6 324h3v165.4h-3zM458 324h1.8v165.4h-1.8zM474.8 794.7h4v176.6h-4zM549.4 794.7h3v176.6h-3zM595.8 495h2.4v42h-2.4zM630.2 495h2v42h-2zM659.8 794.7h1.8v176.6h-1.8zM703.8 495h2v42h-2zM703.8 794.7h2v176.6h-2zM820.8 542.5h4v246.5h-4zM827.8 495h1.8v42h-1.8zM884.2 495h4v42h-4zM1019.6 495h2v42h-2zM1031.6 794.7h2v176.6h-2zM1058 495h3v42h-3zM1191.6 542.5h2v246.5h-2zM1226.2 324h1v165.4h-1zM1237 123h4v195h-4zM1237 495h4v42h-4zM1287.2 324h2v165.4h-2zM1289.2 542.5h1v246.5h-1zM1318.6 794.7h2v176.6h-2zM1372.6 542.5h2.4v246.5h-2.4zM1383 324h2v165.4h-2zM1411 794.7h2.4v176.6h-2.4zM1449.6 542.5h2v246.5h-2zM1519.2 794.7h1.4v176.6h-1.4zM1589.2 495h1v42h-1zM1612.2 794.7h3v176.6h-3zM1628 495h1.8v42h-1.8zM1654.8 123h2v195h-2zM1654.8 324h2v165.4h-2zM1532 196.2h239v3h-239zM1532 247.9h239v3h-239zM1532 556.4h239v3h-239zM566.8 704.2h268.7v4.5h-268.7zM841 944.9h253.3v2.4h-253.3z"/>
<path fill="#808080" fill-opacity="0.44" d="M261.8 324h3v165.4h-3zM271.8 324h2.4v165.4h-2.4zM271.8 794.7h2.4v176.6h-2.4zM341.6 324h1.8v165.4h-1.8zM392.8 794.7h2v176.6h-2zM426.4 123h1.8v195h-1.8zM496.2 324h2v165.4h-2zM652.8 794.7h2v176.6h-2zM701.8 495h2v42h-2zM827.8 123h1.8v195h-1.8zM982.2 794.7h1.4v176.6h-1.4zM1036.6 542.5h1v246.5h-1zM1170.2 794.7h2.4v176.6h-2.4zM1209.8 324h2v165.4h-2zM1231 794.7h4v176.6h-4zM1272.6 324h1.4v165.4h-1.4zM1362.6 495h4v42h-4zM1383 495h2v42h-2zM1418.2 794.7h2v176.6h-2zM1431.6 324h3v165.4h-3zM1615.2 324h2v165.4h-2zM1628 542.5h1.8v246.5h-1.8zM1672 123h1.4v195h-1.4zM1725 794.7h4v176.6h-4zM1730.4 123h2v195h-2zM1730.4 542.5h2v246.5h-2zM1532 215.2h239v3.6h-239zM841 238.4h253.3v2h-253.3zM566.8 556.4h268.7v3h-268.7zM1100 556.4h427.2v3h-427.2zM1532 836.8h239v1.4h-239z"/>
<path fill="#808080" fill-opacity="0.46" d="M188 324h1.4v165.4h-1.4zM267.8 542.5h4v246.5h-4zM338.6 542.5h3v246.5h-3zM375.2 123h4v195h-4zM381.2 542.5h1.4v246.5h-1.4zM396.2 324h4v165.4h-4zM458 542.5h1.8v246.5h-1.8zM588 794.7h2v176.6h-2zM607.6 123h2.4v195h-2.4zM647.8 794.7h2v176.6h-2zM701.8 542.5h2v246.5h-2zM819.4 542.5h1.4v246.5h-1.4zM890.6 542.5h2v246.5h-2zM989 794.7h1.4v176.6h-1.4zM1031.6 324h2v165.4h-2zM1058 123h3v195h-3zM1058 324h3v165.4h-3zM1122.8 495h4v42h-4zM1209.8 794.7h2v176.6h-2zM1258.6 542.5h1v246.5h-1zM1277 324h2.4v165.4h-2.4zM1277 495h2.4v42h-2.4zM1431.6 123h3v195h-3zM1431.6 794.7h3v176.6h-3zM1437.6 123h2v195h-2zM1456.6 794.7h1v176.6h-1zM1628 794.7h1.8v176.6h-1.8zM1672 542.5h1.4v246.5h-1.4zM1692.6 324h1.8v165.4h-1.8zM1692.6 495h1.8v42h-1.8zM1725 495h4v42h-4zM1730.4 324h2v165.4h-2z"/>
<path fill="#808080" fill-opacity="0.48" d="M261.8 123h3v195h-3zM292.4 495h4v42h-4zM338.6 123h3v195h-3zM440 794.7h3v176.6h-3zM607.6 324h2.4v165.4h-2.4zM625.4 542.5h1.4v246.5h-1.4zM693.8 794.7h4v176.6h-4zM701.8 324h2v165.4h-2zM706.8 794.7h1.8v176.6h-1.8zM890.6 495h2v42h-2zM969.4 324h1v165.4h-1zM969.4 542.5h1v246.5h-1zM989 542.5h1.4v246.5h-1.4zM1011.4 495h1.4v42h-1.4zM1036.6 794.7h1v176.6h-1zM1146.2 324h1.8v165.4h-1.8zM1237 542.5h4v246.5h-4zM1272.6 542.5h1.4v246.5h-1.4zM1318.6 495h2v42h-2zM1318.6 542.5h2v246.5h-2zM1347.6 324h1.8v165.4h-1.8zM1347.6 495h1.8v42h-1.8zM1354.8 542.5h2.4v246.5h-2.4zM1431.6 542.5h3v246.5h-3zM1519.2 542.5h1.4v246.5h-1.4zM1682.2 324h2.4v165.4h-2.4zM1725 123h4v195h-4z"/>
<path fill="#808080" fill-opacity="0.5" d="M196.6 794.7h1v176.6h-1zM375.2 324h4v165.4h-4zM426.4 542.5h1.8v246.5h-1.8zM595.8 542.5h2.4v246.5h-2.4zM652.8 495h2v42h-2zM693.8 542.5h4v246.5h-4zM706.8 495h1.8v42h-1.8zM988 794.7h1v176.6h-1zM1023.6 794.7h2v176.6h-2zM1090 794.7h2.4v176.6h-2.4zM1139.8 495h1.4v42h-1.4zM1229.2 794.7h1.8v176.6h-1.8zM1258.6 324h1v165.4h-1zM1328.6 495h2v42h-2zM1347.6 542.5h1.8v246.5h-1.8zM1436.6 542.5h1v246.5h-1zM1437.6 794.7h2v176.6h-2zM1658.8 123h3v195h-3zM1692.6 794.7h1.8v176.6h-1.8zM1694.4 324h2v165.4h-2zM1744.2 123h2.4v195h-2.4z"/>
<path fill="#808080" fill-opacity="0.52" d="M341.6 542.5h1.8v246.5h-1.8zM356.4 324h1.4v165.4h-1.4zM356.4 542.5h1.4v246.5h-1.4zM549.4 495h3v42h-3zM936.8 542.5h2v246.5h-2zM1036.6 123h1v195h-1zM1126.8 542.5h2v246.5h-2zM1139.8 542.5h1.4v246.5h-1.4zM1289.2 495h1v42h-1zM1328.6 324h2v165.4h-2zM1449.6 495h2v42h-2zM1654.8 542.5h2v246.5h-2zM1654.8 794.7h2v176.6h-2zM1730.4 794.7h2v176.6h-2z"/>
<path fill="#808080" fill-opacity="0.54" d="M396.2 123h4v195h-4zM535.4 495h1v42h-1zM549.4 542.5h3v246.5h-3zM652.8 542.5h2v246.5h-2zM819.4 324h1.4v165.4h-1.4zM856.6 794.7h2v176.6h-2zM988 542.5h1v246.5h-1zM989 123h1.4v195h-1.4zM989 495h1.4v42h-1.4zM1139.8 794.7h1.4v176.6h-1.4zM1209.8 123h2v195h-2zM1237 324h4v165.4h-4zM1272.6 495h1.4v42h-1.4zM1277 123h2.4v195h-2.4zM1277 794.7h2.4v176.6h-2.4zM1437.6 542.5h2v246.5h-2zM1519.2 495h1.4v42h-1.4zM1612.2 324h3v165.4h-3z"/>
<path fill="#808080" fill-opacity="0.56" d="M261.8 542.5h3v246.5h-3zM706.8 123h1.8v195h-1.8zM819.4 123h1.4v195h-1.4zM819.4 794.7h1.4v176.6h-1.4zM949.2 495h1.4v42h-1.4zM1318.6 324h2v165.4h-2zM1449.6 123h2v195h-2zM1467 324h1v165.4h-1zM1467 794.7h1v176.6h-1zM1744.2 542.5h2.4v246.5h-2.4z"/>
<path fill="#808080" fill-opacity="0.58" d="M536.4 123h3v195h-3zM824.8 794.7h3v176.6h-3zM949.2 794.7h1.4v176.6h-1.4zM1126.8 495h2v42h-2zM1258.6 123h1v195h-1zM1277 542.5h2.4v246.5h-2.4z"/>
<path fill="#808080" fill-opacity="0.6" d="M1411 542.5h2.4v246.5h-2.4zM1694.4 495h2v42h-2z"/>
<path fill="#808080" fill-opacity="0.62" d="M989 324h1.4v165.4h-1.4z"/>
<path fill="#808080" fill-opacity="0.64" d="M1036.6 495h1v42h-1zM1449.6 324h2v165.4h-2zM1612.2 495h3v42h-3z"/>
<path fill="#808080" fill-opacity="0.66" d="M607.6 542.5h2.4v246.5h-2.4z"/>
<path fill="#000000" fill-opacity="0.02" d="M197.6 123h2.4v195h-2.4zM197.6 324h2.4v165.4h-2.4zM431.2 495h1.8v42h-1.8zM431.2 542.5h1.8v246.5h-1.8zM521.6 123h4v195h-4zM521.6 495h4v42h-4zM521.6 542.5h4v246.5h-4zM656.8 495h2v42h-2zM771.4 123h3v195h-3zM771.4 794.7h3v176.6h-3zM924.2 794.7h1.8v176.6h-1.8zM930.8 495h1v42h-1zM1061 324h2v165.4h-2zM1116.4 123h1v195h-1zM1116.4 324h1v165.4h-1zM1116.4 794.7h1v176.6h-1zM1155.4 324h4v165.4h-4zM1155.4 542.5h4v246.5h-4zM1163.8 495h1.8v42h-1.8zM1163.8 794.7h1.8v176.6h-1.8zM1375 495h2v42h-2zM1375 542.5h2v246.5h-2zM1409 324h2v165.4h-2zM1409 794.7h2v176.6h-2zM1651.8 324h3v165.4h-3zM1651.8 495h3v42h-3zM1752.6 123h4v195h-4zM1752.6 542.5h4v246.5h-4zM1756.6 324h2.4v165.4h-2.4zM1756.6 542.5h2.4v246.5h-2.4zM185 126h68.3v2.4h-68.3zM1532 149.9h239v4.5h-239zM259 173.2h302.7v1.4h-302.7zM566.8 173.2h268.7v1.4h-268.7zM566.8 228.2h268.7v1.4h-268.7zM1100 228.2h427.2v1.4h-427.2zM259 255.4h302.7v4.5h-302.7zM566.8 274.8h268.7v2.4h-268.7zM841 274.8h253.3v2.4h-253.3zM185 299.1h68.3v3.6h-68.3zM259 299.1h302.7v3.6h-302.7zM566.8 299.1h268.7v3.6h-268.7zM841 299.1h253.3v3.6h-253.3zM1100 299.1h427.2v3.6h-427.2zM1532 299.1h239v3.6h-239zM259 302.7h302.7v1.4h-302.7zM185 370.7h68.3v4.5h-68.3zM259 370.7h302.7v4.5h-302.7zM566.8 370.7h268.7v4.5h-268.7zM1100 370.7h427.2v4.5h-427.2zM1532 370.7h239v4.5h-239zM259 460h302.7v2h-302.7zM566.8 460h268.7v2h-268.7zM841 460h253.3v2h-253.3zM259 473.3h302.7v2h-302.7zM259 475.3h302.7v2.4h-302.7zM566.8 475.3h268.7v2.4h-268.7zM185 522h68.3v3.6h-68.3zM566.8 522h268.7v3.6h-268.7zM1532 522h239v3.6h-239zM185 525.6h68.3v4.5h-68.3zM1100 525.6h427.2v4.5h-427.2zM1532 525.6h239v4.5h-239zM259 625.5h302.7v4.5h-302.7zM566.8 625.5h268.7v4.5h-268.7zM185 648.5h68.3v4.5h-68.3zM259 648.5h302.7v4.5h-302.7zM566.8 648.5h268.7v4.5h-268.7zM841 648.5h253.3v4.5h-253.3zM1532 648.5h239v4.5h-239zM185 671.2h68.3v3h-68.3zM259 671.2h302.7v3h-302.7zM566.8 671.2h268.7v3h-268.7zM841 671.2h253.3v3h-253.3zM1100 671.2h427.2v3h-427.2zM1532 671.2h239v3h-239zM185 683.2h68.3v2.4h-68.3zM185 772.6h68.3v1.4h-68.3zM841 772.6h253.3v1.4h-253.3zM1532 772.6h239v1.4h-239zM566.8 835.4h268.7v1.4h-268.7zM185 877.5h68.3v3h-68.3zM259 884.3h302.7v3h-302.7zM841 915.4h253.3v4.5h-253.3zM259 927.4h302.7v2.4h-302.7z"/>
<path fill="#000000" fill-opacity="0.04" d="M186 123h2v195h-2zM190.4 123h2v195h-2zM190.4 324h2v165.4h-2zM190.4 495h2v42h-2zM190.4 794.7h2v176.6h-2zM197.6 542.5h2.4v246.5h-2.4zM197.6 794.7h2.4v176.6h-2.4zM204 123h2.4v195h-2.4zM204 324h2.4v165.4h-2.4zM204 495h2.4v42h-2.4zM235.8 123h1.8v195h-1.8zM242.6 123h1v195h-1zM242.6 324h1v165.4h-1zM242.6 495h1v42h-1zM242.6 542.5h1v246.5h-1zM275.6 794.7h2v176.6h-2zM292.4 542.5h4v246.5h-4zM300.4 324h1.4v165.4h-1.4zM307.2 794.7h3v176.6h-3zM365.6 794.7h1v176.6h-1zM375.2 794.7h4v176.6h-4zM414.6 495h2v42h-2zM414.6 794.7h2v176.6h-2zM416.6 123h3v195h-3zM416.6 495h3v42h-3zM431.2 123h1.8v195h-1.8zM431.2 794.7h1.8v176.6h-1.8zM440 495h3v42h-3zM485.6 123h2v195h-2zM485.6 495h2v42h-2zM485.6 542.5h2v246.5h-2zM487.6 542.5h1.8v246.5h-1.8zM508.4 324h2.4v165.4h-2.4zM508.4 495h2.4v42h-2.4zM521.6 324h4v165.4h-4zM521.6 794.7h4v176.6h-4zM525.6 794.7h4v176.6h-4zM571.8 495h4v42h-4zM571.8 542.5h4v246.5h-4zM571.8 794.7h4v176.6h-4zM610 794.7h4v176.6h-4zM623.4 123h2v195h-2zM623.4 794.7h2v176.6h-2zM644.8 123h1v195h-1zM644.8 324h1v165.4h-1zM644.8 495h1v42h-1zM644.8 542.5h1v246.5h-1zM656.8 123h2v195h-2zM656.8 324h2v165.4h-2zM656.8 542.5h2v246.5h-2zM656.8 794.7h2v176.6h-2zM663.6 123h2v195h-2zM663.6 542.5h2v246.5h-2zM706.8 324h1.8v165.4h-1.8zM754.8 123h3v195h-3zM754.8 324h3v165.4h-3zM754.8 495h3v42h-3zM754.8 542.5h3v246.5h-3zM754.8 794.7h3v176.6h-3zM797.6 123h2.4v195h-2.4zM797.6 324h2.4v165.4h-2.4zM797.6 495h2.4v42h-2.4zM797.6 542.5h2.4v246.5h-2.4zM797.6 794.7h2.4v176.6h-2.4zM812.4 794.7h4v176.6h-4zM856.6 495h2v42h-2zM896.8 324h3v165.4h-3zM906.2 123h2v195h-2zM906.2 324h2v165.4h-2zM906.2 495h2v42h-2zM920.2 542.5h1v246.5h-1zM924.2 123h1.8v195h-1.8zM924.2 495h1.8v42h-1.8zM926 123h2.4v195h-2.4zM930.8 542.5h1v246.5h-1zM930.8 794.7h1v176.6h-1zM931.8 495h1v42h-1zM1005.4 123h4v195h-4zM1021.6 123h2v195h-2zM1048.6 123h3v195h-3zM1048.6 324h3v165.4h-3zM1048.6 794.7h3v176.6h-3zM1061 123h2v195h-2zM1061 495h2v42h-2zM1061 542.5h2v246.5h-2zM1061 794.7h2v176.6h-2zM1064.8 324h3v165.4h-3zM1064.8 495h3v42h-3zM1072.4 123h3v195h-3zM1137.8 123h2v195h-2zM1137.8 324h2v165.4h-2zM1137.8 495h2v42h-2zM1137.8 794.7h2v176.6h-2zM1148 123h2.4v195h-2.4zM1148 495h2.4v42h-2.4zM1155.4 123h4v195h-4zM1155.4 794.7h4v176.6h-4zM1162.4 794.7h1.4v176.6h-1.4zM1163.8 123h1.8v195h-1.8zM1163.8 324h1.8v165.4h-1.8zM1163.8 542.5h1.8v246.5h-1.8zM1193.6 123h3v195h-3zM1198.6 542.5h2.4v246.5h-2.4zM1219.2 542.5h4v246.5h-4zM1223.2 123h3v195h-3zM1223.2 324h3v165.4h-3zM1223.2 495h3v42h-3zM1223.2 794.7h3v176.6h-3zM1298.6 324h1v165.4h-1zM1299.6 123h1v195h-1zM1299.6 495h1v42h-1zM1299.6 794.7h1v176.6h-1zM1300.6 542.5h1.8v246.5h-1.8zM1300.6 794.7h1.8v176.6h-1.8zM1316.6 794.7h2v176.6h-2zM1322.6 495h2v42h-2zM1339.6 495h4v42h-4zM1357.2 495h1v42h-1zM1367.6 324h2v165.4h-2zM1375 324h2v165.4h-2zM1409 123h2v195h-2zM1409 495h2v42h-2zM1490.8 495h1.8v42h-1.8zM1494.6 123h1v195h-1zM1494.6 324h1v165.4h-1zM1494.6 495h1v42h-1zM1494.6 542.5h1v246.5h-1zM1514 495h1.4v42h-1.4zM1563 123h2v195h-2zM1563 324h2v165.4h-2zM1563 495h2v42h-2zM1563 542.5h2v246.5h-2zM1563 794.7h2v176.6h-2zM1576.8 123h1v195h-1zM1579.2 123h3v195h-3zM1579.2 324h3v165.4h-3zM1605 324h1.8v165.4h-1.8zM1606.8 324h3v165.4h-3zM1606.8 794.7h3v176.6h-3zM1644.8 324h4v165.4h-4zM1644.8 495h4v42h-4zM1644.8 542.5h4v246.5h-4zM1644.8 794.7h4v176.6h-4zM1648.8 542.5h3v246.5h-3zM1648.8 794.7h3v176.6h-3zM1651.8 123h3v195h-3zM1651.8 542.5h3v246.5h-3zM1651.8 794.7h3v176.6h-3zM1678.8 324h2v165.4h-2zM1678.8 495h2v42h-2zM1678.8 794.7h2v176.6h-2zM1700.4 123h3v195h-3zM1700.4 324h3v165.4h-3zM1742.4 324h1.8v165.4h-1.8zM1742.4 495h1.8v42h-1.8zM1742.4 794.7h1.8v176.6h-1.8zM1750.2 123h1.4v195h-1.4zM1750.2 324h1.4v165.4h-1.4zM1750.2 495h1.4v42h-1.4zM1750.2 542.5h1.4v246.5h-1.4zM1750.2 794.7h1.4v176.6h-1.4zM1752.6 324h4v165.4h-4zM1752.6 794.7h4v176.6h-4zM1756.6 495h2.4v42h-2.4zM1756.6 794.7h2.4v176.6h-2.4zM1767 794.7h2v176.6h-2zM566.8 126h268.7v2.4h-268.7zM841 126h253.3v2.4h-253.3zM1532 126h239v2.4h-239zM841 146.3h253.3v3.6h-253.3zM1100 146.3h427.2v3.6h-427.2zM1532 159.8h239v4.5h-239zM185 173.2h68.3v1.4h-68.3zM1532 173.2h239v1.4h-239zM185 188.7h68.3v3h-68.3zM566.8 188.7h268.7v3h-268.7zM1100 188.7h427.2v3h-427.2zM259 205.6h302.7v3h-302.7zM1100 205.6h427.2v3h-427.2zM1532 205.6h239v3h-239zM1100 221.8h427.2v1.4h-427.2zM566.8 223.2h268.7v3.6h-268.7zM1100 223.2h427.2v3.6h-427.2zM1532 223.2h239v3.6h-239zM185 228.2h68.3v1.4h-68.3zM1532 228.2h239v1.4h-239zM1532 255.4h239v4.5h-239zM566.8 269.2h268.7v2h-268.7zM841 269.2h253.3v2h-253.3zM1100 269.2h427.2v2h-427.2zM259 274.8h302.7v2.4h-302.7zM1532 274.8h239v2.4h-239zM566.8 289.6h268.7v4.5h-268.7zM1532 289.6h239v4.5h-239zM566.8 294.1h268.7v3h-268.7zM841 355.6h253.3v3.6h-253.3zM841 370.7h253.3v4.5h-253.3zM185 417.4h68.3v2h-68.3zM259 417.4h302.7v2h-302.7zM841 417.4h253.3v2h-253.3zM1100 460h427.2v2h-427.2zM841 475.3h253.3v2.4h-253.3zM1100 475.3h427.2v2.4h-427.2zM185 500.5h68.3v3.6h-68.3zM259 500.5h302.7v3.6h-302.7zM566.8 500.5h268.7v3.6h-268.7zM1100 500.5h427.2v3.6h-427.2zM259 504.1h302.7v3h-302.7zM185 513h68.3v3.6h-68.3zM259 513h302.7v3.6h-302.7zM566.8 513h268.7v3.6h-268.7zM1100 513h427.2v3.6h-427.2zM259 522h302.7v3.6h-302.7zM841 522h253.3v3.6h-253.3zM1100 522h427.2v3.6h-427.2zM841 525.6h253.3v4.5h-253.3zM1532 548.5h239v1.4h-239zM185 625.5h68.3v4.5h-68.3zM841 625.5h253.3v4.5h-253.3zM1100 625.5h427.2v4.5h-427.2zM1532 625.5h239v4.5h-239zM185 633h68.3v2h-68.3zM259 633h302.7v2h-302.7zM185 667.2h68.3v2h-68.3zM566.8 667.2h268.7v2h-268.7zM259 683.2h302.7v2.4h-302.7zM841 683.2h253.3v2.4h-253.3zM185 685.6h68.3v3h-68.3zM259 685.6h302.7v3h-302.7zM566.8 685.6h268.7v3h-268.7zM185 732h68.3v1.4h-68.3zM259 732h302.7v1.4h-302.7zM566.8 732h268.7v1.4h-268.7zM259 733.4h302.7v3h-302.7zM1532 733.4h239v3h-239zM185 736.4h68.3v3.6h-68.3zM259 772.6h302.7v1.4h-302.7zM1100 772.6h427.2v1.4h-427.2zM185 818.7h68.3v4.5h-68.3zM259 818.7h302.7v4.5h-302.7zM841 818.7h253.3v4.5h-253.3zM1532 818.7h239v4.5h-239zM566.8 826.8h268.7v3h-268.7zM566.8 838.2h268.7v4.5h-268.7zM1100 838.2h427.2v4.5h-427.2zM259 877.5h302.7v3h-302.7zM566.8 877.5h268.7v3h-268.7zM841 877.5h253.3v3h-253.3zM1532 877.5h239v3h-239zM185 884.3h68.3v3h-68.3zM566.8 884.3h268.7v3h-268.7zM841 884.3h253.3v3h-253.3zM1100 884.3h427.2v3h-427.2zM1532 884.3h239v3h-239zM185 891.8h68.3v2h-68.3zM259 891.8h302.7v2h-302.7zM566.8 891.8h268.7v2h-268.7zM1100 891.8h427.2v2h-427.2zM1532 891.8h239v2h-239zM185 906.2h68.3v3.6h-68.3zM259 906.2h302.7v3.6h-302.7zM566.8 906.2h268.7v3.6h-268.7zM841 906.2h253.3v3.6h-253.3zM1100 906.2h427.2v3.6h-427.2zM1532 906.2h239v3.6h-239zM259 913.4h302.7v2h-302.7zM185 929.8h68.3v3.6h-68.3zM841 929.8h253.3v3.6h-253.3z"/>
<path fill="#000000" fill-opacity="0.06" d="M216.6 495h4v42h-4zM216.6 542.5h4v246.5h-4zM274.2 324h1.4v165.4h-1.4zM274.2 542.5h1.4v246.5h-1.4zM275.6 123h2v195h-2zM275.6 495h2v42h-2zM275.6 542.5h2v246.5h-2zM277.6 123h4v195h-4zM277.6 495h4v42h-4zM282.6 123h3v195h-3zM334.2 542.5h2v246.5h-2zM336.2 794.7h2.4v176.6h-2.4zM382.6 495h2.4v42h-2.4zM413.2 123h1.4v195h-1.4zM414.6 123h2v195h-2zM414.6 324h2v165.4h-2zM414.6 542.5h2v246.5h-2zM422.4 794.7h4v176.6h-4zM440 324h3v165.4h-3zM440 542.5h3v246.5h-3zM484.2 794.7h1.4v176.6h-1.4zM485.6 324h2v165.4h-2zM485.6 794.7h2v176.6h-2zM508.4 794.7h2.4v176.6h-2.4zM536.4 542.5h3v246.5h-3zM571.8 324h4v165.4h-4zM610 123h4v195h-4zM610 495h4v42h-4zM610 542.5h4v246.5h-4zM623.4 495h2v42h-2zM663.6 324h2v165.4h-2zM663.6 794.7h2v176.6h-2zM667 324h2v165.4h-2zM690.8 542.5h2v246.5h-2zM714.8 324h1v165.4h-1zM730 123h1v195h-1zM730 495h1v42h-1zM730 794.7h1v176.6h-1zM739.4 495h3v42h-3zM739.4 794.7h3v176.6h-3zM750.8 324h4v165.4h-4zM760.2 324h3v165.4h-3zM808.2 123h1.8v195h-1.8zM808.2 495h1.8v42h-1.8zM853 495h1.8v42h-1.8zM854.8 324h1.8v165.4h-1.8zM854.8 542.5h1.8v246.5h-1.8zM872 123h2.4v195h-2.4zM884.2 123h4v195h-4zM888.2 495h2.4v42h-2.4zM888.2 542.5h2.4v246.5h-2.4zM888.2 794.7h2.4v176.6h-2.4zM896.8 495h3v42h-3zM896.8 542.5h3v246.5h-3zM896.8 794.7h3v176.6h-3zM899.8 495h2.4v42h-2.4zM906.2 542.5h2v246.5h-2zM906.2 794.7h2v176.6h-2zM920.2 495h1v42h-1zM926 324h2.4v165.4h-2.4zM931.8 794.7h1v176.6h-1zM947.2 794.7h2v176.6h-2zM956.8 794.7h2.4v176.6h-2.4zM963.6 123h1.8v195h-1.8zM974.8 542.5h4v246.5h-4zM978.8 123h1.4v195h-1.4zM978.8 324h1.4v165.4h-1.4zM980.2 123h2v195h-2zM980.2 324h2v165.4h-2zM1005.4 324h4v165.4h-4zM1021.6 324h2v165.4h-2zM1021.6 794.7h2v176.6h-2zM1064.8 123h3v195h-3zM1079.6 495h1.4v42h-1.4zM1079.6 794.7h1.4v176.6h-1.4zM1081 495h2v42h-2zM1108.4 123h1v195h-1zM1116.4 495h1v42h-1zM1122.8 324h4v165.4h-4zM1137.8 542.5h2v246.5h-2zM1146.2 123h1.8v195h-1.8zM1148 324h2.4v165.4h-2.4zM1193.6 324h3v165.4h-3zM1193.6 794.7h3v176.6h-3zM1198.6 123h2.4v195h-2.4zM1198.6 324h2.4v165.4h-2.4zM1198.6 495h2.4v42h-2.4zM1219.2 123h4v195h-4zM1219.2 324h4v165.4h-4zM1276 542.5h1v246.5h-1zM1281.8 324h3v165.4h-3zM1281.8 495h3v42h-3zM1281.8 542.5h3v246.5h-3zM1298.6 123h1v195h-1zM1298.6 794.7h1v176.6h-1zM1300.6 123h1.8v195h-1.8zM1300.6 324h1.8v165.4h-1.8zM1316.6 324h2v165.4h-2zM1320.6 324h2v165.4h-2zM1339.6 123h4v195h-4zM1339.6 324h4v165.4h-4zM1339.6 542.5h4v246.5h-4zM1357.2 123h1v195h-1zM1367.6 123h2v195h-2zM1367.6 495h2v42h-2zM1409 542.5h2v246.5h-2zM1436.6 794.7h1v176.6h-1zM1451.6 123h1v195h-1zM1451.6 542.5h1v246.5h-1zM1451.6 794.7h1v176.6h-1zM1494.6 794.7h1v176.6h-1zM1536 324h2v165.4h-2zM1570.4 324h3v165.4h-3zM1579.2 495h3v42h-3zM1579.2 794.7h3v176.6h-3zM1592.6 123h1v195h-1zM1592.6 495h1v42h-1zM1592.6 542.5h1v246.5h-1zM1597.6 123h3v195h-3zM1597.6 324h3v165.4h-3zM1600.6 495h3v42h-3zM1600.6 542.5h3v246.5h-3zM1606.8 123h3v195h-3zM1606.8 495h3v42h-3zM1644.8 123h4v195h-4zM1648.8 123h3v195h-3zM1678.8 123h2v195h-2zM1700.4 542.5h3v246.5h-3zM1706.8 495h4v42h-4zM1710.8 542.5h2v246.5h-2zM1100 126h427.2v2.4h-427.2zM185 135.9h68.3v4.5h-68.3zM841 135.9h253.3v4.5h-253.3zM1532 135.9h239v4.5h-239zM185 146.3h68.3v3.6h-68.3zM259 146.3h302.7v3.6h-302.7zM566.8 146.3h268.7v3.6h-268.7zM1532 146.3h239v3.6h-239zM185 159.8h68.3v4.5h-68.3zM566.8 205.6h268.7v3h-268.7zM841 205.6h253.3v3h-253.3zM259 223.2h302.7v3.6h-302.7zM185 255.4h68.3v4.5h-68.3zM841 255.4h253.3v4.5h-253.3zM185 269.2h68.3v2h-68.3zM841 289.6h253.3v4.5h-253.3zM185 294.1h68.3v3h-68.3zM259 294.1h302.7v3h-302.7zM841 294.1h253.3v3h-253.3zM1100 294.1h427.2v3h-427.2zM185 297.1h68.3v2h-68.3zM259 297.1h302.7v2h-302.7zM841 297.1h253.3v2h-253.3zM1100 297.1h427.2v2h-427.2zM185 302.7h68.3v1.4h-68.3zM566.8 302.7h268.7v1.4h-268.7zM1100 302.7h427.2v1.4h-427.2zM1532 302.7h239v1.4h-239zM566.8 355.6h268.7v3.6h-268.7zM1532 355.6h239v3.6h-239zM1532 414.4h239v3h-239zM566.8 417.4h268.7v2h-268.7zM1100 417.4h427.2v2h-427.2zM185 427.9h68.3v3h-68.3zM259 427.9h302.7v3h-302.7zM566.8 427.9h268.7v3h-268.7zM841 427.9h253.3v3h-253.3zM1532 427.9h239v3h-239zM185 475.3h68.3v2.4h-68.3zM185 477.7h68.3v2.4h-68.3zM259 477.7h302.7v2.4h-302.7zM566.8 477.7h268.7v2.4h-268.7zM841 477.7h253.3v2.4h-253.3zM1100 477.7h427.2v2.4h-427.2zM1532 477.7h239v2.4h-239zM841 500.5h253.3v3.6h-253.3zM1532 500.5h239v3.6h-239zM185 504.1h68.3v3h-68.3zM1532 504.1h239v3h-239zM566.8 548.5h268.7v1.4h-268.7zM185 571.9h68.3v1.4h-68.3zM841 573.3h253.3v2h-253.3zM1532 573.3h239v2h-239zM185 630h68.3v3h-68.3zM259 630h302.7v3h-302.7zM566.8 630h268.7v3h-268.7zM841 630h253.3v3h-253.3zM1100 630h427.2v3h-427.2zM1532 630h239v3h-239zM566.8 633h268.7v2h-268.7zM841 633h253.3v2h-253.3zM1100 633h427.2v2h-427.2zM259 667.2h302.7v2h-302.7zM841 667.2h253.3v2h-253.3zM185 674.2h68.3v3h-68.3zM259 674.2h302.7v3h-302.7zM1100 674.2h427.2v3h-427.2zM1532 674.2h239v3h-239zM1532 683.2h239v2.4h-239zM1100 685.6h427.2v3h-427.2zM566.8 736.4h268.7v3.6h-268.7zM1100 736.4h427.2v3.6h-427.2zM1532 736.4h239v3.6h-239zM259 776.4h302.7v3h-302.7zM841 776.4h253.3v3h-253.3zM841 802.2h253.3v3.6h-253.3zM566.8 818.7h268.7v4.5h-268.7zM1100 818.7h427.2v4.5h-427.2zM185 838.2h68.3v4.5h-68.3zM259 838.2h302.7v4.5h-302.7zM841 838.2h253.3v4.5h-253.3zM841 846.1h253.3v3h-253.3zM259 929.8h302.7v3.6h-302.7zM566.8 929.8h268.7v3.6h-268.7zM1100 929.8h427.2v3.6h-427.2zM1532 929.8h239v3.6h-239zM185 957.8h68.3v3h-68.3z"/>
<path fill="#000000" fill-opacity="0.08" d="M204 542.5h2.4v246.5h-2.4zM204 794.7h2.4v176.6h-2.4zM216.6 123h4v195h-4zM235.8 495h1.8v42h-1.8zM235.8 542.5h1.8v246.5h-1.8zM243.6 495h3v42h-3zM243.6 542.5h3v246.5h-3zM274.2 495h1.4v42h-1.4zM282.6 324h3v165.4h-3zM282.6 542.5h3v246.5h-3zM336.2 495h2.4v42h-2.4zM336.2 542.5h2.4v246.5h-2.4zM413.2 324h1.4v165.4h-1.4zM413.2 794.7h1.4v176.6h-1.4zM426.4 324h1.8v165.4h-1.8zM484.2 123h1.4v195h-1.4zM484.2 324h1.4v165.4h-1.4zM484.2 542.5h1.4v246.5h-1.4zM507.4 794.7h1v176.6h-1zM513.8 123h1.8v195h-1.8zM626.8 495h2v42h-2zM690.8 123h2v195h-2zM690.8 324h2v165.4h-2zM714.8 123h1v195h-1zM714.8 794.7h1v176.6h-1zM715.8 324h1.4v165.4h-1.4zM739.4 123h3v195h-3zM739.4 542.5h3v246.5h-3zM808.2 324h1.8v165.4h-1.8zM808.2 794.7h1.8v176.6h-1.8zM853 123h1.8v195h-1.8zM853 324h1.8v165.4h-1.8zM853 794.7h1.8v176.6h-1.8zM872 794.7h2.4v176.6h-2.4zM888.2 123h2.4v195h-2.4zM888.2 324h2.4v165.4h-2.4zM920.2 324h1v165.4h-1zM920.2 794.7h1v176.6h-1zM926 542.5h2.4v246.5h-2.4zM947.2 123h2v195h-2zM947.2 324h2v165.4h-2zM963.6 324h1.8v165.4h-1.8zM963.6 794.7h1.8v176.6h-1.8zM980.2 542.5h2v246.5h-2zM999.4 324h4v165.4h-4zM999.4 542.5h4v246.5h-4zM1005.4 495h4v42h-4zM1021.6 542.5h2v246.5h-2zM1063 123h1.8v195h-1.8zM1079.6 324h1.4v165.4h-1.4zM1079.6 542.5h1.4v246.5h-1.4zM1081 123h2v195h-2zM1081 324h2v165.4h-2zM1148 542.5h2.4v246.5h-2.4zM1193.6 542.5h3v246.5h-3zM1196.6 123h2v195h-2zM1196.6 324h2v165.4h-2zM1196.6 542.5h2v246.5h-2zM1198.6 794.7h2.4v176.6h-2.4zM1252.2 495h1.4v42h-1.4zM1281.8 123h3v195h-3zM1281.8 794.7h3v176.6h-3zM1316.6 542.5h2v246.5h-2zM1320.6 542.5h2v246.5h-2zM1320.6 794.7h2v176.6h-2zM1354.8 123h2.4v195h-2.4zM1357.2 324h1v165.4h-1zM1357.2 542.5h1v246.5h-1zM1357.2 794.7h1v176.6h-1zM1362.6 123h4v195h-4zM1379 495h2v42h-2zM1379 542.5h2v246.5h-2zM1536 794.7h2v176.6h-2zM1540.4 123h2v195h-2zM1540.4 324h2v165.4h-2zM1579.2 542.5h3v246.5h-3zM1592.6 794.7h1v176.6h-1zM1597.6 542.5h3v246.5h-3zM1600.6 123h3v195h-3zM1600.6 324h3v165.4h-3zM1600.6 794.7h3v176.6h-3zM1706.8 794.7h4v176.6h-4zM1710.8 123h2v195h-2zM1721.6 123h2v195h-2zM1723.6 495h1.4v42h-1.4zM566.8 135.9h268.7v4.5h-268.7zM1100 135.9h427.2v4.5h-427.2zM259 159.8h302.7v4.5h-302.7zM566.8 159.8h268.7v4.5h-268.7zM841 223.2h253.3v3.6h-253.3zM1532 234.4h239v2h-239zM185 289.6h68.3v4.5h-68.3zM1100 289.6h427.2v4.5h-427.2zM1532 294.1h239v3h-239zM566.8 297.1h268.7v2h-268.7zM841 302.7h253.3v1.4h-253.3zM1532 359.2h239v4.5h-239zM1100 427.9h427.2v3h-427.2zM841 513h253.3v3.6h-253.3zM185 548.5h68.3v1.4h-68.3zM259 573.3h302.7v2h-302.7zM566.8 573.3h268.7v2h-268.7zM1100 573.3h427.2v2h-427.2zM1532 618h239v4.5h-239zM1100 667.2h427.2v2h-427.2zM1532 667.2h239v2h-239zM841 685.6h253.3v3h-253.3zM1532 685.6h239v3h-239zM185 776.4h68.3v3h-68.3zM566.8 776.4h268.7v3h-268.7zM1100 776.4h427.2v3h-427.2zM1532 776.4h239v3h-239zM566.8 862.5h268.7v2.4h-268.7zM841 927.4h253.3v2.4h-253.3z"/>
<path fill="#000000" fill-opacity="0.1" d="M216.6 794.7h4v176.6h-4zM229.4 794.7h2.4v176.6h-2.4zM235.8 794.7h1.8v176.6h-1.8zM243.6 123h3v195h-3zM267.8 324h4v165.4h-4zM334.2 123h2v195h-2zM336.2 123h2.4v195h-2.4zM413.2 495h1.4v42h-1.4zM422.4 542.5h4v246.5h-4zM484.2 495h1.4v42h-1.4zM507.4 495h1v42h-1zM507.4 542.5h1v246.5h-1zM647.8 123h2v195h-2zM647.8 542.5h2v246.5h-2zM649.8 794.7h3v176.6h-3zM690.8 495h2v42h-2zM690.8 794.7h2v176.6h-2zM715.8 123h1.4v195h-1.4zM715.8 495h1.4v42h-1.4zM730 324h1v165.4h-1zM730 542.5h1v246.5h-1zM767.4 495h4v42h-4zM771.4 495h3v42h-3zM771.4 542.5h3v246.5h-3zM782.8 495h2v42h-2zM808.2 542.5h1.8v246.5h-1.8zM854.8 123h1.8v195h-1.8zM854.8 495h1.8v42h-1.8zM854.8 794.7h1.8v176.6h-1.8zM872 324h2.4v165.4h-2.4zM947.2 495h2v42h-2zM947.2 542.5h2v246.5h-2zM950.6 123h2v195h-2zM950.6 542.5h2v246.5h-2zM963.6 542.5h1.8v246.5h-1.8zM974.8 123h4v195h-4zM974.8 324h4v165.4h-4zM974.8 495h4v42h-4zM978.8 495h1.4v42h-1.4zM978.8 542.5h1.4v246.5h-1.4zM999.4 794.7h4v176.6h-4zM1019.6 123h2v195h-2zM1064.8 794.7h3v176.6h-3zM1079.6 123h1.4v195h-1.4zM1146.2 495h1.8v42h-1.8zM1165.6 495h1.4v42h-1.4zM1177.2 123h2v195h-2zM1219.2 794.7h4v176.6h-4zM1243 794.7h2v176.6h-2zM1252.2 123h1.4v195h-1.4zM1252.2 324h1.4v165.4h-1.4zM1252.2 542.5h1.4v246.5h-1.4zM1320.6 123h2v195h-2zM1320.6 495h2v42h-2zM1322.6 542.5h2v246.5h-2zM1366.6 324h1v165.4h-1zM1377 495h2v42h-2zM1379 123h2v195h-2zM1451.6 495h1v42h-1zM1467 495h1v42h-1zM1500.6 123h1.4v195h-1.4zM1536 123h2v195h-2zM1536 495h2v42h-2zM1540.4 495h2v42h-2zM1540.4 794.7h2v176.6h-2zM1575.4 495h1.4v42h-1.4zM1592.6 324h1v165.4h-1zM1658.8 495h3v42h-3zM1706.8 324h4v165.4h-4zM1710.8 324h2v165.4h-2zM1710.8 495h2v42h-2zM1710.8 794.7h2v176.6h-2z"/>
<path fill="#000000" fill-opacity="0.12" d="M243.6 324h3v165.4h-3zM282.6 495h3v42h-3zM282.6 794.7h3v176.6h-3zM422.4 495h4v42h-4zM647.8 495h2v42h-2zM715.8 542.5h1.4v246.5h-1.4zM715.8 794.7h1.4v176.6h-1.4zM767.4 123h4v195h-4zM767.4 324h4v165.4h-4zM767.4 542.5h4v246.5h-4zM767.4 794.7h4v176.6h-4zM853 542.5h1.8v246.5h-1.8zM963.6 495h1.8v42h-1.8zM978.8 794.7h1.4v176.6h-1.4zM1196.6 495h2v42h-2zM1196.6 794.7h2v176.6h-2zM1536 542.5h2v246.5h-2z"/>
<path fill="#FFFFFF" fill-opacity="0.02" d="M240.6 123h2v195h-2zM240.6 324h2v165.4h-2zM240.6 794.7h2v176.6h-2zM303.2 542.5h4v246.5h-4zM326.2 123h2v195h-2zM326.2 324h2v165.4h-2zM347.4 123h4v195h-4zM347.4 324h4v165.4h-4zM347.4 495h4v42h-4zM363.8 123h1.8v195h-1.8zM363.8 542.5h1.8v246.5h-1.8zM363.8 794.7h1.8v176.6h-1.8zM658.8 794.7h1v176.6h-1zM911.2 794.7h4v176.6h-4zM915.2 495h1v42h-1zM1265.6 542.5h3v246.5h-3zM1402 794.7h4v176.6h-4zM1468 123h2v195h-2zM1468 542.5h2v246.5h-2zM1468 794.7h2v176.6h-2zM1565 324h1v165.4h-1zM1565 495h1v42h-1zM259 228.2h302.7v1.4h-302.7zM259 448h302.7v2.4h-302.7zM566.8 448h268.7v2.4h-268.7zM841 448h253.3v2.4h-253.3zM1100 448h427.2v2.4h-427.2zM1532 448h239v2.4h-239zM185 450.4h68.3v3.6h-68.3zM259 450.4h302.7v3.6h-302.7zM566.8 450.4h268.7v3.6h-268.7zM1532 450.4h239v3.6h-239zM566.8 454h268.7v3h-268.7zM841 454h253.3v3h-253.3zM566.8 480.1h268.7v3h-268.7zM1532 530.1h239v3h-239zM259 559.4h302.7v3h-302.7zM841 559.4h253.3v3h-253.3zM185 611.4h68.3v3h-68.3zM259 611.4h302.7v3h-302.7zM566.8 611.4h268.7v3h-268.7zM841 611.4h253.3v3h-253.3zM185 645.5h68.3v3h-68.3zM259 645.5h302.7v3h-302.7zM566.8 645.5h268.7v3h-268.7zM1100 645.5h427.2v3h-427.2zM1532 645.5h239v3h-239zM259 656h302.7v2h-302.7zM566.8 656h268.7v2h-268.7zM841 656h253.3v2h-253.3zM1100 656h427.2v2h-427.2zM1532 656h239v2h-239zM259 665.2h302.7v2h-302.7zM185 669.2h68.3v2h-68.3zM1100 683.2h427.2v2.4h-427.2zM185 752.8h68.3v1.4h-68.3zM566.8 752.8h268.7v1.4h-268.7zM1100 752.8h427.2v1.4h-427.2zM185 761.6h68.3v3h-68.3zM259 761.6h302.7v3h-302.7zM841 761.6h253.3v3h-253.3zM1532 761.6h239v3h-239zM185 826.8h68.3v3h-68.3zM259 826.8h302.7v3h-302.7zM1100 826.8h427.2v3h-427.2zM1532 826.8h239v3h-239zM259 862.5h302.7v2.4h-302.7zM841 862.5h253.3v2.4h-253.3zM1100 862.5h427.2v2.4h-427.2zM1100 868.5h427.2v3.6h-427.2zM259 962.2h302.7v4.5h-302.7zM566.8 962.2h268.7v4.5h-268.7z"/>
<path fill="#FFFFFF" fill-opacity="0.04" d="M206.4 324h2v165.4h-2zM209.4 123h2.4v195h-2.4zM209.4 542.5h2.4v246.5h-2.4zM240.6 495h2v42h-2zM267.8 123h4v195h-4zM267.8 794.7h4v176.6h-4zM303.2 123h4v195h-4zM303.2 324h4v165.4h-4zM303.2 495h4v42h-4zM303.2 794.7h4v176.6h-4zM326.2 542.5h2v246.5h-2zM326.2 794.7h2v176.6h-2zM347.4 542.5h4v246.5h-4zM363.8 324h1.8v165.4h-1.8zM372 324h1.8v165.4h-1.8zM373.8 542.5h1.4v246.5h-1.4zM373.8 794.7h1.4v176.6h-1.4zM382.6 542.5h2.4v246.5h-2.4zM416.6 542.5h3v246.5h-3zM422.4 324h4v165.4h-4zM455.6 123h2.4v195h-2.4zM487.6 794.7h1.8v176.6h-1.8zM503 123h2.4v195h-2.4zM503 542.5h2.4v246.5h-2.4zM503 794.7h2.4v176.6h-2.4zM508.4 542.5h2.4v246.5h-2.4zM622 542.5h1.4v246.5h-1.4zM622 794.7h1.4v176.6h-1.4zM658.8 123h1v195h-1zM658.8 495h1v42h-1zM658.8 542.5h1v246.5h-1zM661.6 123h2v195h-2zM661.6 495h2v42h-2zM661.6 794.7h2v176.6h-2zM705.8 542.5h1v246.5h-1zM760.2 123h3v195h-3zM760.2 495h3v42h-3zM760.2 794.7h3v176.6h-3zM774.4 123h4v195h-4zM779.8 123h3v195h-3zM846.2 495h3v42h-3zM860.6 542.5h2.4v246.5h-2.4zM863 542.5h1v246.5h-1zM911.2 324h4v165.4h-4zM911.2 542.5h4v246.5h-4zM915.2 123h1v195h-1zM915.2 324h1v165.4h-1zM915.2 542.5h1v246.5h-1zM926 495h2.4v42h-2.4zM932.8 123h4v195h-4zM932.8 324h4v165.4h-4zM932.8 495h4v42h-4zM932.8 542.5h4v246.5h-4zM982.2 123h1.4v195h-1.4zM982.2 542.5h1.4v246.5h-1.4zM984.6 123h2v195h-2zM984.6 324h2v165.4h-2zM984.6 495h2v42h-2zM984.6 794.7h2v176.6h-2zM1003.4 324h2v165.4h-2zM1033.6 495h2v42h-2zM1077.2 123h2.4v195h-2.4zM1077.2 495h2.4v42h-2.4zM1101 123h1.4v195h-1.4zM1101 794.7h1.4v176.6h-1.4zM1128.8 542.5h1.8v246.5h-1.8zM1128.8 794.7h1.8v176.6h-1.8zM1150.4 495h3v42h-3zM1206.8 123h3v195h-3zM1206.8 324h3v165.4h-3zM1206.8 495h3v42h-3zM1206.8 794.7h3v176.6h-3zM1229.2 123h1.8v195h-1.8zM1231 542.5h4v246.5h-4zM1265.6 123h3v195h-3zM1265.6 324h3v165.4h-3zM1265.6 495h3v42h-3zM1265.6 794.7h3v176.6h-3zM1291.6 123h1.8v195h-1.8zM1343.6 542.5h2v246.5h-2zM1366.6 123h1v195h-1zM1366.6 495h1v42h-1zM1366.6 542.5h1v246.5h-1zM1366.6 794.7h1v176.6h-1zM1367.6 794.7h2v176.6h-2zM1402 324h4v165.4h-4zM1402 495h4v42h-4zM1420.2 542.5h2v246.5h-2zM1436.6 123h1v195h-1zM1447.8 794.7h1.8v176.6h-1.8zM1468 324h2v165.4h-2zM1478.4 542.5h2.4v246.5h-2.4zM1565 123h1v195h-1zM1565 542.5h1v246.5h-1zM1565 794.7h1v176.6h-1zM1606.8 542.5h3v246.5h-3zM1666.6 794.7h4v176.6h-4zM1705.4 324h1.4v165.4h-1.4zM1742.4 542.5h1.8v246.5h-1.8zM1767 542.5h2v246.5h-2zM259 126h302.7v2.4h-302.7zM1532 167.3h239v4.5h-239zM259 178.2h302.7v4.5h-302.7zM841 178.2h253.3v4.5h-253.3zM1100 178.2h427.2v4.5h-427.2zM1532 178.2h239v4.5h-239zM841 188.7h253.3v3h-253.3zM1532 191.7h239v4.5h-239zM185 199.2h68.3v1.4h-68.3zM259 199.2h302.7v1.4h-302.7zM566.8 199.2h268.7v1.4h-268.7zM841 199.2h253.3v1.4h-253.3zM1100 199.2h427.2v1.4h-427.2zM185 208.6h68.3v3.6h-68.3zM566.8 208.6h268.7v3.6h-268.7zM1532 208.6h239v3.6h-239zM259 243.4h302.7v4.5h-302.7zM566.8 243.4h268.7v4.5h-268.7zM841 243.4h253.3v4.5h-253.3zM1532 243.4h239v4.5h-239zM1532 269.2h239v2h-239zM259 304.1h302.7v4.5h-302.7zM566.8 304.1h268.7v4.5h-268.7zM185 331.5h68.3v3h-68.3zM259 331.5h302.7v3h-302.7zM566.8 331.5h268.7v3h-268.7zM1532 331.5h239v3h-239zM185 355.6h68.3v3.6h-68.3zM1100 414.4h427.2v3h-427.2zM1100 450.4h427.2v3.6h-427.2zM185 454h68.3v3h-68.3zM259 454h302.7v3h-302.7zM1100 454h427.2v3h-427.2zM1532 473.3h239v2h-239zM185 480.1h68.3v3h-68.3zM259 480.1h302.7v3h-302.7zM841 480.1h253.3v3h-253.3zM1100 480.1h427.2v3h-427.2zM1532 480.1h239v3h-239zM185 559.4h68.3v3h-68.3zM566.8 559.4h268.7v3h-268.7zM1100 559.4h427.2v3h-427.2zM185 579.1h68.3v2.4h-68.3zM566.8 579.1h268.7v2.4h-268.7zM259 598.5h302.7v3h-302.7zM1100 611.4h427.2v3h-427.2zM259 638h302.7v3h-302.7zM1100 638h427.2v3h-427.2zM1532 638h239v3h-239zM841 645.5h253.3v3h-253.3zM566.8 669.2h268.7v2h-268.7zM1100 669.2h427.2v2h-427.2zM1532 669.2h239v2h-239zM185 694.8h68.3v3.6h-68.3zM259 694.8h302.7v3.6h-302.7zM566.8 694.8h268.7v3.6h-268.7zM841 694.8h253.3v3.6h-253.3zM1532 721.8h239v2.4h-239zM259 752.8h302.7v1.4h-302.7zM566.8 787.2h268.7v0.8h-268.7zM566.8 795.7h268.7v4.5h-268.7zM841 795.7h253.3v4.5h-253.3zM1100 795.7h427.2v4.5h-427.2zM1532 795.7h239v4.5h-239zM1100 814.3h427.2v2h-427.2zM841 836.8h253.3v1.4h-253.3zM185 862.5h68.3v2.4h-68.3zM566.8 937h268.7v2h-268.7zM185 962.2h68.3v4.5h-68.3zM841 962.2h253.3v4.5h-253.3zM1532 962.2h239v4.5h-239z"/>
<path fill="#FFFFFF" fill-opacity="0.06" d="M190.4 542.5h2v246.5h-2zM206.4 123h2v195h-2zM206.4 495h2v42h-2zM206.4 794.7h2v176.6h-2zM209.4 324h2.4v165.4h-2.4zM216.6 324h4v165.4h-4zM229.4 123h2.4v195h-2.4zM229.4 324h2.4v165.4h-2.4zM229.4 542.5h2.4v246.5h-2.4zM267.8 495h4v42h-4zM310.2 324h4v165.4h-4zM320.2 324h1.8v165.4h-1.8zM326.2 495h2v42h-2zM355.4 324h1v165.4h-1zM355.4 542.5h1v246.5h-1zM355.4 794.7h1v176.6h-1zM365.6 324h1v165.4h-1zM372 794.7h1.8v176.6h-1.8zM373.8 324h1.4v165.4h-1.4zM373.8 495h1.4v42h-1.4zM455.6 495h2.4v42h-2.4zM455.6 794.7h2.4v176.6h-2.4zM467.8 324h2v165.4h-2zM472.8 542.5h2v246.5h-2zM487.6 324h1.8v165.4h-1.8zM487.6 495h1.8v42h-1.8zM539.4 542.5h4v246.5h-4zM571.8 123h4v195h-4zM622 123h1.4v195h-1.4zM622 324h1.4v165.4h-1.4zM628.8 324h1.4v165.4h-1.4zM628.8 495h1.4v42h-1.4zM628.8 542.5h1.4v246.5h-1.4zM661.6 324h2v165.4h-2zM661.6 542.5h2v246.5h-2zM667 123h2v195h-2zM705.8 324h1v165.4h-1zM705.8 794.7h1v176.6h-1zM774.4 324h4v165.4h-4zM774.4 495h4v42h-4zM774.4 542.5h4v246.5h-4zM774.4 794.7h4v176.6h-4zM779.8 324h3v165.4h-3zM779.8 542.5h3v246.5h-3zM779.8 794.7h3v176.6h-3zM820.8 495h4v42h-4zM842 123h1v195h-1zM846.2 794.7h3v176.6h-3zM860.6 324h2.4v165.4h-2.4zM860.6 495h2.4v42h-2.4zM860.6 794.7h2.4v176.6h-2.4zM868 542.5h4v246.5h-4zM872 542.5h2.4v246.5h-2.4zM890.6 123h2v195h-2zM899.8 123h2.4v195h-2.4zM899.8 324h2.4v165.4h-2.4zM908.2 324h3v165.4h-3zM915.2 794.7h1v176.6h-1zM930.8 324h1v165.4h-1zM932.8 794.7h4v176.6h-4zM949.2 324h1.4v165.4h-1.4zM956.8 123h2.4v195h-2.4zM956.8 542.5h2.4v246.5h-2.4zM980.2 495h2v42h-2zM986.6 324h1.4v165.4h-1.4zM994.4 123h2v195h-2zM994.4 324h2v165.4h-2zM1023.6 542.5h2v246.5h-2zM1033.6 123h2v195h-2zM1033.6 542.5h2v246.5h-2zM1033.6 794.7h2v176.6h-2zM1040.6 324h4v165.4h-4zM1077.2 324h2.4v165.4h-2.4zM1128.8 123h1.8v195h-1.8zM1128.8 324h1.8v165.4h-1.8zM1141.2 495h3v42h-3zM1141.2 542.5h3v246.5h-3zM1150.4 123h3v195h-3zM1177.2 794.7h2v176.6h-2zM1179.2 324h1v165.4h-1zM1187.6 123h4v195h-4zM1201 495h1.8v42h-1.8zM1206.8 542.5h3v246.5h-3zM1229.2 495h1.8v42h-1.8zM1229.2 542.5h1.8v246.5h-1.8zM1246.8 123h1.4v195h-1.4zM1246.8 324h1.4v165.4h-1.4zM1254.6 324h4v165.4h-4zM1309.2 794.7h4v176.6h-4zM1324.6 123h4v195h-4zM1330.6 324h3v165.4h-3zM1330.6 495h3v42h-3zM1330.6 542.5h3v246.5h-3zM1343.6 123h2v195h-2zM1343.6 495h2v42h-2zM1343.6 794.7h2v176.6h-2zM1367.6 542.5h2v246.5h-2zM1372.6 324h2.4v165.4h-2.4zM1447.8 495h1.8v42h-1.8zM1456.6 324h1v165.4h-1zM1478.4 123h2.4v195h-2.4zM1478.4 495h2.4v42h-2.4zM1482.6 123h2.4v195h-2.4zM1482.6 542.5h2.4v246.5h-2.4zM1482.6 794.7h2.4v176.6h-2.4zM1498.6 123h2v195h-2zM1498.6 495h2v42h-2zM1498.6 542.5h2v246.5h-2zM1498.6 794.7h2v176.6h-2zM1503 794.7h4v176.6h-4zM1514 324h1.4v165.4h-1.4zM1517.2 123h2v195h-2zM1517.2 324h2v165.4h-2zM1517.2 542.5h2v246.5h-2zM1535 542.5h1v246.5h-1zM1542.4 495h1.4v42h-1.4zM1542.4 542.5h1.4v246.5h-1.4zM1566 324h2.4v165.4h-2.4zM1570.4 123h3v195h-3zM1570.4 542.5h3v246.5h-3zM1573.4 495h2v42h-2zM1582.2 794.7h3v176.6h-3zM1615.2 495h2v42h-2zM1615.2 794.7h2v176.6h-2zM1619.2 324h3v165.4h-3zM1619.2 794.7h3v176.6h-3zM1622.2 495h1.8v42h-1.8zM1640.8 495h4v42h-4zM1640.8 542.5h4v246.5h-4zM1640.8 794.7h4v176.6h-4zM1648.8 495h3v42h-3zM1656.8 324h2v165.4h-2zM1656.8 495h2v42h-2zM1661.8 324h3v165.4h-3zM1661.8 495h3v42h-3zM1661.8 542.5h3v246.5h-3zM1664.8 794.7h1.8v176.6h-1.8zM1666.6 495h4v42h-4zM1675.2 542.5h1.8v246.5h-1.8zM1684.6 123h1.4v195h-1.4zM1684.6 542.5h1.4v246.5h-1.4zM1700.4 794.7h3v176.6h-3zM1706.8 542.5h4v246.5h-4zM1721.6 324h2v165.4h-2zM1100 159.8h427.2v4.5h-427.2zM185 178.2h68.3v4.5h-68.3zM566.8 178.2h268.7v4.5h-268.7zM259 188.7h302.7v3h-302.7zM185 191.7h68.3v4.5h-68.3zM259 208.6h302.7v3.6h-302.7zM1100 208.6h427.2v3.6h-427.2zM185 221.8h68.3v1.4h-68.3zM259 221.8h302.7v1.4h-302.7zM841 221.8h253.3v1.4h-253.3zM1532 221.8h239v1.4h-239zM185 234.4h68.3v2h-68.3zM259 234.4h302.7v2h-302.7zM566.8 234.4h268.7v2h-268.7zM841 234.4h253.3v2h-253.3zM185 243.4h68.3v4.5h-68.3zM1100 243.4h427.2v4.5h-427.2zM259 289.6h302.7v4.5h-302.7zM185 304.1h68.3v4.5h-68.3zM1100 304.1h427.2v4.5h-427.2zM1532 304.1h239v4.5h-239zM841 331.5h253.3v3h-253.3zM1100 331.5h427.2v3h-427.2zM1100 355.6h427.2v3.6h-427.2zM841 388h253.3v2h-253.3zM259 414.4h302.7v3h-302.7zM566.8 414.4h268.7v3h-268.7zM1100 433.9h427.2v3h-427.2zM185 473.3h68.3v2h-68.3zM566.8 473.3h268.7v2h-268.7zM1100 473.3h427.2v2h-427.2zM1532 475.3h239v2.4h-239zM1100 548.5h427.2v1.4h-427.2zM1532 559.4h239v3h-239zM566.8 598.5h268.7v3h-268.7zM1532 598.5h239v3h-239zM185 638h68.3v3h-68.3zM566.8 638h268.7v3h-268.7zM841 638h253.3v3h-253.3zM1532 661.6h239v3.6h-239zM1532 694.8h239v3.6h-239zM841 743h253.3v3h-253.3zM259 829.8h302.7v3.6h-302.7zM841 829.8h253.3v3.6h-253.3zM1100 829.8h427.2v3.6h-427.2zM185 868.5h68.3v3.6h-68.3zM259 868.5h302.7v3.6h-302.7zM841 868.5h253.3v3.6h-253.3zM185 880.5h68.3v1.4h-68.3zM185 927.4h68.3v2.4h-68.3zM566.8 927.4h268.7v2.4h-268.7zM1532 927.4h239v2.4h-239zM259 937h302.7v2h-302.7zM841 937h253.3v2h-253.3zM1100 937h427.2v2h-427.2zM1532 937h239v2h-239zM1100 962.2h427.2v4.5h-427.2z"/>
<path fill="#FFFFFF" fill-opacity="0.08" d="M186 794.7h2v176.6h-2zM209.4 495h2.4v42h-2.4zM229.4 495h2.4v42h-2.4zM274.2 794.7h1.4v176.6h-1.4zM365.6 495h1v42h-1zM372 495h1.8v42h-1.8zM372 542.5h1.8v246.5h-1.8zM382.6 324h2.4v165.4h-2.4zM455.6 324h2.4v165.4h-2.4zM455.6 542.5h2.4v246.5h-2.4zM472.8 123h2v195h-2zM472.8 324h2v165.4h-2zM472.8 495h2v42h-2zM472.8 794.7h2v176.6h-2zM487.6 123h1.8v195h-1.8zM513.8 495h1.8v42h-1.8zM539.4 794.7h4v176.6h-4zM552.4 495h2v42h-2zM552.4 794.7h2v176.6h-2zM556.4 542.5h2v246.5h-2zM560.2 794.7h0.5v176.6h-0.5zM628.8 123h1.4v195h-1.4zM652.8 324h2v165.4h-2zM667 542.5h2v246.5h-2zM667 794.7h2v176.6h-2zM779.8 495h3v42h-3zM782.8 123h2v195h-2zM782.8 324h2v165.4h-2zM786.8 123h1.8v195h-1.8zM820.8 123h4v195h-4zM842 542.5h1v246.5h-1zM843 794.7h1.8v176.6h-1.8zM846.2 123h3v195h-3zM846.2 324h3v165.4h-3zM846.2 542.5h3v246.5h-3zM877.8 123h2.4v195h-2.4zM877.8 542.5h2.4v246.5h-2.4zM890.6 324h2v165.4h-2zM890.6 794.7h2v176.6h-2zM908.2 495h3v42h-3zM908.2 542.5h3v246.5h-3zM908.2 794.7h3v176.6h-3zM940.2 324h3v165.4h-3zM940.2 495h3v42h-3zM940.2 794.7h3v176.6h-3zM986.6 123h1.4v195h-1.4zM994.4 794.7h2v176.6h-2zM1003.4 542.5h2v246.5h-2zM1003.4 794.7h2v176.6h-2zM1023.6 123h2v195h-2zM1023.6 495h2v42h-2zM1040.6 495h4v42h-4zM1040.6 542.5h4v246.5h-4zM1063 324h1.8v165.4h-1.8zM1077.2 794.7h2.4v176.6h-2.4zM1128.8 495h1.8v42h-1.8zM1141.2 324h3v165.4h-3zM1150.4 542.5h3v246.5h-3zM1153.4 123h2v195h-2zM1153.4 495h2v42h-2zM1153.4 542.5h2v246.5h-2zM1165.6 542.5h1.4v246.5h-1.4zM1177.2 324h2v165.4h-2zM1177.2 495h2v42h-2zM1177.2 542.5h2v246.5h-2zM1181.6 495h2v42h-2zM1246.8 794.7h1.4v176.6h-1.4zM1254.6 123h4v195h-4zM1254.6 495h4v42h-4zM1254.6 794.7h4v176.6h-4zM1276 495h1v42h-1zM1330.6 123h3v195h-3zM1345.6 123h2v195h-2zM1345.6 495h2v42h-2zM1345.6 542.5h2v246.5h-2zM1345.6 794.7h2v176.6h-2zM1349.4 495h3v42h-3zM1352.4 794.7h2.4v176.6h-2.4zM1447.8 123h1.8v195h-1.8zM1447.8 324h1.8v165.4h-1.8zM1447.8 542.5h1.8v246.5h-1.8zM1478.4 324h2.4v165.4h-2.4zM1482.6 495h2.4v42h-2.4zM1485 123h4v195h-4zM1485 495h4v42h-4zM1485 542.5h4v246.5h-4zM1498.6 324h2v165.4h-2zM1500.6 794.7h1.4v176.6h-1.4zM1503 324h4v165.4h-4zM1503 495h4v42h-4zM1517.2 495h2v42h-2zM1517.2 794.7h2v176.6h-2zM1533 324h2v165.4h-2zM1533 794.7h2v176.6h-2zM1542.4 123h1.4v195h-1.4zM1542.4 794.7h1.4v176.6h-1.4zM1566 495h2.4v42h-2.4zM1566 794.7h2.4v176.6h-2.4zM1570.4 495h3v42h-3zM1573.4 123h2v195h-2zM1573.4 324h2v165.4h-2zM1615.2 123h2v195h-2zM1615.2 542.5h2v246.5h-2zM1619.2 123h3v195h-3zM1624 542.5h4v246.5h-4zM1656.8 794.7h2v176.6h-2zM1661.8 123h3v195h-3zM1661.8 794.7h3v176.6h-3zM1666.6 123h4v195h-4zM1666.6 542.5h4v246.5h-4zM1675.2 123h1.8v195h-1.8zM1675.2 794.7h1.8v176.6h-1.8zM1684.6 324h1.4v165.4h-1.4zM1684.6 495h1.4v42h-1.4zM1684.6 794.7h1.4v176.6h-1.4zM1723.6 123h1.4v195h-1.4zM1767 324h2v165.4h-2zM566.8 221.8h268.7v1.4h-268.7zM185 414.4h68.3v3h-68.3zM841 414.4h253.3v3h-253.3zM185 530.1h68.3v3h-68.3zM259 530.1h302.7v3h-302.7zM566.8 530.1h268.7v3h-268.7zM841 530.1h253.3v3h-253.3zM1100 530.1h427.2v3h-427.2zM841 598.5h253.3v3h-253.3zM1532 611.4h239v3h-239zM185 656h68.3v2h-68.3zM841 732h253.3v1.4h-253.3zM566.8 829.8h268.7v3.6h-268.7zM1532 829.8h239v3.6h-239zM185 913.4h68.3v2h-68.3z"/>
<path fill="#FFFFFF" fill-opacity="0.1" d="M186 324h2v165.4h-2zM186 495h2v42h-2zM235.8 324h1.8v165.4h-1.8zM243.6 794.7h3v176.6h-3zM320.2 794.7h1.8v176.6h-1.8zM341.6 794.7h1.8v176.6h-1.8zM355.4 123h1v195h-1zM381.2 123h1.4v195h-1.4zM381.2 324h1.4v165.4h-1.4zM381.2 794.7h1.4v176.6h-1.4zM382.6 123h2.4v195h-2.4zM385 495h2.4v42h-2.4zM385 794.7h2.4v176.6h-2.4zM416.6 324h3v165.4h-3zM515.6 495h2v42h-2zM552.4 123h2v195h-2zM552.4 542.5h2v246.5h-2zM556.4 495h2v42h-2zM556.4 794.7h2v176.6h-2zM560.2 123h0.5v195h-0.5zM588 123h2v195h-2zM610 324h4v165.4h-4zM625.4 123h1.4v195h-1.4zM658.8 324h1v165.4h-1zM659.8 495h1.8v42h-1.8zM708.6 123h2.4v195h-2.4zM708.6 324h2.4v165.4h-2.4zM708.6 495h2.4v42h-2.4zM708.6 794.7h2.4v176.6h-2.4zM711 324h1.8v165.4h-1.8zM711 495h1.8v42h-1.8zM711 794.7h1.8v176.6h-1.8zM782.8 542.5h2v246.5h-2zM782.8 794.7h2v176.6h-2zM842 324h1v165.4h-1zM842 794.7h1v176.6h-1zM877.8 495h2.4v42h-2.4zM877.8 794.7h2.4v176.6h-2.4zM899.8 542.5h2.4v246.5h-2.4zM899.8 794.7h2.4v176.6h-2.4zM940.2 123h3v195h-3zM974.8 794.7h4v176.6h-4zM986.6 495h1.4v42h-1.4zM994.4 495h2v42h-2zM994.4 542.5h2v246.5h-2zM999.4 123h4v195h-4zM1003.4 123h2v195h-2zM1003.4 495h2v42h-2zM1023.6 324h2v165.4h-2zM1063 542.5h1.8v246.5h-1.8zM1077.2 542.5h2.4v246.5h-2.4zM1106.4 542.5h2v246.5h-2zM1146.2 794.7h1.8v176.6h-1.8zM1153.4 324h2v165.4h-2zM1153.4 794.7h2v176.6h-2zM1191.6 794.7h2v176.6h-2zM1201 123h1.8v195h-1.8zM1201 324h1.8v165.4h-1.8zM1201 542.5h1.8v246.5h-1.8zM1246.8 495h1.4v42h-1.4zM1246.8 542.5h1.4v246.5h-1.4zM1248.2 542.5h3v246.5h-3zM1309.2 324h4v165.4h-4zM1309.2 542.5h4v246.5h-4zM1322.6 794.7h2v176.6h-2zM1345.6 324h2v165.4h-2zM1485 324h4v165.4h-4zM1500.6 495h1.4v42h-1.4zM1503 123h4v195h-4zM1533 495h2v42h-2zM1540.4 542.5h2v246.5h-2zM1566 542.5h2.4v246.5h-2.4zM1573.4 542.5h2v246.5h-2zM1575.4 123h1.4v195h-1.4zM1575.4 542.5h1.4v246.5h-1.4zM1575.4 794.7h1.4v176.6h-1.4zM1576.8 794.7h1v176.6h-1zM1619.2 542.5h3v246.5h-3zM1675.2 324h1.8v165.4h-1.8zM1723.6 542.5h1.4v246.5h-1.4zM1723.6 794.7h1.4v176.6h-1.4zM185 829.8h68.3v3.6h-68.3z"/>
<path fill="#FFFFFF" fill-opacity="0.12" d="M365.6 123h1v195h-1zM382.6 794.7h2.4v176.6h-2.4zM552.4 324h2v165.4h-2zM556.4 324h2v165.4h-2zM560.2 324h0.5v165.4h-0.5zM560.2 542.5h0.5v246.5h-0.5zM628.8 794.7h1.4v176.6h-1.4zM711 123h1.8v195h-1.8zM1063 495h1.8v42h-1.8zM1063 794.7h1.8v176.6h-1.8zM1309.2 123h4v195h-4zM1309.2 495h4v42h-4zM1500.6 542.5h1.4v246.5h-1.4zM1503 542.5h4v246.5h-4zM1566 123h2.4v195h-2.4zM1573.4 794.7h2v176.6h-2zM1575.4 324h1.4v165.4h-1.4z"/>
<path fill="#FFFFFF" fill-opacity="0.14" d="M711 542.5h1.8v246.5h-1.8z"/>
</g>
<g shape-rendering="crispEdges" fill="#fff">
<rect x="252.3" y="110" width="7.7" height="874.3"/>
<rect x="560.7" y="110" width="7.1" height="874.3"/>
<rect x="834.5" y="110" width="7.5" height="874.3"/>
<rect x="1093.3" y="110" width="7.7" height="874.3"/>
<rect x="1526.2" y="110" width="6.8" height="874.3"/>
<rect x="172" y="317" width="1612" height="8"/>
<rect x="172" y="488.4" width="1612" height="7.6"/>
<rect x="172" y="536" width="1612" height="7.5"/>
<rect x="172" y="788" width="1612" height="7.7"/>
<rect x="172" y="110" width="1612" height="14"/>
<rect x="172" y="970.3" width="1612" height="14"/>
<rect x="172" y="110" width="14" height="874.3"/>
<rect x="1770" y="110" width="14" height="874.3"/>
</g>
<g shape-rendering="crispEdges">
<path fill="#4CB08E" d="M186 99.1H216.2V118.1H186ZM220.5 99.1H222.3V118.1H220.5ZM227 99.1H229.4V118.1H227ZM404.7 99.1H407.3V118.1H404.7ZM409 99.1H410.8V118.1H409ZM429.9 99.1H431.9V118.1H429.9ZM567.8 99.1H607.9V118.1H567.8ZM612.8 99.1H715.1V118.1H612.8ZM723.6 99.1H764V118.1H723.6ZM766.6 99.1H772.6V118.1H766.6ZM777.1 99.1H796.1V118.1H777.1ZM813.1 99.1H815.6V118.1H813.1ZM819.9 99.1H823.6V118.1H819.9ZM826.4 99.1H834.5V118.1H826.4ZM891 99.1H897.1V118.1H891ZM901.5 99.1H905.7V118.1H901.5ZM907.9 99.1H911.6V118.1H907.9ZM914.5 99.1H916.5V118.1H914.5ZM931.6 99.1H947.5V118.1H931.6ZM952 99.1H954.4V118.1H952ZM958.9 99.1H973.7V118.1H958.9ZM982.4 99.1H1012.4V118.1H982.4ZM1015 99.1H1019V118.1H1015ZM1021.1 99.1H1023.4V118.1H1021.1ZM1038 99.1H1049.3V118.1H1038ZM1072.5 99.1H1074.6V118.1H1072.5ZM1076.8 99.1H1078.6V118.1H1076.8ZM1085 99.1H1091V118.1H1085ZM1201.2 99.1H1204.2V118.1H1201.2ZM1234.7 99.1H1239.4V118.1H1234.7ZM1282.2 99.1H1321.1V118.1H1282.2ZM1349.8 99.1H1353.6V118.1H1349.8ZM1356.8 99.1H1358.8V118.1H1356.8ZM1365.3 99.1H1368.1V118.1H1365.3ZM1377.4 99.1H1385.4V118.1H1377.4ZM1549.7 99.1H1564.8V118.1H1549.7ZM1567.2 99.1H1573.4V118.1H1567.2ZM1575.5 99.1H1590.1V118.1H1575.5ZM1594.3 99.1H1598.4V118.1H1594.3ZM1604.7 99.1H1611.8V118.1H1604.7ZM1613.2 99.1H1644.4V118.1H1613.2ZM1646.2 99.1H1648V118.1H1646.2ZM1649.8 99.1H1653.9V118.1H1649.8ZM1655.8 99.1H1690.8V118.1H1655.8ZM1692.7 99.1H1707.6V118.1H1692.7ZM1709.7 99.1H1713.3V118.1H1709.7ZM1715.7 99.1H1734V118.1H1715.7ZM1745.9 99.1H1754.6V118.1H1745.9ZM1757 99.1H1761.6V118.1H1757Z"/>
<path fill="#FBC41F" d="M216 99.1H220.7V118.1H216ZM222.1 99.1H227.2V118.1H222.1ZM243.9 99.1H252.3V118.1H243.9ZM260 99.1H296V118.1H260ZM297.9 99.1H308.7V118.1H297.9ZM313.2 99.1H314.6V118.1H313.2ZM324.9 99.1H327.9V118.1H324.9ZM332 99.1H339.2V118.1H332ZM344.9 99.1H355.6V118.1H344.9ZM387.1 99.1H404.9V118.1H387.1ZM407.1 99.1H409.2V118.1H407.1ZM410.6 99.1H413.2V118.1H410.6ZM428.2 99.1H430.1V118.1H428.2ZM454 99.1H494.1V118.1H454ZM501 99.1H503.5V118.1H501ZM505.2 99.1H511.7V118.1H505.2ZM513.2 99.1H517.6V118.1H513.2ZM519.8 99.1H535.2V118.1H519.8ZM549.8 99.1H554V118.1H549.8ZM556.2 99.1H560.7V118.1H556.2ZM607.7 99.1H613V118.1H607.7ZM714.9 99.1H723.8V118.1H714.9ZM763.8 99.1H766.8V118.1H763.8ZM772.4 99.1H777.3V118.1H772.4ZM823.4 99.1H826.6V118.1H823.4ZM842 99.1H891.2V118.1H842ZM905.5 99.1H908.1V118.1H905.5ZM911.4 99.1H914.7V118.1H911.4ZM919.2 99.1H921V118.1H919.2ZM923.1 99.1H931.8V118.1H923.1ZM954.2 99.1H959.1V118.1H954.2ZM1012.2 99.1H1015.2V118.1H1012.2ZM1018.8 99.1H1021.3V118.1H1018.8ZM1065 99.1H1072.7V118.1H1065ZM1074.4 99.1H1077V118.1H1074.4ZM1078.4 99.1H1085.2V118.1H1078.4ZM1090.8 99.1H1093.3V118.1H1090.8ZM1211.3 99.1H1213.8V118.1H1211.3ZM1239.2 99.1H1241.7V118.1H1239.2ZM1245.3 99.1H1248.3V118.1H1245.3ZM1261 99.1H1263.1V118.1H1261ZM1266.9 99.1H1274.1V118.1H1266.9ZM1353.4 99.1H1357V118.1H1353.4ZM1533 99.1H1539.5V118.1H1533ZM1540.9 99.1H1545.5V118.1H1540.9ZM1598.2 99.1H1601V118.1H1598.2ZM1644.2 99.1H1646.4V118.1H1644.2ZM1647.8 99.1H1650V118.1H1647.8ZM1707.4 99.1H1709.9V118.1H1707.4ZM1713.1 99.1H1715.9V118.1H1713.1ZM1739.4 99.1H1746.1V118.1H1739.4Z"/>
<path fill="#875B9E" d="M229.2 99.1H231.7V118.1H229.2ZM447 99.1H450.7V118.1H447ZM493.9 99.1H501.2V118.1H493.9ZM503.3 99.1H505.4V118.1H503.3ZM511.5 99.1H513.4V118.1H511.5ZM535 99.1H550V118.1H535ZM553.8 99.1H556.4V118.1H553.8ZM795.9 99.1H813.3V118.1H795.9ZM815.4 99.1H820.1V118.1H815.4ZM947.3 99.1H952.2V118.1H947.3ZM973.5 99.1H980.7V118.1H973.5ZM1049.1 99.1H1065.2V118.1H1049.1ZM1101 99.1H1201.4V118.1H1101ZM1204 99.1H1211.5V118.1H1204ZM1213.6 99.1H1234.9V118.1H1213.6ZM1241.5 99.1H1245.5V118.1H1241.5ZM1248.1 99.1H1261.2V118.1H1248.1ZM1262.9 99.1H1267.1V118.1H1262.9ZM1277.5 99.1H1279.3V118.1H1277.5ZM1320.9 99.1H1345V118.1H1320.9ZM1344.6 99.1H1350V118.1H1344.6ZM1358.6 99.1H1365.5V118.1H1358.6ZM1367.9 99.1H1377.6V118.1H1367.9ZM1385.2 99.1H1526.2V118.1H1385.2ZM1539.3 99.1H1541.1V118.1H1539.3ZM1545.3 99.1H1549.9V118.1H1545.3ZM1564.6 99.1H1567.4V118.1H1564.6ZM1573.2 99.1H1575.7V118.1H1573.2ZM1589.9 99.1H1594.5V118.1H1589.9ZM1600.8 99.1H1604.9V118.1H1600.8ZM1653.7 99.1H1656V118.1H1653.7ZM1690.6 99.1H1692.9V118.1H1690.6ZM1733.8 99.1H1739.6V118.1H1733.8ZM1754.4 99.1H1757.2V118.1H1754.4ZM1761.4 99.1H1770V118.1H1761.4Z"/>
<path fill="#E6605F" d="M231.5 99.1H237.1V118.1H231.5ZM295.8 99.1H298.1V118.1H295.8ZM310.8 99.1H313.4V118.1H310.8ZM314.4 99.1H325.1V118.1H314.4ZM327.7 99.1H332.2V118.1H327.7ZM339 99.1H345.1V118.1H339ZM355.4 99.1H368.6V118.1H355.4ZM370 99.1H372.1V118.1H370ZM374.2 99.1H387.3V118.1H374.2ZM413 99.1H428.4V118.1H413ZM435.3 99.1H447.2V118.1H435.3ZM450.5 99.1H454.2V118.1H450.5ZM517.4 99.1H520V118.1H517.4ZM896.9 99.1H901.7V118.1H896.9ZM916.3 99.1H919.4V118.1H916.3ZM920.8 99.1H923.3V118.1H920.8ZM980.5 99.1H982.6V118.1H980.5ZM1023.2 99.1H1038.2V118.1H1023.2ZM1273.9 99.1H1277.7V118.1H1273.9ZM1279.1 99.1H1282.4V118.1H1279.1Z"/>
<path fill="#A8ABAD" d="M236.9 99.1H244.1V118.1H236.9ZM308.5 99.1H311V118.1H308.5ZM368.4 99.1H370.2V118.1H368.4ZM371.9 99.1H374.4V118.1H371.9ZM431.7 99.1H435.5V118.1H431.7ZM1611.6 99.1H1613.4V118.1H1611.6Z"/>
<rect x="162.6" y="124" width="18.4" height="193" fill="#EC5E6C"/>
<rect x="162.6" y="303" width="18.4" height="6.6" fill="#243E78"/>
<rect x="162.6" y="325" width="18.4" height="163.4" fill="#243E78"/>
<rect x="162.6" y="357.5" width="18.4" height="3.7" fill="#E9E67C"/>
<rect x="162.6" y="368" width="18.4" height="3.5" fill="#A8ABAD"/>
<rect x="162.6" y="387" width="18.4" height="3.2" fill="#A8ABAD"/>
<rect x="162.6" y="394" width="18.4" height="3.7" fill="#E9E67C"/>
<rect x="162.6" y="397.7" width="18.4" height="7.1" fill="#834B25"/>
<rect x="162.6" y="412" width="18.4" height="6.8" fill="#E9E67C"/>
<rect x="162.6" y="496" width="18.4" height="40" fill="#243E78"/>
<rect x="162.6" y="543.5" width="18.4" height="244.5" fill="#243E78"/>
<rect x="162.6" y="548" width="18.4" height="3" fill="#A8ABAD"/>
<rect x="162.6" y="613.2" width="18.4" height="3" fill="#A8ABAD"/>
<rect x="162.6" y="730.6" width="18.4" height="3" fill="#A8ABAD"/>
<rect x="162.6" y="795.7" width="18.4" height="174.6" fill="#243E78"/>
<rect x="162.6" y="825.4" width="18.4" height="2.8" fill="#A8ABAD"/>
<rect x="162.6" y="861.2" width="18.4" height="3.8" fill="#EC5E6C"/>
<rect x="162.6" y="898.4" width="18.4" height="10.3" fill="#A4D5F0"/>
<rect x="162.6" y="919.5" width="18.4" height="50.8" fill="#EC5E6C"/>
<rect x="162.6" y="956.5" width="18.4" height="3.1" fill="#243E78"/>
</g>
<path fill="none" stroke="#000" stroke-width="2.6" stroke-linejoin="miter" stroke-linecap="butt" d="M301 59.4V2.6H1154.6V29.9M211 84V59.4H383.6V76.5M194.6 93V84H227.5V86.4M217 93V86.4H240V93M294.4 85.2V76.5H471.6V80.5M276.8 93V85.2H312V93M430.6 88V80.5H512.7V86M406 93V88H468V93M495 93V86H529V93M849.8 59.4V29.9H1451.9V49M729 80V59.4H964.5V74.8M670 87.6V80H788.2V86M623.4 93V87.6H715V93M763 93V86H813.5V89M804 93V89H823V93M893.3 82.9V74.8H1034.5V80.5M856.2 93V82.9H930.9V88M909.8 93V88H951V93M1004 88V80.5H1065.5V88M982.9 93V88H1020V93M1052.6 93V88H1078V93M1278.8 77V49H1631.5V75.2M1196 83.3V77H1361.5V81.3M1157 89V83.3H1236.2V88M1129 93V89H1184V93M1217 93V88H1267V93M1319.2 88.5V81.3H1403.5V86M1297.8 93V88.5H1340.4V93M1363.8 93V86H1442.5V91.3M1409.7 94V91.3H1451V94M1564.1 83.5V75.2H1698.4V80.5M1538.3 94V83.5H1590V89M1575 93V89H1610V93M1671.8 90V80.5H1725.2V88M1655 93V90H1690V93M1709.2 93V88H1740.2V93"/>
<path fill="#000" d="M185.2 97.9 L185.2 94.4 L186.4 92.9 L188.2 91.4 L193.2 87.7 L197.8 89.6 L203 91.1 L207.8 89.1 L213.8 91.5 L217.7 91.5 L223.8 88.8 L226.5 87.5 L233.4 89 L238.6 91.2 L241.2 89.5 L244 91 L247.6 92.3 L251.9 92.9 L253.1 94.4 L253.1 97.9 Z"/>
<path fill="#fff" d="M214.4 90.3l9.1 0l-4.5 2.7zM223.6 90.3l7 0l-3.5 2.9z"/>
<path fill="#000" d="M259.2 97.9 L259.2 94.4 L260.4 92.9 L262.2 91.4 L266 87.9 L272.9 88.1 L278.6 90.5 L282.2 90.6 L285 88.5 L289.3 88.1 L293.5 87.6 L299.8 91.9 L303.3 87.8 L307.9 87.5 L312.2 91.6 L317.5 88.4 L321.2 91.5 L325.2 87.6 L331.1 91.4 L334.7 91.4 L337.5 88.3 L340.8 89.4 L345.3 91 L351.1 91.3 L356.5 91.4 L360.9 90.9 L364.6 87.5 L370.7 90.5 L377.2 91 L381.5 88.1 L386.9 91.4 L393.8 90.9 L397.5 88.4 L401.5 90.6 L404.3 91.5 L409.4 90.8 L414.6 90.2 L419.2 87.6 L423.8 89.3 L430.2 91.1 L433.4 87.8 L439.6 90.8 L443 88.6 L449.7 91 L456.5 87.9 L461.7 90 L464.7 91.7 L471.5 90.8 L477.2 90.7 L483.4 89.2 L487.2 91.1 L492.9 91.6 L496.5 89.4 L502.8 89.1 L506.6 87.8 L510 91.8 L513.7 89.9 L516.5 91.1 L520.6 89.3 L523.7 90.3 L530.2 87.5 L535.7 88.8 L540.8 91.3 L543.5 91.8 L550.1 88.7 L556.9 92.6 L560.3 92.9 L561.5 94.4 L561.5 97.9 Z"/>
<path fill="#fff" d="M403.4 90.3l8.4 0l-4.2 2.4zM548.5 90.3l4.5 0l-2.2 2.8zM474.9 90.3l9.4 0l-4.7 3zM465.5 90.3l8.8 0l-4.4 3.3zM366.8 90.3l8.1 0l-4.1 3.3zM512.5 90.3l6.5 0l-3.3 3.1zM510.4 90.3l7.4 0l-3.7 2.9zM375.3 90.3l7.5 0l-3.7 2.9zM290.5 90.3l7.8 0l-3.9 3.4zM515 90.3l8.4 0l-4.2 2.5z"/>
<path fill="#000" d="M567 97.9 L567 94.4 L568.2 92.9 L570 90.3 L575.1 89.9 L581.4 91.5 L587.3 91.8 L592.5 89.7 L596 88.8 L600.7 89.1 L607.4 90.7 L609.9 90.5 L615.5 91 L618.8 87.8 L624.2 89.9 L630.7 90.4 L636.2 91 L640.7 88.3 L647.3 87.9 L651.5 89.3 L655.4 91.3 L660.2 88.1 L666.5 88.7 L673.3 90.7 L676.5 89.9 L680.3 90.9 L684.6 89.1 L689.3 90.5 L695.6 87.5 L700.2 91.6 L702.8 88 L705.5 88.7 L710.6 90.5 L716.6 91.8 L719.7 89.9 L722.3 88.2 L725.9 91.3 L728.6 89.1 L733.1 89.1 L738.6 88.3 L745.4 88.8 L748.8 89.8 L752.1 91.9 L756.7 88.7 L760 90.7 L764.1 88.8 L768.9 89.1 L774.8 90.1 L780.9 87.8 L783.8 87.7 L789.5 91.3 L794.1 89.1 L800.7 90.2 L805.7 87.9 L811.8 87.7 L816.4 89 L819.8 88.7 L826 89 L831.7 92.1 L834.1 92.9 L835.3 94.4 L835.3 97.9 Z"/>
<path fill="#fff" d="M817.7 90.3l9.9 0l-4.9 2.8zM770.9 90.3l5.9 0l-3 3.3zM786.9 90.3l6.1 0l-3 2.1zM684.6 90.3l7.3 0l-3.7 3.1zM696.1 90.3l4.2 0l-2.1 3.1zM591.6 90.3l8.8 0l-4.4 2.2zM658.4 90.3l8.7 0l-4.4 2.2zM612.5 90.3l7.1 0l-3.5 3zM783 90.3l8.1 0l-4.1 3.3z"/>
<path fill="#000" d="M841.2 97.9 L841.2 94.4 L842.4 92.9 L844.2 91.2 L851 91.5 L854.5 89.5 L858.3 88.6 L863.6 89.5 L869.9 89.4 L873.8 90.2 L880.2 87.8 L883.6 88.1 L890.4 89.5 L895.5 91 L900.4 89.6 L905.7 91.8 L912.5 89.6 L916.8 88.3 L921.9 89.7 L927.5 91.6 L932.4 90 L939.2 87.7 L942.9 89.8 L946 89.9 L952.2 87.8 L956.8 90.5 L960.2 89.1 L966.8 91.3 L972.8 91.8 L976.2 90.9 L981.8 90.5 L985.9 89.1 L988.9 88.6 L991.9 89.6 L995.5 91 L1000.4 89.9 L1004.6 90 L1009.5 91.2 L1012.9 89.1 L1018.3 89.5 L1024.6 89.1 L1031 90.9 L1036.8 88.3 L1043.4 90.5 L1047.3 87.7 L1050.8 87.4 L1057.3 91.3 L1060.8 88.6 L1064.5 91.5 L1070.8 90 L1076.8 91.3 L1081.1 88.8 L1083.7 91 L1089.3 89 L1092.9 92.9 L1094.1 94.4 L1094.1 97.9 Z"/>
<path fill="#fff" d="M876.7 90.3l7 0l-3.5 3.1zM966.3 90.3l8.1 0l-4.1 2.3zM866.3 90.3l4.6 0l-2.3 2.1zM977.6 90.3l7.1 0l-3.5 2.8zM883.9 90.3l5.1 0l-2.6 2.3zM1044.3 90.3l9.9 0l-5 3.3zM872 90.3l4.4 0l-2.2 3.3zM956.9 90.3l8.6 0l-4.3 2.5z"/>
<path fill="#000" d="M1100.2 97.9 L1100.2 94.4 L1101.4 92.9 L1103.2 91.3 L1108 90 L1113.2 91.8 L1118.9 88.1 L1122.2 89.9 L1128 90.1 L1131.4 91.2 L1136.2 91.8 L1142.7 88.3 L1148.4 88 L1153.7 90.1 L1158.9 89.6 L1165.8 88.3 L1169.5 87.8 L1175.4 88.4 L1181.5 90.1 L1188.1 87.9 L1193.7 88.4 L1199.6 90.1 L1205.4 91.6 L1209.4 89.8 L1212 90.3 L1217.3 89.1 L1220.9 87.6 L1226.4 90.4 L1231.9 89.3 L1236.8 90.1 L1243.8 89 L1249.4 88.5 L1256.3 91.8 L1261.6 88.6 L1265.2 90.1 L1268 91 L1272.2 91.5 L1275.8 87.8 L1280.8 89.6 L1287.6 89.3 L1294.6 89 L1300.7 91.6 L1305.9 88.5 L1308.6 87.7 L1311.8 89.8 L1315.1 89.7 L1320.4 91.6 L1327.1 90 L1332 89.2 L1336.1 90.6 L1341.6 89.4 L1345.4 88.7 L1349.2 91.8 L1352.8 91.7 L1356 88.5 L1360.2 87.9 L1366.1 91.7 L1373.1 87.6 L1375.9 87.8 L1380.3 89.8 L1387.2 90.8 L1392.1 87.7 L1397.8 89.8 L1404.7 88.2 L1409.9 91.4 L1415.2 89.8 L1418.7 91.7 L1423.5 91.3 L1428 88.9 L1432.6 90.7 L1437.7 90 L1443.7 89.5 L1450.7 87.6 L1456.5 90.8 L1459.5 87.9 L1465.5 89.1 L1469.7 90.7 L1475.2 89.4 L1480.4 89.1 L1486.3 91 L1489.9 87.5 L1496.5 87.9 L1499.2 91.6 L1502.9 90 L1508.2 91.4 L1513.2 91.6 L1516.1 88.9 L1521 89.7 L1525.8 92.9 L1527 94.4 L1527 97.9 Z"/>
<path fill="#fff" d="M1302.9 90.3l5.3 0l-2.6 2.5zM1410.8 90.3l9 0l-4.5 2.1zM1157.5 90.3l8.9 0l-4.4 2.9zM1420.5 90.3l5.3 0l-2.6 2.6zM1213.6 90.3l8.9 0l-4.4 2.5zM1373.9 90.3l9.9 0l-5 2.5zM1331.3 90.3l8.5 0l-4.2 3.3zM1282.3 90.3l6.2 0l-3.1 2.1zM1463.6 90.3l4.5 0l-2.2 2.1zM1337.6 90.3l6.9 0l-3.5 3zM1230.1 90.3l8.7 0l-4.3 2.1zM1195.4 90.3l8 0l-4 2.1zM1232.1 90.3l8.3 0l-4.2 3zM1223.6 90.3l4.9 0l-2.4 2.5zM1403.2 90.3l6.2 0l-3.1 2.2z"/>
<path fill="#000" d="M1532.2 97.9 L1532.2 94.4 L1533.4 92.9 L1535.2 90.4 L1540.3 87.8 L1547 87.8 L1551.5 88.3 L1555.3 90.5 L1559.6 87.7 L1566.2 90.8 L1570.3 90.3 L1574.4 90.1 L1578.7 91 L1583.7 88.3 L1588.6 88.1 L1593.7 91.1 L1599.6 87.9 L1603.3 91.8 L1608.2 89.5 L1613.2 87.6 L1618.7 88.3 L1621.4 89.4 L1627.5 91.5 L1630.4 88.6 L1636.9 91.5 L1642.3 91.3 L1648.1 89 L1651.7 90.9 L1657.7 89.6 L1663.6 90.1 L1667.6 87.5 L1673.1 89.7 L1678.1 88.7 L1683.8 87.8 L1688.1 88.2 L1693.6 88.1 L1699.7 88.1 L1706.2 87.6 L1711.6 89.5 L1717.3 88.3 L1721.7 90 L1724.9 88.6 L1731.8 90.2 L1735.1 91 L1739.5 90.6 L1746.3 91.6 L1750.2 91.4 L1755.7 88.4 L1759 91.6 L1763.5 89.5 L1769.6 92.9 L1770.8 94.4 L1770.8 97.9 Z"/>
<path fill="#fff" d="M1548.9 90.3l4.7 0l-2.3 2.3zM1588.2 90.3l5.4 0l-2.7 3zM1670.1 90.3l5.3 0l-2.7 2.3zM1602 90.3l5 0l-2.5 3.1zM1608.6 90.3l7.3 0l-3.6 3.1zM1645 90.3l5.6 0l-2.8 3.2zM1739.4 90.3l6.1 0l-3 2.8zM1748.7 90.3l6.9 0l-3.4 2.3z"/>
<path fill="none" stroke="#000" stroke-width="2.6" stroke-linejoin="miter" d="M104.5 295H64.6V632.5H101.2M141 205.4H104.5V394H121M156 149.6H141V260H146M156 232H146V290.5H150M156 281.7H150V305H156M156 138H151V160H156M156 176H150V200H156M156 212H149V250H156M145.8 354.3H121V433.5H139.4M156 331.7H145.8V377.8H150M156 366H150V388H156M150 408H139.4V458.5H148M156 400H150V416H156M156 446H148V472H156M149.6 515H101.2V743.2H120.3M156 505H149.6V527H156M143 623.5H120.3V868.5H130M148.5 577.3H143V668H146.3M156 560H148.5V597H156M156 638H146.3V698H151M156 678H151V722H156M156 610H151.5V630H156M156 735H150.5V765H156M146.7 824.5H130V914H145.2M156 807H146.7V852H152M156 838H152V866H156M150 889H145.2V923H148M156 878H150V900H156M156 912H148V946H156"/>
<path fill="#000" d="M161.4 123.2 L157.9 123.2 L156.4 124.4 L157.6 127 L153.3 133.8 L154.5 138 L155.7 142.8 L153.9 149.8 L156.9 153.3 L155.2 158 L153.7 164.1 L156.2 169.3 L155.5 172.5 L153 176.2 L154 181 L155.7 187.9 L156.2 192.9 L156.9 198.8 L153.1 205 L156.5 211.2 L153.7 214.9 L154.7 217.9 L152.6 222.5 L153 227.6 L153.3 231.5 L152.8 235.9 L153.2 238.8 L154.5 242.2 L156.2 247.1 L155.5 253.3 L156.6 257.2 L154.8 261.1 L155.3 266.8 L156.4 272.4 L154.8 276.7 L153.2 283.5 L156.8 289 L153.7 293.2 L154.4 296.7 L156.9 301.3 L153.3 308.3 L154.9 311.7 L156.4 316.6 L157.9 317.8 L161.4 317.8 Z"/>
<path fill="#fff" d="M154.8 197l0 6.7l2.5 -3.3zM154.8 190.4l0 6l3.1 -3zM154.8 176.4l0 5l3.2 -2.5zM154.8 189l0 8.7l2.9 -4.4zM154.8 257.2l0 5.7l3.3 -2.8zM154.8 148l0 4.7l2.2 -2.4zM154.8 249.2l0 7.5l2.3 -3.8zM154.8 201.6l0 8.2l2.9 -4.1z"/>
<path fill="#000" d="M161.4 324.2 L157.9 324.2 L156.4 325.4 L157.4 328 L156.5 331.5 L155.1 334.6 L152.8 337.4 L154.6 341.8 L153.4 347.2 L155.2 353.4 L155 357.4 L155.1 360 L152.5 365.6 L153.9 371.7 L156.8 376.9 L155.4 380.9 L156.4 386.4 L154.6 390.6 L153.2 396.6 L156.2 401.9 L152.8 407.8 L155.3 412.8 L156.3 417.5 L152.5 423.2 L153.7 428.1 L156 434.3 L154.1 441.1 L156.5 444.5 L154.3 448.1 L155.4 453.7 L155.3 460.4 L156.3 465 L156.3 471.8 L154.5 478.4 L155.2 483.4 L156.4 488 L157.9 489.2 L161.4 489.2 Z"/>
<path fill="#fff" d="M154.8 463.4l0 9l3.3 -4.5zM154.8 419.3l0 4.6l3.3 -2.3zM154.8 374.4l0 8.5l2.4 -4.2zM154.8 415.3l0 8.2l2.3 -4.1zM154.8 411.6l0 4.4l2.1 -2.2zM154.8 358.8l0 8.9l3.5 -4.5zM154.8 427.4l0 5.5l3.1 -2.8z"/>
<path fill="#000" d="M161.4 495.2 L157.9 495.2 L156.4 496.4 L155 499 L154.4 503.2 L156.8 509.3 L154.8 512.7 L155.2 515.9 L156.1 520.9 L155.7 525.8 L156 530.8 L156.4 535.6 L157.9 536.8 L161.4 536.8 Z"/>
<path fill="#fff" d="M154.8 504.8l0 7.4l2.2 -3.7z"/>
<path fill="#000" d="M161.4 542.7 L157.9 542.7 L156.4 543.9 L154.2 546.5 L154.8 551.7 L154.1 556.1 L153.5 561.7 L154.7 567.5 L153.1 574.5 L155.1 580.9 L154.4 585.3 L154.5 591.9 L155 596.7 L155.5 603.3 L153.6 606.1 L153.6 612.6 L153.5 617.8 L154.2 621.7 L156.3 624.5 L154.6 629 L156.7 633.3 L154.5 638.9 L155.5 642.5 L155.8 646.8 L152.8 649.6 L153.9 656.4 L155 662.8 L155.9 668.9 L154.3 674.8 L156.5 681.4 L156.3 687.4 L152.6 692.4 L155.8 694.9 L155.4 698.7 L152.9 701.5 L155.1 707.7 L154.3 711.8 L156.8 714.5 L155.5 721 L152.7 725.8 L154.8 732.7 L155.6 736.1 L152.9 742.7 L153.1 746.1 L154.8 750.2 L152.9 753.5 L156 760.5 L156 765.8 L156.7 772.3 L153.6 775.2 L152.8 779.2 L156.4 787.6 L157.9 788.8 L161.4 788.8 Z"/>
<path fill="#fff" d="M154.8 711.6l0 4.7l3.1 -2.3zM154.8 762l0 6.2l2.1 -3.1zM154.8 601.6l0 5.5l3.1 -2.8zM154.8 595.6l0 4.9l2.4 -2.5zM154.8 700.7l0 8l2.6 -4zM154.8 700.1l0 8.4l2.9 -4.2zM154.8 602.9l0 5.5l3.5 -2.8zM154.8 701.2l0 5.4l3 -2.7zM154.8 571.7l0 8.9l2.7 -4.5zM154.8 670.1l0 6.7l2.1 -3.3zM154.8 686.1l0 5.4l2.4 -2.7z"/>
<path fill="#000" d="M161.4 794.9 L157.9 794.9 L156.4 796.1 L154.8 798.7 L156.1 801.6 L155.8 807.5 L154.4 811.2 L152.9 814.6 L156.7 821.5 L153.5 826.1 L152.7 830.3 L156.1 835.1 L154 840.1 L153.9 844.2 L154.6 850.2 L153.1 855 L154.6 860.6 L156.1 867.4 L156.2 873.4 L155.8 878.6 L153.4 883.1 L153.3 889.1 L154.7 892.7 L154.3 896.2 L156.7 900.9 L153.7 906.1 L153 911.2 L156.2 914.5 L154.7 917.1 L154.9 921.5 L153.3 925.2 L152.8 928.1 L154.5 933.1 L155.8 939.2 L155.5 942.3 L155.5 945 L154.5 950.3 L154.3 954 L153.2 956.9 L155.8 960.2 L154.1 963.4 L156.4 969.9 L157.9 971.1 L161.4 971.1 Z"/>
<path fill="#fff" d="M154.8 925.3l0 4.3l2.7 -2.2zM154.8 860l0 5.1l3.6 -2.5zM154.8 810.2l0 6.4l3.2 -3.2zM154.8 956.2l0 4.7l2.7 -2.4zM154.8 918.9l0 4.2l2.4 -2.1zM154.8 941.3l0 4.7l2.6 -2.4zM154.8 849.8l0 6.1l2.1 -3.1z"/>
<text x="0.2" y="16.2" font-size="28.5" font-weight="bold" fill="#000">a</text>
<text x="-0.8" y="1160" font-size="30" font-weight="bold" fill="#000">b</text>
<rect x="1782.6" y="124.2" width="30.8" height="192.5" fill="#EEF0AF" stroke="#000" stroke-width="2"/>
<text transform="translate(1788.6 204.4) rotate(90)" font-size="27.1" text-anchor="middle" fill="#000">cluster1</text>
<rect x="1782.6" y="325.8" width="30.8" height="161.4" fill="#EEF0AF" stroke="#000" stroke-width="2"/>
<text transform="translate(1788.6 404.7) rotate(90)" font-size="27.1" text-anchor="middle" fill="#000">cluster2</text>
<rect x="1782.6" y="496.8" width="30.8" height="38.4" fill="#EEF0AF" stroke="#000" stroke-width="2"/>
<text transform="translate(1788.6 515.4) rotate(90)" font-size="27.1" text-anchor="middle" fill="#000">c3</text>
<rect x="1782.6" y="544.4" width="30.8" height="243" fill="#EEF0AF" stroke="#000" stroke-width="2"/>
<text transform="translate(1788.6 664.4) rotate(90)" font-size="27.1" text-anchor="middle" fill="#000">cluster4</text>
<rect x="1782.6" y="796.8" width="30.8" height="172.8" fill="#EEF0AF" stroke="#000" stroke-width="2"/>
<text transform="translate(1788.6 880.4) rotate(90)" font-size="27.1" text-anchor="middle" fill="#000">cluster5</text>
<rect x="187" y="980.8" width="63.1" height="30.7" fill="#C6DBEF" stroke="#0A1622" stroke-width="1.8"/>
<text x="214.7" y="1005.4" font-size="26.9" text-anchor="middle" fill="#0A1622">c1</text>
<rect x="261" y="980.8" width="297.5" height="30.7" fill="#C6DBEF" stroke="#0A1622" stroke-width="1.8"/>
<text x="406.8" y="1005.4" font-size="26.9" text-anchor="middle" fill="#0A1622">cluster2</text>
<rect x="570.5" y="980.8" width="261.8" height="30.7" fill="#C6DBEF" stroke="#0A1622" stroke-width="1.8"/>
<text x="692.8" y="1005.4" font-size="26.9" text-anchor="middle" fill="#0A1622">cluster3</text>
<rect x="843" y="980.8" width="248.1" height="30.7" fill="#C6DBEF" stroke="#0A1622" stroke-width="1.8"/>
<text x="964.1" y="1005.4" font-size="26.9" text-anchor="middle" fill="#0A1622">cluster4</text>
<rect x="1102" y="980.8" width="422" height="30.7" fill="#C6DBEF" stroke="#0A1622" stroke-width="1.8"/>
<text x="1307.9" y="1005.4" font-size="26.9" text-anchor="middle" fill="#0A1622">cluster5</text>
<rect x="1534" y="980.8" width="233.8" height="30.7" fill="#C6DBEF" stroke="#0A1622" stroke-width="1.8"/>
<text x="1650.1" y="1005.4" font-size="26.9" text-anchor="middle" fill="#0A1622">cluster6</text>
<text transform="translate(165.6 977.8) rotate(90)" font-size="20.8" font-weight="bold" text-anchor="start" fill="#000">MAGs phylum</text>
<text x="1783.3" y="111" font-size="20.9" font-weight="bold" fill="#000">Lipid category</text>
<text x="1862.2" y="172.6" font-size="21.1" fill="#000">Correlation <tspan font-style="italic">R</tspan></text>
<defs><linearGradient id="cb" x1="0" y1="0" x2="0" y2="1"><stop offset="0%" stop-color="#E53438"/><stop offset="8.3%" stop-color="#EB4E3C"/><stop offset="16.7%" stop-color="#F07248"/><stop offset="25%" stop-color="#F69858"/><stop offset="33.3%" stop-color="#FABC70"/><stop offset="41.7%" stop-color="#FBDD96"/><stop offset="45.8%" stop-color="#F4E6B4"/><stop offset="50%" stop-color="#E6E8D9"/><stop offset="58.3%" stop-color="#CBE3EC"/><stop offset="66.7%" stop-color="#A8D2E6"/><stop offset="75%" stop-color="#86BDDE"/><stop offset="83.3%" stop-color="#69A4D3"/><stop offset="91.7%" stop-color="#4F88C4"/><stop offset="100%" stop-color="#3E6FB2"/></linearGradient></defs>
<rect x="1862.9" y="197.7" width="18.3" height="273.1" fill="url(#cb)"/>
<text x="1889" y="204.2" font-size="20.3" fill="#000">0.6</text>
<text x="1889" y="249.6" font-size="20.3" fill="#000">0.4</text>
<text x="1889" y="295" font-size="20.3" fill="#000">0.2</text>
<text x="1889" y="340.4" font-size="20.3" fill="#000">0</text>
<text x="1889" y="385.8" font-size="20.3" fill="#000">−0.2</text>
<text x="1889" y="431.2" font-size="20.3" fill="#000">−0.4</text>
<text x="1889" y="476.6" font-size="20.3" fill="#000">−0.6</text>
<text x="1862.5" y="565.9" font-size="20.8" font-weight="bold" fill="#000">Lipid category</text>
<rect x="1862.5" y="572.1" width="25.8" height="26.4" fill="#E6605F"/>
<text x="1893.6" y="591.2" font-size="20.7" fill="#000">Fatty.Acyl</text>
<rect x="1862.5" y="598.2" width="25.8" height="26.4" fill="#875B9E"/>
<text x="1893.6" y="617.4" font-size="20.7" fill="#000">Glycerolipid</text>
<rect x="1862.5" y="624.4" width="25.8" height="26.4" fill="#FBC41F"/>
<text x="1893.6" y="643.5" font-size="20.7" fill="#000">Sphingolipid</text>
<rect x="1862.5" y="650.5" width="25.8" height="26.4" fill="#4CB08E"/>
<text x="1893.6" y="669.6" font-size="20.7" fill="#000">Phospholipid</text>
<rect x="1862.5" y="676.7" width="25.8" height="26.4" fill="#A8ABAD"/>
<text x="1893.6" y="695.8" font-size="20.7" fill="#000">UNK</text>
<text x="1862.5" y="735.5" font-size="20.8" font-weight="bold" fill="#000">MAGs phylum</text>
<rect x="1862.5" y="742.3" width="25.8" height="26.4" fill="#E9E67C"/>
<text x="1893.6" y="761.4" font-size="20.7" fill="#000">Actinobacteria</text>
<rect x="1862.5" y="768.4" width="25.8" height="26.4" fill="#EC5E6C"/>
<text x="1893.6" y="787.5" font-size="20.7" fill="#000">Bacteroidetes</text>
<rect x="1862.5" y="794.6" width="25.8" height="26.4" fill="#243E78"/>
<text x="1893.6" y="813.7" font-size="20.7" fill="#000">Firmicutes</text>
<rect x="1862.5" y="820.8" width="25.8" height="26.4" fill="#A4D5F0"/>
<text x="1893.6" y="839.9" font-size="20.7" fill="#000">Tenericutes</text>
<rect x="1862.5" y="846.9" width="25.8" height="26.4" fill="#834B25"/>
<text x="1893.6" y="866" font-size="20.7" fill="#000">Verrucomicrobia</text>
<rect x="1862.5" y="873" width="25.8" height="26.4" fill="#A8ABAD"/>
<text x="1893.6" y="892.1" font-size="20.7" fill="#000">unclassified</text>
<g shape-rendering="crispEdges">
<rect x="481.9" y="1140.3" width="412.5" height="33.8" fill="#4CB08E"/>
<rect x="476.2" y="1155.9" width="5" height="2.6" fill="#222"/>
<rect x="481.9" y="1177.9" width="201.6" height="33.8" fill="#FAC51E"/>
<rect x="476.2" y="1193.5" width="5" height="2.6" fill="#222"/>
<rect x="481.9" y="1215.5" width="118.3" height="33.8" fill="#A8ABAD"/>
<rect x="476.2" y="1231.1" width="5" height="2.6" fill="#222"/>
<rect x="480.1" y="1135.7" width="3.3" height="119.2" fill="#000"/>
<rect x="481.9" y="1301.3" width="719.8" height="33.8" fill="#E1665F"/>
<rect x="476.2" y="1316.9" width="5" height="2.6" fill="#222"/>
<rect x="481.9" y="1338.9" width="551.4" height="33.8" fill="#FAC51E"/>
<rect x="476.2" y="1354.5" width="5" height="2.6" fill="#222"/>
<rect x="481.9" y="1376.5" width="372.3" height="33.8" fill="#FAC51E"/>
<rect x="476.2" y="1392.1" width="5" height="2.6" fill="#222"/>
<rect x="481.9" y="1414.2" width="140.1" height="33.8" fill="#FAC51E"/>
<rect x="476.2" y="1429.8" width="5" height="2.6" fill="#222"/>
<rect x="481.9" y="1451.8" width="140.1" height="33.8" fill="#FAC51E"/>
<rect x="476.2" y="1467.4" width="5" height="2.6" fill="#222"/>
<rect x="481.9" y="1489.4" width="114.1" height="33.8" fill="#FAC51E"/>
<rect x="476.2" y="1505" width="5" height="2.6" fill="#222"/>
<rect x="481.9" y="1527" width="37.8" height="33.8" fill="#FAC51E"/>
<rect x="476.2" y="1542.6" width="5" height="2.6" fill="#222"/>
<rect x="481.9" y="1564.6" width="18.1" height="33.8" fill="#875B9C"/>
<rect x="476.2" y="1580.2" width="5" height="2.6" fill="#222"/>
<rect x="480.1" y="1296.4" width="3.3" height="303.9" fill="#000"/>
<rect x="481.9" y="1645.2" width="449.9" height="33.8" fill="#4CB08E"/>
<rect x="476.2" y="1660.8" width="5" height="2.6" fill="#222"/>
<rect x="481.9" y="1682.8" width="445" height="33.8" fill="#4CB08E"/>
<rect x="476.2" y="1698.4" width="5" height="2.6" fill="#222"/>
<rect x="481.9" y="1720.4" width="197" height="33.8" fill="#4CB08E"/>
<rect x="476.2" y="1736" width="5" height="2.6" fill="#222"/>
<rect x="481.9" y="1758.1" width="129.8" height="33.8" fill="#4CB08E"/>
<rect x="476.2" y="1773.7" width="5" height="2.6" fill="#222"/>
<rect x="481.9" y="1795.7" width="91.6" height="33.8" fill="#4CB08E"/>
<rect x="476.2" y="1811.3" width="5" height="2.6" fill="#222"/>
<rect x="481.9" y="1833.3" width="34.5" height="33.8" fill="#4CB08E"/>
<rect x="476.2" y="1848.9" width="5" height="2.6" fill="#222"/>
<rect x="480.1" y="1639.8" width="3.3" height="231.2" fill="#000"/>
<rect x="481.9" y="1935.2" width="394.1" height="33.8" fill="#E1665F"/>
<rect x="476.2" y="1950.8" width="5" height="2.6" fill="#222"/>
<rect x="481.9" y="1972.8" width="263" height="33.8" fill="#4CB08E"/>
<rect x="476.2" y="1988.4" width="5" height="2.6" fill="#222"/>
<rect x="481.9" y="2010.4" width="135.9" height="33.8" fill="#FAC51E"/>
<rect x="476.2" y="2026" width="5" height="2.6" fill="#222"/>
<rect x="481.9" y="2048.1" width="135.9" height="33.8" fill="#4CB08E"/>
<rect x="476.2" y="2063.7" width="5" height="2.6" fill="#222"/>
<rect x="481.9" y="2085.7" width="30.8" height="33.8" fill="#FAC51E"/>
<rect x="476.2" y="2101.3" width="5" height="2.6" fill="#222"/>
<rect x="481.9" y="2123.3" width="30.8" height="33.8" fill="#4CB08E"/>
<rect x="476.2" y="2138.9" width="5" height="2.6" fill="#222"/>
<rect x="481.9" y="2160.9" width="30.8" height="33.8" fill="#4CB08E"/>
<rect x="476.2" y="2176.5" width="5" height="2.6" fill="#222"/>
<rect x="480.1" y="1929.5" width="3.3" height="269.1" fill="#000"/>
<rect x="481.9" y="2262.3" width="995.6" height="33.8" fill="#875B9C"/>
<rect x="476.2" y="2277.9" width="5" height="2.6" fill="#222"/>
<rect x="480.1" y="2257" width="3.3" height="44.3" fill="#000"/>
<rect x="481.9" y="2352.2" width="489.3" height="33.8" fill="#875B9C"/>
<rect x="476.2" y="2367.8" width="5" height="2.6" fill="#222"/>
<rect x="481.9" y="2389.8" width="375.6" height="33.8" fill="#4CB08E"/>
<rect x="476.2" y="2405.4" width="5" height="2.6" fill="#222"/>
<rect x="481.9" y="2427.4" width="141.7" height="33.8" fill="#4CB08E"/>
<rect x="476.2" y="2443" width="5" height="2.6" fill="#222"/>
<rect x="481.9" y="2465.1" width="141.7" height="33.8" fill="#4CB08E"/>
<rect x="476.2" y="2480.7" width="5" height="2.6" fill="#222"/>
<rect x="481.9" y="2502.7" width="124.1" height="33.8" fill="#4CB08E"/>
<rect x="476.2" y="2518.3" width="5" height="2.6" fill="#222"/>
<rect x="480.1" y="2347.3" width="3.3" height="194.3" fill="#000"/>
<rect x="480.5" y="2540.2" width="997" height="2.8" fill="#000"/>
<rect x="481.2" y="2543" width="2.8" height="4.2" fill="#222"/>
<rect x="636.2" y="2543" width="2.8" height="4.2" fill="#222"/>
<rect x="727.2" y="2543" width="2.8" height="4.2" fill="#222"/>
<rect x="791.8" y="2543" width="2.8" height="4.2" fill="#222"/>
<rect x="841.9" y="2543" width="2.8" height="4.2" fill="#222"/>
<rect x="997.5" y="2543" width="2.8" height="4.2" fill="#222"/>
<rect x="1153.1" y="2543" width="2.8" height="4.2" fill="#222"/>
<rect x="1464.3" y="2543" width="2.8" height="4.2" fill="#222"/>
</g>
<text x="467" y="1166.8" font-size="27.35" text-anchor="end" fill="#1A1A1A">Phospholipid: PE</text>
<text x="467" y="1204.4" font-size="27.35" text-anchor="end" fill="#1A1A1A">Sphingolipid: Cer [BS]</text>
<text x="467" y="1242" font-size="27.35" text-anchor="end" fill="#1A1A1A">UNK: UNK</text>
<text x="467" y="1327.8" font-size="27.35" text-anchor="end" fill="#1A1A1A">Fatty.Acyl: FA</text>
<text x="467" y="1365.4" font-size="27.35" text-anchor="end" fill="#1A1A1A">Sphingolipid: Cer [NS]</text>
<text x="467" y="1403" font-size="27.35" text-anchor="end" fill="#1A1A1A">Sphingolipid: Cer [NP]</text>
<text x="467" y="1440.7" font-size="27.35" text-anchor="end" fill="#1A1A1A">Sphingolipid: Cer [AP]</text>
<text x="467" y="1478.3" font-size="27.35" text-anchor="end" fill="#1A1A1A">Sphingolipid: SP</text>
<text x="467" y="1515.9" font-size="27.35" text-anchor="end" fill="#1A1A1A">Sphingolipid: Cer [AS]</text>
<text x="467" y="1553.5" font-size="27.35" text-anchor="end" fill="#1A1A1A">Sphingolipid: SHexCer</text>
<text x="467" y="1591.1" font-size="27.35" text-anchor="end" fill="#1A1A1A">Glycerolipid: DG</text>
<text x="467" y="1671.7" font-size="27.35" text-anchor="end" fill="#1A1A1A">Phospholipid: Plasmenyl-PC</text>
<text x="467" y="1709.3" font-size="27.35" text-anchor="end" fill="#1A1A1A">Phospholipid: PC</text>
<text x="467" y="1746.9" font-size="27.35" text-anchor="end" fill="#1A1A1A">Phospholipid: Plasmanyl-PE</text>
<text x="467" y="1784.6" font-size="27.35" text-anchor="end" fill="#1A1A1A">Phospholipid: LysoPE</text>
<text x="467" y="1822.2" font-size="27.35" text-anchor="end" fill="#1A1A1A">Phospholipid: PI</text>
<text x="467" y="1859.8" font-size="27.35" text-anchor="end" fill="#1A1A1A">Phospholipid: PE</text>
<text x="467" y="1961.7" font-size="27.35" text-anchor="end" fill="#1A1A1A">Fatty.Acyl: AC</text>
<text x="467" y="1999.3" font-size="27.35" text-anchor="end" fill="#1A1A1A">Phospholipid: CL</text>
<text x="467" y="2036.9" font-size="27.35" text-anchor="end" fill="#1A1A1A">Sphingolipid: Cer [AS]</text>
<text x="467" y="2074.6" font-size="27.35" text-anchor="end" fill="#1A1A1A">Phospholipid: LysoPC</text>
<text x="467" y="2112.2" font-size="27.35" text-anchor="end" fill="#1A1A1A">Sphingolipid: HexCer [AP]</text>
<text x="467" y="2149.8" font-size="27.35" text-anchor="end" fill="#1A1A1A">Phospholipid: LysoPI</text>
<text x="467" y="2187.4" font-size="27.35" text-anchor="end" fill="#1A1A1A">Phospholipid: Plasmenyl-PC</text>
<text x="467" y="2288.8" font-size="27.35" text-anchor="end" fill="#1A1A1A">Glycerolipid: TG</text>
<text x="467" y="2378.7" font-size="27.35" text-anchor="end" fill="#1A1A1A">Glycerolipid: MGDG</text>
<text x="467" y="2416.3" font-size="27.35" text-anchor="end" fill="#1A1A1A">Phospholipid: PG</text>
<text x="467" y="2453.9" font-size="27.35" text-anchor="end" fill="#1A1A1A">Phospholipid: PC</text>
<text x="467" y="2491.6" font-size="27.35" text-anchor="end" fill="#1A1A1A">Phospholipid: Plasmanyl-PC</text>
<text x="467" y="2529.2" font-size="27.35" text-anchor="end" fill="#1A1A1A">Phospholipid: Lyso-PE</text>
<text x="486" y="2572.6" font-size="25" text-anchor="middle" fill="#000">1</text>
<text x="637.6" y="2572.6" font-size="25" text-anchor="middle" fill="#000">2</text>
<text x="728.6" y="2572.6" font-size="25" text-anchor="middle" fill="#000">3</text>
<text x="793.2" y="2572.6" font-size="25" text-anchor="middle" fill="#000">4</text>
<text x="843.3" y="2572.6" font-size="25" text-anchor="middle" fill="#000">5</text>
<text x="998.9" y="2572.6" font-size="25" text-anchor="middle" fill="#000">10</text>
<text x="1154.5" y="2572.6" font-size="25" text-anchor="middle" fill="#000">20</text>
<text x="1465.7" y="2572.6" font-size="25" text-anchor="middle" fill="#000">80</text>
<text x="942" y="2607.3" font-size="27.5" text-anchor="middle" fill="#000">-log10(1/P<tspan font-size="16" dy="8">adj-BH</tspan><tspan dy="-8">)</tspan></text>
<rect x="1516.3" y="1134.7" width="30.8" height="119.2" fill="#C6DBEF" stroke="#0A1622" stroke-width="1.9"/>
<text transform="translate(1522 1192.8) rotate(90)" font-size="26.8" text-anchor="middle" fill="#0A1622">cluster1</text>
<rect x="1516.3" y="1268.3" width="30.8" height="343.6" fill="#C6DBEF" stroke="#0A1622" stroke-width="1.9"/>
<text transform="translate(1522 1426.8) rotate(90)" font-size="26.8" text-anchor="middle" fill="#0A1622">cluster2</text>
<rect x="1516.3" y="1628.5" width="30.8" height="231.6" fill="#C6DBEF" stroke="#0A1622" stroke-width="1.9"/>
<text transform="translate(1522 1730.3) rotate(90)" font-size="26.8" text-anchor="middle" fill="#0A1622">cluster3</text>
<rect x="1516.3" y="1902.3" width="30.8" height="268.9" fill="#C6DBEF" stroke="#0A1622" stroke-width="1.9"/>
<text transform="translate(1522 2016) rotate(90)" font-size="26.8" text-anchor="middle" fill="#0A1622">cluster4</text>
<rect x="1516.3" y="2217.9" width="30.8" height="118.4" fill="#C6DBEF" stroke="#0A1622" stroke-width="1.9"/>
<text transform="translate(1522 2276.5) rotate(90)" font-size="26.8" text-anchor="middle" fill="#0A1622">cluster5</text>
<rect x="1516.3" y="2342.5" width="30.8" height="194.2" fill="#C6DBEF" stroke="#0A1622" stroke-width="1.9"/>
<text transform="translate(1522 2438.5) rotate(90)" font-size="26.8" text-anchor="middle" fill="#0A1622">cluster6</text>
<text x="1618" y="1699.8" font-size="27.3" fill="#000">Lipid category</text>
<rect x="1618.8" y="1751.1" width="29.3" height="29.4" fill="#E1665F"/>
<text x="1659.5" y="1772.5" font-size="21.7" fill="#000">Fatty.Acyl</text>
<rect x="1618.8" y="1782.7" width="29.3" height="29.4" fill="#875B9C"/>
<text x="1659.5" y="1804.1" font-size="21.7" fill="#000">Glycerolipid</text>
<rect x="1618.8" y="1814.2" width="29.3" height="29.4" fill="#4CB08E"/>
<text x="1659.5" y="1835.6" font-size="21.7" fill="#000">Phospholipid</text>
<rect x="1618.8" y="1845.8" width="29.3" height="29.4" fill="#FAC51E"/>
<text x="1659.5" y="1867.2" font-size="21.7" fill="#000">Sphingolipid</text>
<rect x="1618.8" y="1877.3" width="29.3" height="29.4" fill="#A8ABAD"/>
<text x="1659.5" y="1898.7" font-size="21.7" fill="#000">UNK</text>
</svg>
</body></html>
